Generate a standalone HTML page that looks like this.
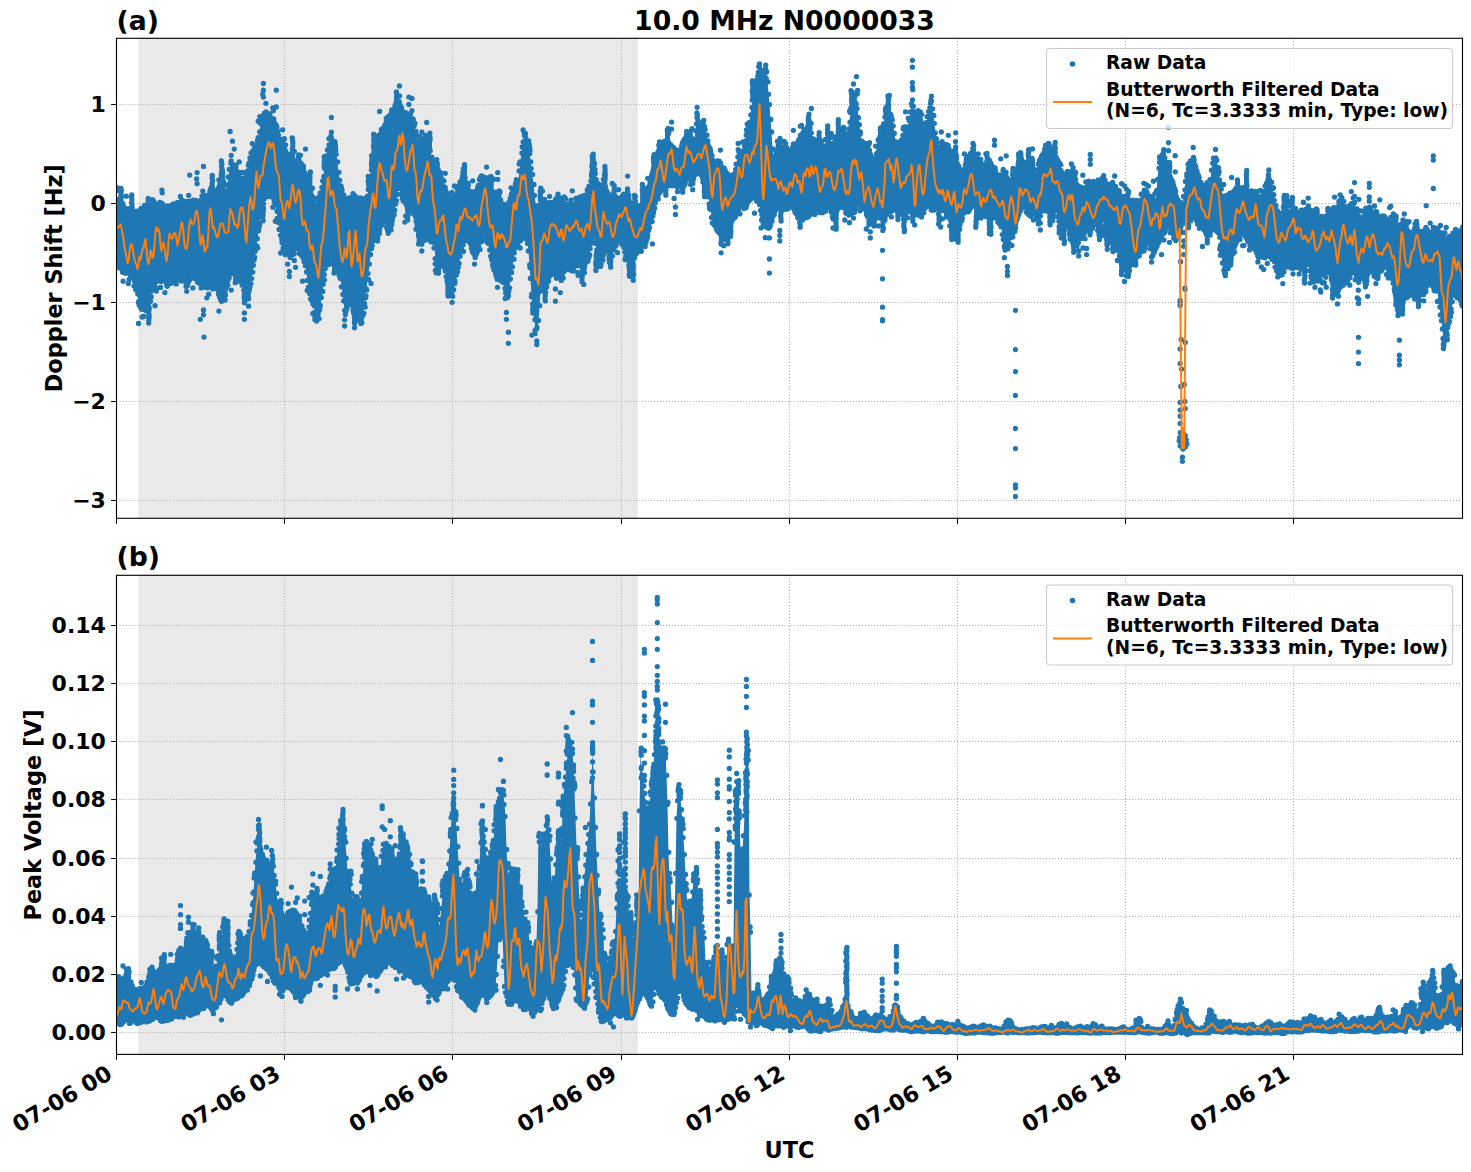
<!DOCTYPE html>
<html lang="en"><head><meta charset="utf-8"><title>10.0 MHz N0000033</title>
<style>html,body{margin:0;padding:0;background:#fff}body{width:1471px;height:1172px;overflow:hidden}</style></head>
<body>
<svg width="1471" height="1172" viewBox="0 0 1471 1172" font-family="DejaVu Sans, Liberation Sans, sans-serif" font-weight="bold" style="display:block">
<rect width="1471" height="1172" fill="#fff"/>
<defs>
<clipPath id="ca"><rect x="116.5" y="38.3" width="1346.0" height="479.99999999999994"/></clipPath>
<clipPath id="cb"><rect x="116.5" y="575.3" width="1346.0" height="479.10000000000014"/></clipPath>
</defs>
<rect x="139.2" y="38.3" width="497.8" height="479.99999999999994" fill="#d3d3d3" fill-opacity="0.5" stroke="#d3d3d3" stroke-opacity="0.5" stroke-width="1.3"/>
<path d="M284.5 38.3V518.3M452.5 38.3V518.3M621.5 38.3V518.3M789.5 38.3V518.3M957.5 38.3V518.3M1125.5 38.3V518.3M1293.5 38.3V518.3M116.5 104.5H1462.5M116.5 203.5H1462.5M116.5 302.5H1462.5M116.5 401.5H1462.5M116.5 500.5H1462.5" stroke="#b0b0b0" stroke-width="1" stroke-dasharray="1.07 1.9" fill="none"/>
<g clip-path="url(#ca)">
<path d="M116.5 200.3L117.5 199L118.5 199.6L119.5 200.8L120.5 201.8L121.5 202.6L122.5 204L123.5 206.3L124.5 209.9L125.5 212.5L126.5 212.6L127.5 210.8L128.5 208.9L129.5 207.9L130.5 208.2L131.5 209.5L132.5 211.1L133.5 212.5L134.5 213.3L135.5 214L136.5 214.8L137.5 215L138.5 213.4L139.5 211.6L140.5 210.8L141.5 210.9L142.5 210.7L143.5 210.3L144.5 209.5L145.5 208.9L146.5 208.8L147.5 209.5L148.5 210.6L149.5 211.1L150.5 210.2L151.5 208.6L152.5 206.9L153.5 205.6L154.5 204.8L155.5 204.7L156.5 205.1L157.5 205L158.5 203.7L159.5 202.5L160.5 202.5L161.5 203.4L162.5 205L163.5 206.5L164.5 207L165.5 206.9L166.5 206.7L167.5 206.7L168.5 207.1L169.5 207.3L170.5 206.6L171.5 205.5L172.5 204.6L173.5 204.5L174.5 205.3L175.5 205.6L176.5 205.3L177.5 204.7L178.5 204.1L179.5 203.3L180.5 202.6L181.5 202.9L182.5 203.8L183.5 203.6L184.5 202.4L185.5 202.1L186.5 202.9L187.5 203.5L188.5 203.3L189.5 202.4L190.5 201.6L191.5 201.5L192.5 201.4L193.5 200.4L194.5 199.3L195.5 199.4L196.5 200.9L197.5 202.4L198.5 202.6L199.5 201.4L200.5 199.2L201.5 196.9L202.5 196.3L203.5 196.9L204.5 197.6L205.5 197.7L206.5 198.1L207.5 196.7L208.5 195.2L209.5 192.5L210.5 189.3L211.5 187.6L212.5 190.1L213.5 192.8L214.5 194.1L215.5 194L216.5 193.4L217.5 190.5L218.5 187.9L219.5 185.2L220.5 182.4L221.5 180.7L222.5 183.2L223.5 186.5L224.5 190.2L225.5 193.3L226.5 192.7L227.5 184.7L228.5 176.2L229.5 169.4L230.5 164.2L231.5 161.3L232.5 164.1L233.5 167.1L234.5 169L235.5 169.7L236.5 170.3L237.5 171.7L238.5 174.5L239.5 177.4L240.5 179.1L241.5 179.2L242.5 178.5L243.5 178.5L244.5 178.6L245.5 177.6L246.5 174.3L247.5 169.2L248.5 165.3L249.5 163.1L250.5 161.3L251.5 158.6L252.5 155.1L253.5 151.6L254.5 148.5L255.5 145.9L256.5 143.4L257.5 140.8L258.5 137.1L259.5 131L260.5 123.8L261.5 118.7L262.5 116.3L263.5 115.3L264.5 113.9L265.5 111.3L266.5 111.2L267.5 112.7L268.5 113.7L269.5 115.2L270.5 117.4L271.5 119.1L272.5 120L273.5 121L274.5 122.5L275.5 124.6L276.5 127.7L277.5 130.9L278.5 134.1L279.5 137.7L280.5 140.5L281.5 141.6L282.5 142.2L283.5 143.6L284.5 146.3L285.5 149.6L286.5 152.7L287.5 155.2L288.5 156.9L289.5 158L290.5 158.7L291.5 158.3L292.5 158.2L293.5 159.3L294.5 161.3L295.5 163.6L296.5 165.4L297.5 165.5L298.5 164.4L299.5 163.7L300.5 163.9L301.5 165.8L302.5 167.8L303.5 170.3L304.5 173L305.5 175.4L306.5 179.3L307.5 182.4L308.5 185.1L309.5 188.1L310.5 192L311.5 195.1L312.5 199.1L313.5 203.2L314.5 206.5L315.5 208.8L316.5 207.2L317.5 204.5L318.5 201L319.5 197.6L320.5 193.9L321.5 186.9L322.5 180.7L323.5 175.1L324.5 169.3L325.5 163L326.5 156.7L327.5 150.3L328.5 144.3L329.5 138.7L330.5 135.8L331.5 138.9L332.5 141.6L333.5 143.8L334.5 145.7L335.5 148.8L336.5 154.9L337.5 162.4L338.5 170.9L339.5 179L340.5 184.6L341.5 187.5L342.5 190.7L343.5 194.5L344.5 198.5L345.5 200.2L346.5 199L347.5 198L348.5 198L349.5 198.3L350.5 198.6L351.5 198.9L352.5 199.1L353.5 198.6L354.5 197.6L355.5 197.2L356.5 198.4L357.5 200.1L358.5 201L359.5 200.5L360.5 199L361.5 198.6L362.5 199.6L363.5 200.4L364.5 199.3L365.5 197.6L366.5 196.4L367.5 194.9L368.5 189.2L369.5 182.8L370.5 176L371.5 169.3L372.5 163.2L373.5 158.2L374.5 153.3L375.5 148.4L376.5 143.1L377.5 138.3L378.5 135.1L379.5 134.4L380.5 133.7L381.5 132.1L382.5 130L383.5 128L384.5 126.1L385.5 124.4L386.5 122.5L387.5 120.6L388.5 118.9L389.5 116.9L390.5 115L391.5 113.4L392.5 112.4L393.5 111L394.5 108.5L395.5 106.4L396.5 104.7L397.5 103.1L398.5 101.9L399.5 101.6L400.5 105.3L401.5 108.7L402.5 111.5L403.5 113L404.5 112.8L405.5 112.6L406.5 113.7L407.5 115.1L408.5 116.2L409.5 116.9L410.5 116.7L411.5 119.7L412.5 122.1L413.5 123.7L414.5 126L415.5 130.7L416.5 136.2L417.5 141.6L418.5 144.2L419.5 143.7L420.5 142.8L421.5 142.3L422.5 140.9L423.5 139.6L424.5 138.2L425.5 136.2L426.5 139.9L427.5 141.8L428.5 143.7L429.5 147.1L430.5 151.8L431.5 156.9L432.5 160.9L433.5 164.2L434.5 167.4L435.5 170.4L436.5 173.1L437.5 173.8L438.5 174.4L439.5 175.8L440.5 177.6L441.5 178.1L442.5 179.4L443.5 181.6L444.5 185.8L445.5 190.6L446.5 193.3L447.5 195L448.5 196.6L449.5 198.5L450.5 200.2L451.5 201.2L452.5 198.7L453.5 197.3L454.5 197.9L455.5 198.3L456.5 195.8L457.5 192.2L458.5 188.7L459.5 185.2L460.5 181.9L461.5 178.8L462.5 175.4L463.5 177.4L464.5 179.5L465.5 181.9L466.5 184.4L467.5 186.7L468.5 189.8L469.5 193L470.5 194.5L471.5 194.3L472.5 194.2L473.5 195.1L474.5 194.1L475.5 192.6L476.5 191L477.5 188.3L478.5 184.5L479.5 180.3L480.5 177.4L481.5 176.9L482.5 177.7L483.5 177.2L484.5 175.9L485.5 176.7L486.5 178.7L487.5 180.6L488.5 182.4L489.5 185.9L490.5 189.5L491.5 192.7L492.5 195.6L493.5 197.1L494.5 197.7L495.5 197.8L496.5 197.3L497.5 196.9L498.5 197.2L499.5 197.7L500.5 200.3L501.5 203L502.5 204.8L503.5 205L504.5 204.1L505.5 204.3L506.5 206.3L507.5 207.4L508.5 205.2L509.5 201.8L510.5 198.1L511.5 195L512.5 192.8L513.5 190.8L514.5 187.8L515.5 184.7L516.5 182.5L517.5 181.8L518.5 179.4L519.5 170.3L520.5 161L521.5 152.2L522.5 145.7L523.5 140.5L524.5 135.1L525.5 136.8L526.5 138.2L527.5 139.7L528.5 143.8L529.5 152.3L530.5 160.4L531.5 167.5L532.5 175.2L533.5 184.5L534.5 194.2L535.5 203.9L536.5 206.6L537.5 208.6L538.5 208.7L539.5 207.3L540.5 206.9L541.5 207.3L542.5 207L543.5 205.8L544.5 204.9L545.5 205.5L546.5 205.6L547.5 205.1L548.5 204.1L549.5 203.1L550.5 202.7L551.5 202.8L552.5 203L553.5 202.9L554.5 202.3L555.5 201.4L556.5 200.3L557.5 199.3L558.5 199.2L559.5 200.1L560.5 201.5L561.5 202.5L562.5 203.2L563.5 204L564.5 204.9L565.5 205.6L566.5 205.9L567.5 205.6L568.5 204.6L569.5 204.2L570.5 205.2L571.5 206.9L572.5 207.9L573.5 206.8L574.5 204.7L575.5 202.8L576.5 201.6L577.5 200.8L578.5 201.1L579.5 201.1L580.5 201L581.5 202L582.5 204.5L583.5 205.9L584.5 205.2L585.5 201.9L586.5 197.7L587.5 195L588.5 190L589.5 185.5L590.5 180.9L591.5 176L592.5 171.1L593.5 166.6L594.5 169.3L595.5 174.2L596.5 178.9L597.5 182.4L598.5 183.7L599.5 185.7L600.5 188.7L601.5 188.7L602.5 183.6L603.5 178.9L604.5 181.9L605.5 186.1L606.5 190.6L607.5 194.7L608.5 196.5L609.5 197.5L610.5 197.7L611.5 197.6L612.5 197L613.5 196L614.5 195.5L615.5 196.4L616.5 197.7L617.5 198.4L618.5 198.4L619.5 198.4L620.5 198.1L621.5 197.2L622.5 195.5L623.5 193.8L624.5 194.3L625.5 195.4L626.5 197.1L627.5 199.4L628.5 201.8L629.5 203.4L630.5 203.9L631.5 204.1L632.5 204.6L633.5 205L634.5 205.6L635.5 206.9L636.5 209.1L637.5 211L638.5 211.1L639.5 208.1L640.5 206.2L641.5 205.1L642.5 203.7L643.5 201L644.5 197.2L645.5 193.1L646.5 189.8L647.5 187.5L648.5 185.8L649.5 184.1L650.5 181.1L651.5 178.7L652.5 177L653.5 173.7L654.5 168.1L655.5 162L656.5 156.1L657.5 152.1L658.5 149.3L659.5 147.2L660.5 145.1L661.5 144.4L662.5 143L663.5 141.6L664.5 141.1L665.5 141.9L666.5 142.3L667.5 142.6L668.5 142.6L669.5 143L670.5 144.2L671.5 144.9L672.5 146.7L673.5 148.3L674.5 150L675.5 152.4L676.5 154.8L677.5 154.7L678.5 153.4L679.5 151.2L680.5 148.2L681.5 146.4L682.5 143.6L683.5 141.1L684.5 138.9L685.5 136.9L686.5 135.3L687.5 136.5L688.5 136.9L689.5 136.7L690.5 136.6L691.5 137.7L692.5 139.8L693.5 141.6L694.5 138.3L695.5 130.8L696.5 123.8L697.5 119.6L698.5 122.4L699.5 125.3L700.5 126.4L701.5 126.3L702.5 125.6L703.5 125.9L704.5 126.4L705.5 129.2L706.5 134.6L707.5 140L708.5 145.1L709.5 149.4L710.5 152.9L711.5 156.5L712.5 160.9L713.5 162.8L714.5 164.7L715.5 165.8L716.5 165.1L717.5 163L718.5 162L719.5 162.1L720.5 163.7L721.5 165.8L722.5 167.4L723.5 168.2L724.5 168.9L725.5 170.2L726.5 172.5L727.5 174.9L728.5 176.7L729.5 179.2L730.5 181.5L731.5 181.9L732.5 180.5L733.5 178.4L734.5 174.8L735.5 168.8L736.5 162.8L737.5 157.4L738.5 152.5L739.5 152.2L740.5 153.1L741.5 154.2L742.5 153.7L743.5 149.6L744.5 145.1L745.5 140.1L746.5 135.3L747.5 131.1L748.5 126.9L749.5 121.9L750.5 114.5L751.5 106.6L752.5 98.9L753.5 92.1L754.5 88.5L755.5 84.6L756.5 80.4L757.5 75.7L758.5 71.1L759.5 67.8L760.5 70.3L761.5 72.2L762.5 73L763.5 72.7L764.5 70.6L765.5 68.5L766.5 71L767.5 82L768.5 93.3L769.5 105L770.5 118.7L771.5 133L772.5 147.6L773.5 156.7L774.5 156.6L775.5 154.7L776.5 151.5L777.5 148L778.5 145.2L779.5 143.7L780.5 143.8L781.5 146.3L782.5 149.5L783.5 151.3L784.5 150.8L785.5 149.3L786.5 148.3L787.5 148.4L788.5 149.5L789.5 151.3L790.5 153.5L791.5 154.4L792.5 153.7L793.5 151.6L794.5 148.8L795.5 146.9L796.5 145.8L797.5 144.1L798.5 141.2L799.5 138.1L800.5 136.4L801.5 136.4L802.5 136.6L803.5 135.7L804.5 134.3L805.5 133L806.5 129.8L807.5 126.5L808.5 122.2L809.5 122.3L810.5 127.5L811.5 133.2L812.5 138.3L813.5 139.9L814.5 140.4L815.5 141.4L816.5 143.9L817.5 147.6L818.5 149.9L819.5 150.6L820.5 149.7L821.5 148.4L822.5 148.4L823.5 148.1L824.5 147.1L825.5 145.8L826.5 145.5L827.5 146.3L828.5 147.1L829.5 146.8L830.5 145.4L831.5 143.5L832.5 142.3L833.5 142.5L834.5 143L835.5 142L836.5 139.8L837.5 137.8L838.5 136.5L839.5 135.3L840.5 134.2L841.5 133L842.5 132.2L843.5 134.3L844.5 136.4L845.5 139.1L846.5 138.7L847.5 133.4L848.5 127.8L849.5 121.2L850.5 113.5L851.5 105.8L852.5 99L853.5 93.1L854.5 97.2L855.5 100.9L856.5 103.9L857.5 108.1L858.5 116.5L859.5 125.1L860.5 134.1L861.5 141L862.5 145.6L863.5 149L864.5 151.8L865.5 149.4L866.5 146.9L867.5 145.3L868.5 145.3L869.5 150L870.5 155L871.5 159.2L872.5 161.5L873.5 161.7L874.5 161.3L875.5 160.7L876.5 155.9L877.5 151.1L878.5 148L879.5 144.8L880.5 140.6L881.5 135.2L882.5 129.3L883.5 123.7L884.5 117.9L885.5 113.2L886.5 112.9L887.5 114.3L888.5 114.8L889.5 113.8L890.5 115.3L891.5 117.4L892.5 120.4L893.5 125.5L894.5 133.2L895.5 140.7L896.5 146.9L897.5 147L898.5 145L899.5 144.6L900.5 145.2L901.5 140.5L902.5 134.8L903.5 129.4L904.5 126.3L905.5 127.3L906.5 127.8L907.5 128.1L908.5 125.2L909.5 119.4L910.5 112.2L911.5 104.7L912.5 104.2L913.5 107.2L914.5 111.9L915.5 116.5L916.5 117.8L917.5 117.8L918.5 117.1L919.5 118.5L920.5 122.2L921.5 125.9L922.5 129.8L923.5 129.8L924.5 127.9L925.5 125.4L926.5 122.2L927.5 117.1L928.5 111.9L929.5 107.4L930.5 103.9L931.5 101.4L932.5 108.5L933.5 115.9L934.5 124.3L935.5 132.4L936.5 138.4L937.5 143.3L938.5 147.5L939.5 148.8L940.5 147.5L941.5 145.5L942.5 143.9L943.5 144.8L944.5 145.7L945.5 146L946.5 146.6L947.5 147.5L948.5 149.7L949.5 152.6L950.5 154.7L951.5 154.7L952.5 153.3L953.5 152.4L954.5 153L955.5 154.7L956.5 157.7L957.5 162.2L958.5 166.5L959.5 171.4L960.5 174.2L961.5 174.8L962.5 173.8L963.5 171.4L964.5 168.4L965.5 165.6L966.5 163.4L967.5 161.3L968.5 158.6L969.5 156L970.5 154L971.5 153.4L972.5 153.5L973.5 153.2L974.5 153.4L975.5 155.1L976.5 156.8L977.5 158.4L978.5 160.4L979.5 164.1L980.5 167L981.5 168L982.5 166.9L983.5 164.4L984.5 164.2L985.5 164.5L986.5 164.2L987.5 162.7L988.5 160.7L989.5 159.6L990.5 161.9L991.5 164.4L992.5 165.9L993.5 167.3L994.5 169.8L995.5 172.8L996.5 175.6L997.5 176.3L998.5 175.6L999.5 175.6L1000.5 175.5L1001.5 175.2L1002.5 174.4L1003.5 174.2L1004.5 175.1L1005.5 176.1L1006.5 176.9L1007.5 178.5L1008.5 180.6L1009.5 181.5L1010.5 181.6L1011.5 181.4L1012.5 180.6L1013.5 179.6L1014.5 178.4L1015.5 177.2L1016.5 173.5L1017.5 168.9L1018.5 163.8L1019.5 159.5L1020.5 158.7L1021.5 158.9L1022.5 160.2L1023.5 161.9L1024.5 163.4L1025.5 164.9L1026.5 166.1L1027.5 167.4L1028.5 168.9L1029.5 171.2L1030.5 173.9L1031.5 176.3L1032.5 179.1L1033.5 181.4L1034.5 181.1L1035.5 177.8L1036.5 174.1L1037.5 170.2L1038.5 164.4L1039.5 159.3L1040.5 156.8L1041.5 155.8L1042.5 155.3L1043.5 152.6L1044.5 148.7L1045.5 145.7L1046.5 145.1L1047.5 144.7L1048.5 144.4L1049.5 145.6L1050.5 148L1051.5 150.6L1052.5 153.3L1053.5 155.1L1054.5 155.9L1055.5 156.5L1056.5 157.6L1057.5 160.1L1058.5 161.7L1059.5 163.2L1060.5 165.6L1061.5 169.2L1062.5 173L1063.5 176.3L1064.5 176.2L1065.5 174.8L1066.5 174.3L1067.5 174.3L1068.5 174.4L1069.5 173.7L1070.5 172.2L1071.5 170.5L1072.5 169.5L1073.5 169.7L1074.5 174.6L1075.5 180L1076.5 184.9L1077.5 190.2L1078.5 190.3L1079.5 189.6L1080.5 187.5L1081.5 186.3L1082.5 187.9L1083.5 189.8L1084.5 191.2L1085.5 189.5L1086.5 186.7L1087.5 183.9L1088.5 180.5L1089.5 181.1L1090.5 182.2L1091.5 184L1092.5 186.1L1093.5 187.3L1094.5 188.6L1095.5 189.6L1096.5 188.3L1097.5 185.4L1098.5 183.7L1099.5 182.9L1100.5 183.2L1101.5 182.4L1102.5 180.5L1103.5 178.7L1104.5 180.3L1105.5 183.1L1106.5 186.1L1107.5 188.5L1108.5 190.3L1109.5 192.1L1110.5 193.2L1111.5 193.1L1112.5 192.1L1113.5 190L1114.5 186.5L1115.5 186.8L1116.5 189.2L1117.5 192.5L1118.5 194.4L1119.5 194L1120.5 194.8L1121.5 196.7L1122.5 198.1L1123.5 198.5L1124.5 198.5L1125.5 198.6L1126.5 198.8L1127.5 199.9L1128.5 201.6L1129.5 203L1130.5 203.2L1131.5 202.2L1132.5 200.9L1133.5 200.1L1134.5 200.2L1135.5 201.1L1136.5 202.6L1137.5 203.5L1138.5 203.6L1139.5 203.4L1140.5 203.4L1141.5 200.5L1142.5 197.4L1143.5 193.4L1144.5 189.9L1145.5 189.9L1146.5 190.8L1147.5 193.5L1148.5 195.8L1149.5 196.9L1150.5 197L1151.5 196.9L1152.5 199L1153.5 201.7L1154.5 203.4L1155.5 202.3L1156.5 190.3L1157.5 178.7L1158.5 167.8L1159.5 161.3L1160.5 159.9L1161.5 157.5L1162.5 154.6L1163.5 154.6L1164.5 157.5L1165.5 162.3L1166.5 166.7L1167.5 169.5L1168.5 170.7L1169.5 172.6L1170.5 175.5L1171.5 178.2L1172.5 180.9L1173.5 184L1174.5 188.5L1175.5 193.2L1176.5 197.1L1177.5 200.1L1178.5 200.6L1179.5 201.1L1180.5 202.4L1181.5 204.3L1182.5 206.2L1183.5 197.4L1184.5 189L1185.5 182L1186.5 176.4L1187.5 174L1188.5 169.4L1189.5 163.9L1190.5 161L1191.5 161L1192.5 161.4L1193.5 162.2L1194.5 164.2L1195.5 166.7L1196.5 169.2L1197.5 172L1198.5 175.5L1199.5 178.5L1200.5 181L1201.5 183.4L1202.5 185.9L1203.5 188.4L1204.5 191.1L1205.5 192.6L1206.5 193.1L1207.5 194L1208.5 195.5L1209.5 187.4L1210.5 179L1211.5 170.4L1212.5 163.1L1213.5 161.6L1214.5 159.7L1215.5 156.8L1216.5 158.8L1217.5 166.6L1218.5 175L1219.5 182.1L1220.5 185.8L1221.5 189.9L1222.5 195.5L1223.5 201L1224.5 200.4L1225.5 199.1L1226.5 197.3L1227.5 195.8L1228.5 195L1229.5 194.1L1230.5 192.6L1231.5 192.6L1232.5 192.9L1233.5 192.1L1234.5 190.6L1235.5 188.8L1236.5 188.8L1237.5 190.4L1238.5 192L1239.5 192.3L1240.5 191L1241.5 188.5L1242.5 186.7L1243.5 187L1244.5 188.5L1245.5 189.9L1246.5 190.7L1247.5 191.2L1248.5 192.3L1249.5 193.9L1250.5 192.7L1251.5 191.7L1252.5 191L1253.5 191.4L1254.5 192.7L1255.5 192.4L1256.5 191.6L1257.5 192.4L1258.5 195.5L1259.5 198.8L1260.5 200.3L1261.5 198.7L1262.5 196.1L1263.5 193.4L1264.5 190.6L1265.5 186.7L1266.5 183.8L1267.5 180.7L1268.5 179.7L1269.5 180.3L1270.5 181.2L1271.5 182.1L1272.5 187.4L1273.5 193.5L1274.5 201.1L1275.5 209.5L1276.5 212.5L1277.5 214.2L1278.5 214.6L1279.5 214.4L1280.5 213.8L1281.5 212.9L1282.5 212.2L1283.5 212.6L1284.5 214L1285.5 215.3L1286.5 216.1L1287.5 216.3L1288.5 215.5L1289.5 214L1290.5 213.2L1291.5 213.6L1292.5 214.2L1293.5 214.1L1294.5 213.8L1295.5 213.6L1296.5 213.6L1297.5 213.2L1298.5 212.2L1299.5 211L1300.5 210.7L1301.5 211.7L1302.5 212.5L1303.5 212.9L1304.5 212.5L1305.5 209.8L1306.5 208.7L1307.5 207.2L1308.5 205.9L1309.5 209.8L1310.5 211.3L1311.5 213.3L1312.5 215.7L1313.5 218.1L1314.5 219.8L1315.5 220.7L1316.5 220.6L1317.5 220.2L1318.5 219.7L1319.5 218.7L1320.5 217.3L1321.5 216.6L1322.5 216.5L1323.5 216.3L1324.5 216.4L1325.5 216.4L1326.5 216.1L1327.5 215.7L1328.5 215.5L1329.5 214.5L1330.5 213.5L1331.5 213.2L1332.5 213.9L1333.5 214.8L1334.5 213.7L1335.5 211.4L1336.5 208.5L1337.5 205.4L1338.5 202.8L1339.5 201.4L1340.5 200.5L1341.5 202.7L1342.5 204.3L1343.5 205.3L1344.5 206.2L1345.5 207.7L1346.5 209.9L1347.5 211.4L1348.5 209.2L1349.5 206.3L1350.5 204.3L1351.5 203L1352.5 204.5L1353.5 206.4L1354.5 209.3L1355.5 212L1356.5 213.9L1357.5 215.6L1358.5 217L1359.5 217.1L1360.5 217.1L1361.5 217.8L1362.5 219.3L1363.5 220L1364.5 218.9L1365.5 216.6L1366.5 212.4L1367.5 209.1L1368.5 207L1369.5 206.5L1370.5 209.5L1371.5 211.9L1372.5 213.6L1373.5 213.5L1374.5 212.6L1375.5 212L1376.5 212.8L1377.5 214.7L1378.5 216.4L1379.5 217.3L1380.5 217.4L1381.5 216.8L1382.5 215.9L1383.5 215.7L1384.5 216.2L1385.5 217.5L1386.5 218.8L1387.5 220L1388.5 220.7L1389.5 220L1390.5 218L1391.5 216.9L1392.5 217.1L1393.5 218.3L1394.5 219.9L1395.5 221.7L1396.5 223.6L1397.5 225.6L1398.5 227.1L1399.5 227.2L1400.5 225.5L1401.5 223L1402.5 222.2L1403.5 222.3L1404.5 223.5L1405.5 225.6L1406.5 227.8L1407.5 229.8L1408.5 231.3L1409.5 232.3L1410.5 233.9L1411.5 236.3L1412.5 236.9L1413.5 232.5L1414.5 227.8L1415.5 224.8L1416.5 226.4L1417.5 229.6L1418.5 231.4L1419.5 231.9L1420.5 232.2L1421.5 232.2L1422.5 232.5L1423.5 231.8L1424.5 230.4L1425.5 229.6L1426.5 229.2L1427.5 230.5L1428.5 232.3L1429.5 233.8L1430.5 233.8L1431.5 232.7L1432.5 232.4L1433.5 232.2L1434.5 230.8L1435.5 228.9L1436.5 227.8L1437.5 227.8L1438.5 230.6L1439.5 233.3L1440.5 235.2L1441.5 235.5L1442.5 235.1L1443.5 236L1444.5 238.3L1445.5 240.7L1446.5 242L1447.5 240.4L1448.5 238.3L1449.5 237.3L1450.5 236.4L1451.5 236.8L1452.5 236.9L1453.5 237.2L1454.5 237.4L1455.5 237L1456.5 236L1457.5 234.5L1458.5 232.9L1459.5 231.4L1460.5 230.5L1461.5 230.4L1462.5 230.8L1462.5 305.7L1461.5 303.8L1460.5 301.3L1459.5 298.7L1458.5 297.4L1457.5 297.7L1456.5 296.5L1455.5 294.6L1454.5 291.7L1453.5 294.5L1452.5 302.4L1451.5 310L1450.5 317.4L1449.5 320.5L1448.5 323.8L1447.5 328.4L1446.5 332.7L1445.5 335.5L1444.5 337.3L1443.5 337.5L1442.5 329.8L1441.5 321.2L1440.5 314L1439.5 307.2L1438.5 300L1437.5 291.6L1436.5 287.8L1435.5 286.3L1434.5 286.4L1433.5 287.1L1432.5 287.3L1431.5 285.6L1430.5 283.2L1429.5 281.5L1428.5 281L1427.5 281.4L1426.5 282.1L1425.5 284.6L1424.5 287L1423.5 289.9L1422.5 290.4L1421.5 288.3L1420.5 286.5L1419.5 285.2L1418.5 288.4L1417.5 291.2L1416.5 293.6L1415.5 295.1L1414.5 294.4L1413.5 293L1412.5 291.9L1411.5 293.2L1410.5 295.1L1409.5 296.4L1408.5 297.2L1407.5 296.8L1406.5 297.2L1405.5 297.7L1404.5 299.3L1403.5 301L1402.5 301.2L1401.5 300.5L1400.5 302.4L1399.5 306L1398.5 311L1397.5 310.9L1396.5 303L1395.5 294.6L1394.5 286.5L1393.5 282.8L1392.5 279.3L1391.5 275.6L1390.5 272.6L1389.5 271.2L1388.5 269.3L1387.5 267.3L1386.5 265.7L1385.5 265.6L1384.5 266.6L1383.5 267.4L1382.5 268.2L1381.5 268.4L1380.5 268.8L1379.5 269.6L1378.5 270.8L1377.5 272.2L1376.5 273.2L1375.5 272.5L1374.5 272L1373.5 271.3L1372.5 270.5L1371.5 270.5L1370.5 271.2L1369.5 272.5L1368.5 274L1367.5 274.5L1366.5 274.1L1365.5 273.8L1364.5 275.2L1363.5 276.5L1362.5 277.5L1361.5 278.1L1360.5 278.8L1359.5 280.2L1358.5 282.3L1357.5 280L1356.5 276.9L1355.5 273.3L1354.5 270.5L1353.5 268.8L1352.5 267.9L1351.5 268.9L1350.5 273.5L1349.5 277.2L1348.5 278.4L1347.5 278.5L1346.5 279.7L1345.5 282.2L1344.5 283.9L1343.5 283L1342.5 281.4L1341.5 280.3L1340.5 280.2L1339.5 284.9L1338.5 289.7L1337.5 294.1L1336.5 293.4L1335.5 289.2L1334.5 286.2L1333.5 282.8L1332.5 280.1L1331.5 276.9L1330.5 273.9L1329.5 271L1328.5 268.3L1327.5 269.1L1326.5 271L1325.5 273L1324.5 273.8L1323.5 273.3L1322.5 273.5L1321.5 275.9L1320.5 279.4L1319.5 282L1318.5 282.6L1317.5 281.9L1316.5 280.7L1315.5 280L1314.5 281L1313.5 281.2L1312.5 280.7L1311.5 278.5L1310.5 275L1309.5 271.2L1308.5 263.9L1307.5 263.7L1306.5 264.1L1305.5 265L1304.5 265.7L1303.5 266.8L1302.5 267.9L1301.5 268.6L1300.5 269L1299.5 268L1298.5 266L1297.5 264.7L1296.5 264.1L1295.5 264.6L1294.5 265.3L1293.5 264.9L1292.5 263.2L1291.5 260.9L1290.5 259.3L1289.5 259L1288.5 259.1L1287.5 258.8L1286.5 258.5L1285.5 263.4L1284.5 267.9L1283.5 271.9L1282.5 274.2L1281.5 272.4L1280.5 271.8L1279.5 272.2L1278.5 272.4L1277.5 271.2L1276.5 269L1275.5 266.8L1274.5 262.1L1273.5 257.7L1272.5 252.8L1271.5 247.1L1270.5 246.4L1269.5 247.2L1268.5 249.8L1267.5 252.9L1266.5 255.8L1265.5 257.9L1264.5 258.9L1263.5 257.8L1262.5 256.7L1261.5 257L1260.5 257.8L1259.5 256.9L1258.5 256.4L1257.5 255.7L1256.5 254.1L1255.5 251.5L1254.5 248.4L1253.5 246.3L1252.5 246.1L1251.5 246.4L1250.5 246.2L1249.5 245.6L1248.5 243L1247.5 240L1246.5 237.2L1245.5 235.5L1244.5 234.9L1243.5 234.5L1242.5 233.7L1241.5 233.8L1240.5 235.7L1239.5 237.3L1238.5 238.5L1237.5 239.9L1236.5 242.2L1235.5 244.7L1234.5 246.6L1233.5 248.5L1232.5 249.4L1231.5 250.4L1230.5 252.5L1229.5 256L1228.5 260.1L1227.5 263.7L1226.5 265.4L1225.5 266.4L1224.5 268.5L1223.5 270.9L1222.5 263.9L1221.5 254.7L1220.5 245.1L1219.5 236.8L1218.5 233.3L1217.5 230.7L1216.5 227.9L1215.5 226.4L1214.5 226.9L1213.5 228.1L1212.5 228.9L1211.5 229.2L1210.5 229.8L1209.5 231.9L1208.5 234.7L1207.5 235L1206.5 234.3L1205.5 232.6L1204.5 230.4L1203.5 228.4L1202.5 227.1L1201.5 226.9L1200.5 228.1L1199.5 228.2L1198.5 226.2L1197.5 223.3L1196.5 220.1L1195.5 217.2L1194.5 215.4L1193.5 215.2L1192.5 216.2L1191.5 217.1L1190.5 217.8L1189.5 218.9L1188.5 220L1187.5 220.2L1186.5 219.8L1185.5 220.3L1184.5 221L1183.5 221.7L1182.5 223.1L1181.5 226.8L1180.5 230.5L1179.5 233.4L1178.5 235.7L1177.5 237.9L1176.5 236.4L1175.5 235.4L1174.5 234.8L1173.5 234.8L1172.5 233.9L1171.5 231.1L1170.5 228L1169.5 226.5L1168.5 226.3L1167.5 226.7L1166.5 227.9L1165.5 230.5L1164.5 232.4L1163.5 233.5L1162.5 234.6L1161.5 236.4L1160.5 238.8L1159.5 241.1L1158.5 243.4L1157.5 245.1L1156.5 246.2L1155.5 248.1L1154.5 250.9L1153.5 254.2L1152.5 256.4L1151.5 256L1150.5 249.9L1149.5 244.4L1148.5 240.5L1147.5 239.8L1146.5 242.4L1145.5 245.3L1144.5 248L1143.5 250.2L1142.5 250.8L1141.5 251L1140.5 252.2L1139.5 252.5L1138.5 253.5L1137.5 255.5L1136.5 258.3L1135.5 260.2L1134.5 260L1133.5 258.1L1132.5 257L1131.5 258.5L1130.5 262.3L1129.5 266.8L1128.5 269.4L1127.5 270.6L1126.5 270.9L1125.5 270.5L1124.5 267.8L1123.5 265.5L1122.5 263.4L1121.5 261.2L1120.5 258.3L1119.5 255.2L1118.5 252.4L1117.5 248.7L1116.5 243.8L1115.5 238.3L1114.5 233.4L1113.5 233L1112.5 232.3L1111.5 231.9L1110.5 232.8L1109.5 235.5L1108.5 238.6L1107.5 241.8L1106.5 239.8L1105.5 233.5L1104.5 226.4L1103.5 220.1L1102.5 219.7L1101.5 220.3L1100.5 220.6L1099.5 220.1L1098.5 219.8L1097.5 219.7L1096.5 220.1L1095.5 220.4L1094.5 221.3L1093.5 223.1L1092.5 225.5L1091.5 227.3L1090.5 228.3L1089.5 228.4L1088.5 227.8L1087.5 228.3L1086.5 229.3L1085.5 231.2L1084.5 233.5L1083.5 234.4L1082.5 234.4L1081.5 234.2L1080.5 236.1L1079.5 239L1078.5 242.3L1077.5 246L1076.5 244L1075.5 240.4L1074.5 236.1L1073.5 232.5L1072.5 231.4L1071.5 231.7L1070.5 231.4L1069.5 229L1068.5 225L1067.5 221L1066.5 221.5L1065.5 223.2L1064.5 225.6L1063.5 227.1L1062.5 227.6L1061.5 228.1L1060.5 228.7L1059.5 225.9L1058.5 221.1L1057.5 216L1056.5 210.2L1055.5 208.1L1054.5 207.1L1053.5 207.3L1052.5 208.8L1051.5 210.8L1050.5 211.6L1049.5 210.6L1048.5 208.9L1047.5 207.4L1046.5 206.5L1045.5 206.3L1044.5 207.2L1043.5 208.9L1042.5 210L1041.5 210.5L1040.5 211.4L1039.5 213.2L1038.5 214.8L1037.5 215.4L1036.5 215.1L1035.5 214.4L1034.5 213.5L1033.5 212.8L1032.5 212.5L1031.5 212.2L1030.5 211L1029.5 209.9L1028.5 209.7L1027.5 210.1L1026.5 209.8L1025.5 208.6L1024.5 207L1023.5 205.4L1022.5 205L1021.5 206.4L1020.5 209.5L1019.5 212.6L1018.5 215.9L1017.5 218.5L1016.5 221L1015.5 223.7L1014.5 227L1013.5 230.3L1012.5 233.1L1011.5 235.5L1010.5 238.7L1009.5 242.9L1008.5 247.4L1007.5 248.1L1006.5 246.5L1005.5 245.3L1004.5 244.8L1003.5 239.9L1002.5 234.1L1001.5 228.3L1000.5 223.9L999.5 223.1L998.5 221.2L997.5 217.8L996.5 214.6L995.5 212.7L994.5 212.2L993.5 213L992.5 214.5L991.5 216L990.5 215.9L989.5 214.2L988.5 213.2L987.5 213.5L986.5 214.7L985.5 215.5L984.5 215.5L983.5 215.2L982.5 215.2L981.5 215.8L980.5 216.2L979.5 215.8L978.5 214.1L977.5 211.2L976.5 209L975.5 207.6L974.5 205.8L973.5 203.9L972.5 203.2L971.5 205L970.5 208.1L969.5 210.5L968.5 211L967.5 209.8L966.5 209.8L965.5 210.7L964.5 211.9L963.5 213.5L962.5 217.5L961.5 221.7L960.5 225.8L959.5 228.8L958.5 229.8L957.5 230L956.5 230.3L955.5 229.3L954.5 228L953.5 226.3L952.5 223.8L951.5 221.3L950.5 219.7L949.5 217.9L948.5 215.6L947.5 213.5L946.5 212L945.5 211.2L944.5 210.6L943.5 209.6L942.5 208.2L941.5 206.8L940.5 205.7L939.5 205.6L938.5 206.7L937.5 208L936.5 208.4L935.5 208.3L934.5 209.3L933.5 210.8L932.5 211.2L931.5 210.3L930.5 208.4L929.5 206.5L928.5 205.2L927.5 204.9L926.5 205.4L925.5 207.3L924.5 209.7L923.5 211.8L922.5 212.7L921.5 212.3L920.5 212L919.5 212.2L918.5 212.4L917.5 212.6L916.5 213.5L915.5 214.9L914.5 215.1L913.5 213L912.5 209.2L911.5 206L910.5 205L909.5 206.6L908.5 209.3L907.5 211.1L906.5 211.4L905.5 211.3L904.5 211.9L903.5 213.1L902.5 213.7L901.5 212.8L900.5 211.2L899.5 210.8L898.5 211.5L897.5 211.6L896.5 210.4L895.5 208.7L894.5 207.7L893.5 207.9L892.5 208.8L891.5 209.6L890.5 209.6L889.5 209.5L888.5 210.5L887.5 212.5L886.5 215.1L885.5 217L884.5 217.8L883.5 217.7L882.5 218.1L881.5 217.4L880.5 217.4L879.5 217.5L878.5 217.4L877.5 216.3L876.5 215L875.5 214.8L874.5 215.4L873.5 215.6L872.5 215.6L871.5 216.2L870.5 217.1L869.5 217.5L868.5 217.6L867.5 215.4L866.5 212.7L865.5 210L864.5 208.5L863.5 209.2L862.5 209.7L861.5 209.2L860.5 207.8L859.5 206.3L858.5 205.2L857.5 204.9L856.5 204.9L855.5 205.7L854.5 207.6L853.5 210.2L852.5 212.4L851.5 213.8L850.5 214.5L849.5 214.8L848.5 214.8L847.5 214L846.5 212.7L845.5 210.3L844.5 207.5L843.5 204.9L842.5 202.8L841.5 202.3L840.5 203.7L839.5 206.1L838.5 207.9L837.5 208.3L836.5 210.4L835.5 213.1L834.5 216.4L833.5 218.8L832.5 216.3L831.5 212.9L830.5 209.5L829.5 207.5L828.5 206.9L827.5 206.3L826.5 206.7L825.5 206.7L824.5 207.1L823.5 208.3L822.5 209.4L821.5 209.6L820.5 209.5L819.5 209.4L818.5 209.1L817.5 209.1L816.5 209.2L815.5 209.4L814.5 210.2L813.5 211.7L812.5 212.9L811.5 214L810.5 214.4L809.5 214.3L808.5 213.6L807.5 213.1L806.5 213.6L805.5 214.4L804.5 215.2L803.5 215.7L802.5 215.9L801.5 216L800.5 216.4L799.5 217L798.5 217.6L797.5 216.8L796.5 214.7L795.5 212.1L794.5 210.1L793.5 208.2L792.5 206.6L791.5 205.9L790.5 206.2L789.5 207.4L788.5 208.5L787.5 208.9L786.5 208.8L785.5 208.8L784.5 209.2L783.5 209.5L782.5 209.3L781.5 208.6L780.5 207.5L779.5 206.3L778.5 206L777.5 207.3L776.5 209.7L775.5 211.9L774.5 213.4L773.5 214.7L772.5 217.3L771.5 221L770.5 224.9L769.5 228.7L768.5 228.7L767.5 227.4L766.5 226.4L765.5 225.6L764.5 224.7L763.5 223.5L762.5 219.8L761.5 215L760.5 209.8L759.5 204.7L758.5 201.5L757.5 198.8L756.5 197.7L755.5 198L754.5 197.8L753.5 196.9L752.5 197.1L751.5 198.2L750.5 199.5L749.5 200.1L748.5 200.7L747.5 201.5L746.5 203.3L745.5 205.7L744.5 207.5L743.5 208.2L742.5 207L741.5 205.1L740.5 204.5L739.5 205.8L738.5 207.7L737.5 210.5L736.5 212.4L735.5 213.9L734.5 215.8L733.5 218L732.5 220.3L731.5 222.4L730.5 224L729.5 225.7L728.5 228.8L727.5 233.5L726.5 237.7L725.5 239.5L724.5 239.2L723.5 238.6L722.5 237.6L721.5 236.4L720.5 234.3L719.5 232L718.5 230.5L717.5 229.9L716.5 229.1L715.5 227L714.5 224.7L713.5 223.2L712.5 222.5L711.5 216.4L710.5 210L709.5 203.3L708.5 196.6L707.5 190.9L706.5 185.3L705.5 180.5L704.5 178.7L703.5 178.3L702.5 177.1L701.5 175.6L700.5 174.4L699.5 173.6L698.5 173.2L697.5 173.2L696.5 173.9L695.5 174.8L694.5 176.2L693.5 177.9L692.5 178.6L691.5 177.9L690.5 176.8L689.5 175.9L688.5 176.1L687.5 178L686.5 180.5L685.5 183.7L684.5 185.5L683.5 186.5L682.5 187.1L681.5 186.7L680.5 185.9L679.5 184.7L678.5 183.6L677.5 182.8L676.5 182.8L675.5 183.8L674.5 183.7L673.5 183.5L672.5 184.1L671.5 185.4L670.5 186.3L669.5 185.5L668.5 183.8L667.5 183.3L666.5 184.3L665.5 185.8L664.5 187.5L663.5 188.9L662.5 189.9L661.5 191.1L660.5 192.5L659.5 193.6L658.5 194.3L657.5 195.4L656.5 197.9L655.5 203.1L654.5 208.5L653.5 213.4L652.5 216.7L651.5 219.4L650.5 223.2L649.5 227.7L648.5 231.3L647.5 234.7L646.5 239.2L645.5 243.7L644.5 244.9L643.5 244L642.5 242.6L641.5 242.4L640.5 244.2L639.5 246.8L638.5 249.7L637.5 251.7L636.5 253L635.5 254.4L634.5 256.8L633.5 261L632.5 263.9L631.5 265.3L630.5 264.2L629.5 260L628.5 257.5L627.5 256.5L626.5 256.6L625.5 255.7L624.5 252.3L623.5 247.6L622.5 244.6L621.5 242.8L620.5 241.3L619.5 240.2L618.5 240.8L617.5 241.2L616.5 241.7L615.5 243.7L614.5 246.6L613.5 248.6L612.5 249.1L611.5 248.4L610.5 248.5L609.5 249.2L608.5 249.5L607.5 249.2L606.5 249L605.5 249.9L604.5 252.3L603.5 255.9L602.5 261L601.5 264.3L600.5 263.6L599.5 261.9L598.5 261L597.5 259.4L596.5 251.6L595.5 242.7L594.5 234.7L593.5 230.8L592.5 236.9L591.5 243.4L590.5 249.6L589.5 254.3L588.5 258L587.5 261.5L586.5 261L585.5 259.8L584.5 259.4L583.5 260.4L582.5 262.1L581.5 263.7L580.5 264.7L579.5 265.2L578.5 265.8L577.5 266.2L576.5 265.7L575.5 264.4L574.5 263.5L573.5 263.2L572.5 262.8L571.5 261.9L570.5 260.7L569.5 259.7L568.5 259.9L567.5 261.6L566.5 263.9L565.5 265.6L564.5 266.7L563.5 267.4L562.5 267.5L561.5 267L560.5 266.8L559.5 268.3L558.5 270.6L557.5 271.4L556.5 270L555.5 268.3L554.5 268.3L553.5 269.8L552.5 272.3L551.5 274.6L550.5 276.1L549.5 278L548.5 280.8L547.5 282.7L546.5 282.3L545.5 280.7L544.5 280.1L543.5 281.8L542.5 284.4L541.5 287.4L540.5 291.7L539.5 306.6L538.5 321L537.5 328.4L536.5 329.7L535.5 329.6L534.5 320.8L533.5 312.6L532.5 304.8L531.5 294.5L530.5 279.6L529.5 265.4L528.5 251L527.5 243.4L526.5 239.4L525.5 235.5L524.5 231.7L523.5 231.5L522.5 230.8L521.5 231.1L520.5 233.8L519.5 237.1L518.5 240.5L517.5 242.9L516.5 245.5L515.5 248.9L514.5 252.6L513.5 259.8L512.5 266.5L511.5 273.4L510.5 280.6L509.5 287L508.5 292.7L507.5 299L506.5 298.7L505.5 293.4L504.5 287.5L503.5 282.5L502.5 281.5L501.5 281L500.5 279.8L499.5 278.8L498.5 279.2L497.5 278.9L496.5 277.3L495.5 274.1L494.5 270.1L493.5 266.5L492.5 263.8L491.5 259.9L490.5 255.6L489.5 250.5L488.5 244.9L487.5 240.2L486.5 235.6L485.5 230.9L484.5 228L483.5 228.7L482.5 229.8L481.5 231.1L480.5 234.9L479.5 240.5L478.5 246.4L477.5 251.6L476.5 252.4L475.5 253.2L474.5 254.5L473.5 254.5L472.5 251L471.5 247.6L470.5 244.7L469.5 242.5L468.5 240.9L467.5 239.8L466.5 238.6L465.5 240L464.5 242.1L463.5 243.9L462.5 245.4L461.5 250.5L460.5 256.4L459.5 263L458.5 268.7L457.5 272.5L456.5 275.9L455.5 279.8L454.5 284.7L453.5 289.2L452.5 291.8L451.5 292.9L450.5 288.2L449.5 284.4L448.5 281.9L447.5 279.8L446.5 276.7L445.5 271.9L444.5 266.9L443.5 264.7L442.5 265.6L441.5 266.7L440.5 266.8L439.5 266.4L438.5 266.1L437.5 266.2L436.5 265.2L435.5 257.9L434.5 249.3L433.5 242.3L432.5 238.6L431.5 237.2L430.5 235.9L429.5 233.9L428.5 233.7L427.5 233.7L426.5 233.5L425.5 233.5L424.5 235.8L423.5 237.7L422.5 238.4L421.5 237.2L420.5 233.3L419.5 230.7L418.5 228.6L417.5 225.7L416.5 221.6L415.5 217.8L414.5 215.4L413.5 214.2L412.5 212.6L411.5 209.4L410.5 205.2L409.5 203.4L408.5 202.3L407.5 202.9L406.5 203.7L405.5 202.6L404.5 200L403.5 195.8L402.5 191.2L401.5 187.5L400.5 185.4L399.5 184.1L398.5 189.5L397.5 194.9L396.5 200L395.5 205L394.5 210.1L393.5 214.5L392.5 218.2L391.5 220.7L390.5 222.8L389.5 224.5L388.5 222.3L387.5 220.2L386.5 218.9L385.5 219.4L384.5 221.2L383.5 222.1L382.5 221.4L381.5 221.5L380.5 222.8L379.5 225.1L378.5 227.6L377.5 228.9L376.5 229.6L375.5 230.6L374.5 232.5L373.5 235.6L372.5 238.7L371.5 245.8L370.5 254.8L369.5 264L368.5 272.6L367.5 280.3L366.5 287.9L365.5 295.6L364.5 304.1L363.5 313.5L362.5 316.6L361.5 318.2L360.5 317.4L359.5 315.7L358.5 315.1L357.5 316.3L356.5 317.5L355.5 317.3L354.5 314.8L353.5 310.8L352.5 307.3L351.5 304.6L350.5 302.2L349.5 302.3L348.5 305.1L347.5 308.3L346.5 311.8L345.5 314.9L344.5 311L343.5 301.9L342.5 293.5L341.5 286.1L340.5 279.6L339.5 276.1L338.5 274.3L337.5 271.6L336.5 267.3L335.5 261.7L334.5 257.7L333.5 255.8L332.5 255.6L331.5 256.7L330.5 258.2L329.5 261.6L328.5 264.1L327.5 265.2L326.5 266.2L325.5 268L324.5 275L323.5 283.5L322.5 291.4L321.5 298.6L320.5 306L319.5 308.2L318.5 309.7L317.5 311.1L316.5 311.9L315.5 311.6L314.5 307.6L313.5 304.2L312.5 302.2L311.5 300.9L310.5 299.1L309.5 294.1L308.5 287.3L307.5 280L306.5 273.3L305.5 267L304.5 262.5L303.5 258.7L302.5 256.2L301.5 254.6L300.5 253.3L299.5 252.7L298.5 250.2L297.5 246.8L296.5 244.8L295.5 244.8L294.5 247.8L293.5 250.2L292.5 251.8L291.5 252.6L290.5 252.7L289.5 251.7L288.5 251.2L287.5 251L286.5 251.2L285.5 251.5L284.5 249.3L283.5 246.7L282.5 243.1L281.5 238.9L280.5 234.5L279.5 229L278.5 223.7L277.5 217.9L276.5 211.4L275.5 205.2L274.5 201.3L273.5 198.1L272.5 195.8L271.5 193.9L270.5 192.9L269.5 193.4L268.5 192.8L267.5 191.7L266.5 191.8L265.5 194.9L264.5 200.2L263.5 204.4L262.5 208.2L261.5 212L260.5 217L259.5 224.2L258.5 231.9L257.5 239.1L256.5 245.7L255.5 251.8L254.5 257.9L253.5 264.8L252.5 272.2L251.5 279.2L250.5 284.2L249.5 287.6L248.5 290.8L247.5 294.3L246.5 298.6L245.5 298.8L244.5 295.5L243.5 291.3L242.5 286.3L241.5 281.5L240.5 277.7L239.5 274.3L238.5 271.5L237.5 269.5L236.5 267.1L235.5 265.8L234.5 264.9L233.5 264.7L232.5 266.3L231.5 269.3L230.5 273.5L229.5 277.6L228.5 281.8L227.5 286L226.5 289.1L225.5 290.3L224.5 291L223.5 292.9L222.5 296.4L221.5 300.9L220.5 300.6L219.5 298.2L218.5 294.5L217.5 290.8L216.5 287.7L215.5 286.2L214.5 284.8L213.5 283.8L212.5 283.8L211.5 284.6L210.5 286.6L209.5 287.4L208.5 287.5L207.5 287.6L206.5 287.7L205.5 287.9L204.5 286.9L203.5 285.9L202.5 286.1L201.5 287.4L200.5 284.8L199.5 282.7L198.5 280.7L197.5 278.7L196.5 277.7L195.5 278.7L194.5 278.4L193.5 276.6L192.5 274.6L191.5 274L190.5 276.6L189.5 279.3L188.5 282.5L187.5 285.9L186.5 287.2L185.5 283.4L184.5 279.2L183.5 276L182.5 274.1L181.5 273.4L180.5 274.7L179.5 275.6L178.5 276.2L177.5 277.2L176.5 278.2L175.5 278.6L174.5 278.1L173.5 277.9L172.5 278.7L171.5 280.5L170.5 282.7L169.5 283.8L168.5 284.2L167.5 284.2L166.5 283.3L165.5 281.5L164.5 280.7L163.5 280L162.5 279.3L161.5 279.4L160.5 280L159.5 280.1L158.5 280.4L157.5 280.8L156.5 281.4L155.5 282.5L154.5 284.2L153.5 285.9L152.5 287.5L151.5 291.4L150.5 296.8L149.5 301.5L148.5 305.2L147.5 308.7L146.5 310L145.5 309.7L144.5 309.2L143.5 309.1L142.5 310L141.5 309.1L140.5 307.1L139.5 304.3L138.5 300.4L137.5 295.4L136.5 290.1L135.5 285.6L134.5 282.2L133.5 279.2L132.5 275.8L131.5 274.3L130.5 273.7L129.5 273.5L128.5 273.2L127.5 272.8L126.5 272.6L125.5 272.4L124.5 272.2L123.5 272.2L122.5 271.5L121.5 270L120.5 268.4L119.5 267.5L118.5 266.7L117.5 265.4L116.5 264.9Z" fill="#1f77b4"/>
<path d="M116.1 200.7h0M116.7 264.3h0M117.6 199.4h0M118 265.7h0M117 187.6h0M119 201h0M118.8 266.7h0M118.4 190.6h0M119.4 200.4h0M119.4 267.9h0M120.6 202.9h0M120.4 268.1h0M121.3 203.8h0M121.6 268.8h0M121.1 200.5h0M121.1 197.7h0M120.9 195.5h0M121.1 192.7h0M121.3 190.4h0M121 188.4h0M122.6 203.5h0M122.5 272.2h0M123.5 205.8h0M123.3 271.5h0M123.1 281.2h0M124.9 209.2h0M124.6 273.1h0M125.5 212.7h0M125.9 273.3h0M126.8 212.6h0M126.3 271.5h0M126.2 196.2h0M127.5 209.9h0M128 271.7h0M127.9 208.6h0M128.1 208.8h0M128.9 271.9h0M128.4 283.5h0M129.2 209.2h0M129.4 272.8h0M129.1 279.4h0M130.4 209.6h0M130.5 274.7h0M130.7 277.8h0M131.2 210.3h0M131.8 274.4h0M132.1 207.4h0M132 204.8h0M131.6 202.4h0M131.9 199.4h0M131.4 196.8h0M131.8 194.8h0M133 210.3h0M132.3 276.3h0M132 207.7h0M133.6 213.6h0M133.8 278.1h0M134 286.1h0M134.8 214.4h0M134.6 281.3h0M135.8 214.8h0M135.2 285.9h0M135.7 289.5h0M136.6 215h0M136.8 290.4h0M136.9 211.1h0M137.1 215h0M137.8 294.1h0M138.7 214.6h0M139 301.2h0M138.5 302.5h0M139 212.6h0M139.2 305h0M140.5 209.9h0M140.4 306.4h0M141 208.5h0M141.1 212.2h0M141.2 308.7h0M142.6 211.4h0M142.3 309.4h0M142.2 317h0M143.4 211.6h0M143.5 309.2h0M143.9 316.4h0M144 210.3h0M144.8 309.5h0M144.6 205.4h0M145.9 209.7h0M145.4 308.2h0M146.3 209h0M146.2 310.7h0M147.6 210.3h0M147.7 308.7h0M148.1 210.6h0M148.3 303.8h0M148 208.5h0M147.8 206.1h0M148.3 203h0M148.1 200.6h0M148.2 198.4h0M148.5 308.6h0M149.2 307.3h0M149.1 309.8h0M148.6 312.2h0M149.1 315h0M149.1 318h0M148.8 320.2h0M148.7 323.1h0M149.2 211.4h0M149.7 300.4h0M149.3 208.9h0M150.4 209.6h0M150.6 297.6h0M150.6 208.1h0M151.3 205.2h0M150.5 301.2h0M151.5 209h0M151.4 290.9h0M151.2 296.7h0M152.2 207.8h0M152.3 287.9h0M152.5 199.7h0M153.3 205.9h0M153.6 285.7h0M153.6 203.5h0M153.7 201.2h0M154.5 205.6h0M154.6 284.7h0M155.9 204.2h0M155.7 281h0M155.6 288.3h0M155 305.7h0M156.4 205.7h0M156.5 281.6h0M156.3 291h0M156.2 288.5h0M158 205.2h0M157.5 279.7h0M158.1 203.8h0M158.7 279.6h0M159.8 202.3h0M159.5 279.1h0M160.2 203.5h0M160.4 280.4h0M160.5 287.4h0M161.7 203.2h0M161.4 279.5h0M161.9 190.1h0M161.2 281.5h0M162.7 204.1h0M163 279.2h0M162.2 192.8h0M163.1 207.9h0M163.3 278.8h0M164.3 206.6h0M164.6 280h0M165.2 206.1h0M165.3 280.4h0M166.9 206.8h0M166.5 284.2h0M167.9 205.9h0M167.9 283.4h0M167.2 286.3h0M168.2 208.3h0M168 283.1h0M169.2 206.6h0M169.6 283.5h0M170.2 207h0M170.4 283.4h0M171.9 205h0M171.1 279.4h0M172.9 204.5h0M172.1 278.1h0M173.4 203.8h0M173.2 277.7h0M174.2 206.3h0M174.6 278.1h0M174.3 280.2h0M173.6 282.5h0M175.8 205.9h0M175.7 277.7h0M176.4 206.7h0M176.1 278.2h0M176.5 280.3h0M177.4 204.1h0M177.1 277h0M177 202.6h0M178.3 204.2h0M178.4 276.4h0M178.6 278.7h0M179.7 202.5h0M179.7 275.7h0M180.6 201.6h0M180.7 273.3h0M180.4 196.4h0M181.3 203.4h0M181.5 273.7h0M180.9 275.6h0M180.8 278.6h0M181.3 281h0M182.4 205.2h0M183 272.7h0M182.3 200.4h0M183 203.3h0M183.7 276.3h0M184.3 203.2h0M184.3 278.1h0M185.4 201.5h0M185.9 282.7h0M186.5 203.9h0M186.1 286.5h0M188 203.4h0M187.5 285.6h0M188.4 203.3h0M188.5 282h0M188.3 201.1h0M189.2 203.8h0M189.9 279.7h0M190.6 201.5h0M190.4 277.1h0M192 202.9h0M191.4 273h0M192.4 201.4h0M192.1 273.9h0M192.9 287.9h0M193.1 200.1h0M193.1 275.2h0M194.4 200.6h0M194.9 278.5h0M195.8 200.5h0M195 278.1h0M196.6 201.1h0M196.5 278.1h0M197.3 201.6h0M197.1 278.7h0M197.4 282h0M198 202.4h0M198.4 280.9h0M198.3 282.8h0M199.1 202.3h0M199.2 282.6h0M200.5 200.5h0M201 284.6h0M202 196.1h0M201.2 287.9h0M202.8 196.3h0M202.8 285.9h0M203.7 196.1h0M203.3 284.8h0M204.3 197.4h0M204.3 285.7h0M205.4 197.5h0M205.4 287.3h0M206.1 197.9h0M206.9 287.4h0M206.9 297.8h0M207.7 196h0M207.3 287.8h0M208.3 195.1h0M208.1 286.3h0M208.7 294.2h0M209.8 191.9h0M209.8 287.2h0M210.4 189.3h0M210.3 286.2h0M211.1 188.2h0M211.5 284.2h0M212.3 190.9h0M212 284.6h0M212.6 188h0M212.2 185.9h0M212.2 182.9h0M212.7 180.6h0M212.1 178h0M212.3 175.5h0M213 285.9h0M212.7 288.9h0M213.7 193.3h0M213.4 283.4h0M214.4 193.5h0M214.5 284.2h0M214.3 190.4h0M216 194.7h0M215.6 287h0M215.8 288.4h0M216.7 194.7h0M216.8 288.5h0M217.9 191.2h0M218 289.7h0M218.7 187.3h0M218.5 294h0M219.7 184.7h0M219.5 296.8h0M220.4 183.8h0M220.5 299.3h0M222 181.3h0M221.6 301.3h0M221.8 178.6h0M221.3 175.5h0M221.7 172.9h0M221.8 170.7h0M221.9 168.5h0M221.5 166.1h0M221.9 164h0M221.3 160.9h0M222.4 183.6h0M222.7 297.1h0M222.3 179.4h0M222.5 181.1h0M222.5 178.5h0M222.6 176.1h0M222.8 173.1h0M222.4 170.3h0M223.1 186.7h0M224 293.6h0M223.6 182h0M224.8 191.5h0M224.7 291h0M225.2 193.9h0M225 291.3h0M225.5 294.9h0M226.2 194h0M226.1 288.1h0M227.2 190.6h0M227.6 185h0M227.8 285.2h0M228.2 177h0M228.1 280.3h0M229.3 169.5h0M229.3 277.6h0M230.8 163.3h0M230.4 273.5h0M230.1 131.5h0M231.1 161h0M231.2 270.1h0M232.4 164.1h0M232.8 266.1h0M233.4 167h0M233.4 263.6h0M235 168.3h0M234 265.8h0M234.6 267h0M235.2 270.1h0M234.5 272.6h0M235.5 170.5h0M235.1 264.3h0M235.9 167.5h0M235.9 165.2h0M235.5 267.9h0M235.7 270.5h0M235.2 272.6h0M234.9 275h0M235.7 278.1h0M235.6 280.2h0M235.2 282.7h0M236 170.2h0M236.5 267.9h0M236.4 272h0M237.7 172.3h0M237.4 269h0M238.3 174.9h0M238.1 271.4h0M239 172.4h0M238.4 276.1h0M238.6 280h0M239.7 177.7h0M239.4 274.4h0M240.2 276.4h0M239.8 278.8h0M239.5 281.4h0M240 179.9h0M240.1 277.9h0M241.5 178.8h0M241.4 280.8h0M242.3 178.5h0M242.2 285.2h0M242.2 172.5h0M243.7 179.1h0M243.8 290.2h0M243.7 172.8h0M244.6 178.4h0M244.3 294.4h0M244.1 297.6h0M244.6 299.9h0M244.5 302.8h0M245.4 178.3h0M245.8 298.6h0M246.6 174.8h0M246.5 299.3h0M245.9 172.2h0M247.9 170.6h0M247.5 294.5h0M248.3 165.2h0M248.8 291.6h0M248.1 292.9h0M248.3 296h0M249.1 162.9h0M249.9 287.1h0M249.3 290.1h0M250.8 161.9h0M250.9 283.8h0M250 157.9h0M251 159.4h0M251.7 278.6h0M252.6 154.3h0M252.8 272.1h0M253.1 150.6h0M253.5 265.3h0M254.6 147.7h0M254.7 257.2h0M254.1 260h0M255.7 146.2h0M255.2 251.2h0M256.1 144.6h0M256.8 245.8h0M257.5 140.2h0M257.3 238.7h0M257.7 248.1h0M258.2 137.6h0M258.7 230.7h0M258.2 121.2h0M259.7 131.9h0M260 223.6h0M259.3 226.6h0M260.2 123.3h0M260.6 215.9h0M260.1 121.7h0M260 119.6h0M259.9 116.6h0M261.4 120h0M262 211.5h0M262.9 116.5h0M262.6 208.8h0M262.7 94.3h0M263 210.4h0M263 212.9h0M263 215.2h0M262.7 218.1h0M263.1 220.7h0M263.2 115.3h0M263.5 203.8h0M262.8 206.5h0M263.5 208.6h0M263.2 211.7h0M264.7 112.9h0M264.4 198.8h0M265.5 112.3h0M265.5 195.6h0M266.1 112h0M266.8 191h0M267.3 113.1h0M267.4 190.6h0M268.2 114.9h0M268.7 192.7h0M268.5 196.5h0M269.9 114.2h0M269.6 192.1h0M270.6 117.6h0M270.4 192.6h0M271.6 118.6h0M271.3 194.9h0M271.5 196.8h0M272.7 119.6h0M272.8 195.6h0M272.8 107.8h0M272.9 207.2h0M273.3 120.8h0M273.6 197.9h0M273.7 118.8h0M274.8 123.1h0M274.2 200.9h0M275.8 125h0M275 204h0M276.8 127h0M277 211.2h0M276.4 125.6h0M277.8 131.1h0M277.1 218.5h0M278.4 134.8h0M278.8 222.7h0M279.6 138.8h0M279.1 229.5h0M280.9 140.6h0M280.5 235.3h0M281.1 142.2h0M281.8 239.1h0M282.9 142.7h0M282 242.7h0M282.7 129.8h0M283.4 144.6h0M283.8 247h0M283 250.5h0M284.5 145.9h0M284.4 249.6h0M285.2 150.3h0M285.1 251.3h0M285.6 145h0M285.3 254.7h0M286.1 152.4h0M286.6 250.4h0M287.4 155h0M287.6 250.5h0M288.7 156.1h0M288.9 250.1h0M290 158.2h0M289.5 251.2h0M290.8 159.8h0M290.4 253.7h0M290.1 156.5h0M290.2 154.1h0M290.2 257.6h0M290.2 256.8h0M291.7 158.4h0M291 252.5h0M292.8 159.2h0M292.2 252.4h0M292.3 156.1h0M292.7 153.8h0M292.8 151.5h0M292.4 149.1h0M292.8 145.9h0M292.8 142.8h0M292.6 140.2h0M292.2 137.8h0M293.2 160.2h0M293.7 248.9h0M293.8 253.8h0M293.4 252.3h0M293.7 254.3h0M294.4 161.5h0M294.3 246.6h0M295.3 163.1h0M295.3 245.5h0M296.7 165.9h0M296.7 245.4h0M296.2 161h0M297.7 166.4h0M297.6 247.3h0M298.8 164.9h0M298.2 249h0M298.7 162.3h0M298.9 159.9h0M298.4 156.9h0M298.7 154.9h0M299.1 164.5h0M299 253.5h0M300.6 163.8h0M300.9 254.2h0M301.5 166.7h0M301.7 255.6h0M301.2 163.3h0M302.3 168.3h0M302.7 256.9h0M302.5 281.2h0M303.5 171.7h0M303.5 258.2h0M303.5 168.2h0M303.4 165.9h0M304.9 173h0M304.1 261.8h0M305.7 176.5h0M305.4 265.7h0M306.8 180.3h0M306.6 271.9h0M307.2 181.9h0M307.3 280.4h0M307.2 290.4h0M308.1 186.6h0M308.4 287.2h0M309.4 188.4h0M309.6 293.6h0M310.5 191.4h0M310.6 298.8h0M309.7 189.9h0M310.1 187.6h0M309.8 185.5h0M309.8 183.2h0M309.7 180.5h0M310 177.6h0M309.9 174.9h0M310.4 171.9h0M311.6 195.5h0M311.8 300.5h0M312.5 198.3h0M312.7 301.9h0M312.5 197h0M312.9 313.5h0M313.7 204.4h0M313 303.9h0M313.2 200.1h0M314.5 205.6h0M314.5 306.1h0M314.3 204.1h0M315.1 208.5h0M315 311.9h0M315.2 319.4h0M315.7 315.5h0M314.9 313.7h0M314.9 316.4h0M314.8 319.6h0M316.1 208h0M316.2 312.6h0M317.1 205.7h0M317.5 311h0M317 198.1h0M318.3 200.3h0M318.5 308.4h0M318.1 314h0M319.3 196.9h0M319.8 309.1h0M319.2 310.4h0M320.3 193h0M320.3 305.4h0M321.9 187.5h0M321.3 297.4h0M322.7 181h0M322.8 291.4h0M323.9 176.3h0M323.2 284.3h0M325 169.1h0M324.2 274.5h0M324.2 167.2h0M324.2 164.2h0M324.4 161.5h0M324.4 159.1h0M324.2 156.7h0M324.5 279.8h0M325.8 162.2h0M325.2 268.8h0M326.3 155.9h0M326.3 265.1h0M327.4 149.9h0M327 265.1h0M329 144.8h0M328.6 264.5h0M329.7 138.7h0M329.1 260.6h0M330.9 136.3h0M330.5 256.8h0M331.6 138.5h0M331.1 256.5h0M331.2 263.6h0M333 142.2h0M332.8 254.2h0M333.6 143.9h0M333.7 256.3h0M334.4 147h0M334.8 257.3h0M334.3 259.8h0M334.4 262.4h0M334.6 265.3h0M334.5 267.5h0M334.6 270.6h0M334 273h0M335.8 150.3h0M335.4 261.8h0M335.5 146.7h0M335.3 144.6h0M335 141.6h0M336.2 154.3h0M336.1 267.3h0M337.7 161.9h0M337.1 271.5h0M339 172.3h0M338.9 274.4h0M339.7 180.3h0M339.9 276.9h0M340.9 185.9h0M340.4 278.6h0M341.4 187.3h0M341.3 286.8h0M342 189.9h0M342.9 294.4h0M343.7 194.8h0M343.7 300.9h0M344 198.7h0M344.7 310.3h0M344 196.4h0M345.7 199.7h0M345.4 314.4h0M346.6 199.6h0M346.1 311.1h0M347.2 198.8h0M347.1 307.7h0M348.3 198.6h0M348.6 304h0M349.4 197.6h0M349.4 302.4h0M350.1 199h0M350.2 302.5h0M351.7 198h0M351.8 303.6h0M352.4 199.9h0M352.6 306h0M353.7 199.4h0M353.1 310.5h0M353.6 313h0M354.2 197.3h0M354.9 315.7h0M354.5 195.4h0M354.5 327.8h0M354.4 316.9h0M354.7 319.4h0M354.5 321.5h0M354.6 323.5h0M355.4 197h0M355 316.1h0M355.6 319.4h0M356.9 198.7h0M356.2 316.7h0M357.9 201.3h0M357.9 317.2h0M358.2 197.9h0M358.3 201.1h0M358.7 315.6h0M358.3 317.2h0M358.7 320.3h0M359.1 200.6h0M359.9 315.7h0M361 198.1h0M360.5 316.5h0M361.1 198.1h0M361.6 317.8h0M361.2 320.3h0M361 323.4h0M362.9 199.9h0M363 315.3h0M363.1 199.8h0M363.9 313.3h0M364.2 199.9h0M364.5 303.5h0M365.8 198h0M366 295.9h0M365.2 307.1h0M365.5 297.7h0M366.7 197.6h0M366.4 288.9h0M366.7 290.1h0M367.5 196.1h0M367.3 279.3h0M368.3 189.6h0M368 273.5h0M368.8 187.1h0M368.7 184.6h0M368.2 181.6h0M368.6 179.1h0M368.2 176.5h0M368.5 279.4h0M369.1 181.9h0M369.3 264h0M369.5 178.7h0M370.9 176.2h0M370.5 254.5h0M371.4 170.1h0M371.7 245.1h0M371.9 167.2h0M371.5 164.7h0M371.6 162.3h0M371.9 160.1h0M371.9 157.7h0M371.6 155.6h0M371.6 248.6h0M372.2 163.3h0M373 237.4h0M372.2 245.3h0M373.1 158.9h0M373.3 235.8h0M373.5 147h0M373.1 237.7h0M373 240.8h0M374.1 152.4h0M374.6 233h0M374 151.2h0M373.9 148.1h0M373.8 145.2h0M374.1 143h0M373.7 140.2h0M373.9 137.3h0M373.7 134.2h0M374.1 234.6h0M374.3 237.5h0M375.9 148.4h0M375 230h0M377 142.5h0M376.2 229.6h0M376.4 138.2h0M377.1 138h0M377.9 227.6h0M377.6 234.7h0M377.2 231h0M377.7 233.9h0M377.4 236h0M377.7 238.5h0M377.5 241h0M378.4 135.6h0M378.9 227.3h0M379.2 134.9h0M380 225.2h0M379.6 111.4h0M380 227.2h0M379.5 230.3h0M379.4 233.4h0M380.5 134.2h0M380.4 222.9h0M381.6 131.7h0M381.4 221.9h0M381.4 129.5h0M382.6 129.9h0M382.9 220.7h0M382.2 224.8h0M383.8 127.5h0M383.1 220.9h0M384.3 126.1h0M384.3 221.1h0M385.3 124.4h0M385.9 218.4h0M386.6 123.4h0M386.2 219.7h0M386.4 120.3h0M386.3 118.1h0M386.7 227.8h0M388 120.2h0M387.5 220.9h0M387.8 222.3h0M387.6 225.3h0M387.9 228.2h0M387.6 230.2h0M388.2 233.3h0M388.5 118.2h0M388.4 221.5h0M388.9 116.2h0M389.6 117.7h0M389.1 225.2h0M390.7 114.6h0M390.2 221.3h0M390.5 224.9h0M390.6 227.3h0M391.1 230h0M391.4 112.6h0M391 220.6h0M391.7 110h0M391.8 224.4h0M392.3 112.4h0M392.5 217.7h0M392.3 220.3h0M391.6 222.8h0M393.8 110.5h0M393.9 214.9h0M394.2 109h0M394.7 210.2h0M394.2 214.6h0M395 105.6h0M395.6 204h0M396.6 104.4h0M396.4 200.6h0M396 102.6h0M396.6 99.5h0M396.6 97.1h0M396.6 94.1h0M396.4 92h0M397.3 103.5h0M397.8 194.3h0M399 101.3h0M398.6 188.3h0M399.2 101.6h0M399.1 183.6h0M400.3 105.5h0M400.7 184.8h0M401.6 107.9h0M401.3 187.4h0M402 111.7h0M402.1 189.8h0M402.5 193.3h0M402.3 195.4h0M402.3 198.4h0M403.3 112.9h0M403.8 196h0M403.9 199.7h0M403.6 197.9h0M403.2 201h0M404.3 112.3h0M404.9 200.1h0M405.8 113.2h0M406 203.5h0M406.2 112.9h0M406.1 204.4h0M407.2 115h0M407.7 201.4h0M407.3 207h0M407.4 205h0M407.6 207.8h0M407.6 210.1h0M408 212.8h0M408 214.8h0M407.6 217.8h0M407.7 219.9h0M408.6 115.3h0M409 202.2h0M408.7 212.1h0M409.6 116.6h0M409.5 203.1h0M410.3 115.9h0M410.9 204.1h0M410.3 113.9h0M410.8 207.3h0M412 120.6h0M411.3 209.6h0M412.9 121.3h0M412.3 213h0M413.4 123.8h0M413.8 212.8h0M413.2 119.1h0M414.2 125.7h0M415 215.4h0M414.9 123.2h0M416 131.5h0M416 217.8h0M415.9 229.2h0M417 135.7h0M416.2 221.5h0M417.5 142.7h0M417.1 224.7h0M418.2 145.3h0M418.7 229h0M418.5 234.1h0M418.8 230.8h0M418.6 233.7h0M418.6 236.3h0M419.7 145h0M419.3 230.8h0M419.7 141.6h0M419.9 139h0M419.9 136.9h0M418.8 232.8h0M419 235.2h0M419.2 238.1h0M419.2 241h0M418.6 243.9h0M420.9 142.8h0M420 234.3h0M421.8 142.3h0M421.7 237.9h0M421.9 132.2h0M421.3 241.8h0M421.1 239.3h0M423 142.4h0M422.6 239.4h0M422.6 240.9h0M423.8 139.9h0M423.3 236.7h0M424.4 138.3h0M424.9 236.4h0M424.1 237.9h0M424.6 240.4h0M425.3 135.4h0M425.6 234.1h0M426.1 140.3h0M426.8 232.3h0M426.7 137.3h0M426.8 235.6h0M426.3 238.7h0M427.2 141.5h0M427.4 233h0M428.3 145h0M428.4 232.9h0M429.5 147.9h0M429.5 232.7h0M429.4 144.9h0M429.5 142.8h0M430.1 139.7h0M430 137.6h0M429.5 135.3h0M429.9 133.2h0M429.1 240h0M430.2 150.8h0M430.4 235.4h0M431.9 157.1h0M431.6 236.3h0M431 241.8h0M431.2 241.5h0M432.8 161.3h0M432.2 237.4h0M433.7 164.6h0M433.4 242.3h0M434 166.8h0M434 247.9h0M435 170.6h0M435.2 258.6h0M435.2 263.8h0M436.8 173.1h0M436.7 263.9h0M436.8 159.6h0M437.5 173.6h0M437.3 266.3h0M437.9 171.6h0M438.1 169.6h0M437.3 166.5h0M437.4 163.6h0M437.9 268.3h0M437.8 270.5h0M438.3 173.9h0M438.1 265.7h0M438.3 171.2h0M438.1 268.2h0M438.5 270.7h0M438.4 273.2h0M439.4 175.2h0M439.7 265.3h0M440.5 178.9h0M440.1 266.6h0M440.4 175.5h0M440.9 172.8h0M441.8 178.6h0M441.7 265.5h0M442.1 179.9h0M442.3 264.8h0M444 180.9h0M443.7 264.8h0M444.7 187h0M444.1 266.9h0M445.3 189.6h0M445.3 271h0M445.2 187.3h0M446.8 192.6h0M446.2 276.7h0M447.6 195.6h0M447 280.7h0M447.4 282h0M447.8 285.1h0M448 288.1h0M447.9 291.2h0M447.9 294h0M448.1 296.1h0M448.8 196.8h0M448.7 281.4h0M449.9 198h0M449.9 284.8h0M449.9 290.3h0M450.3 200.7h0M450.3 287.5h0M449.9 290.3h0M450.5 292.8h0M450.4 295.6h0M451.8 201.5h0M451.6 293.5h0M452 192.4h0M452.1 199.6h0M452.5 290.5h0M452.1 302.3h0M453.8 196.6h0M453.7 289.7h0M454.5 197.1h0M454.8 283.6h0M454.4 185.9h0M456 198.7h0M455 280.7h0M456.2 195.1h0M456.3 275h0M456.6 187.8h0M457.7 191.8h0M457.5 271.8h0M458.8 189.5h0M458.2 267.4h0M459.2 185.1h0M459.2 263.6h0M460.1 181.8h0M460.2 256.2h0M462 179.4h0M461.5 249.5h0M462.5 176.4h0M462.7 244.7h0M462.8 173h0M463 178.8h0M463.1 244.8h0M463.4 251.5h0M464.7 178.7h0M464.8 240.8h0M465 177.4h0M464.4 174.6h0M464.5 171.7h0M464.6 168.8h0M464.6 166.7h0M464.5 164.7h0M465.1 182.2h0M465.3 238.7h0M466.2 185.2h0M466.7 237.6h0M467.5 186.2h0M467.2 238.6h0M468.2 190.8h0M469 241h0M467.9 187.7h0M468.3 185.1h0M468 183.1h0M469.6 194.2h0M469 241.8h0M470.5 194.4h0M470.5 243.8h0M470.2 191.4h0M471.4 195.1h0M471.4 247.9h0M472.7 195.4h0M472.3 251.5h0M472.7 180.8h0M473.6 194.6h0M473.4 253.3h0M474.8 193.9h0M474.8 255.1h0M474.2 191.7h0M474.4 191.9h0M475.6 193.3h0M475.2 252.2h0M475.2 257.4h0M476.5 191h0M477 252.8h0M476.1 254.5h0M477.6 187.7h0M477.5 250.6h0M478.5 185.1h0M478.6 245.2h0M478.4 248.5h0M479.5 179.4h0M479.6 240h0M480 249.5h0M480.6 177.1h0M480.6 233.4h0M481.4 176h0M481.8 230.9h0M481.3 239.3h0M481.7 233.2h0M481.1 235.6h0M481.7 238.2h0M481.6 241.4h0M482.6 176.7h0M482.3 228.3h0M483 178.6h0M483.1 229.4h0M484.4 177.2h0M484.7 227.4h0M485.5 178.1h0M485.1 230.9h0M486.8 179.3h0M486.5 234.9h0M486.2 238.3h0M486.4 237.7h0M486.4 240.3h0M487.1 180.3h0M487.7 239.1h0M487.2 242.5h0M488.3 183.6h0M488.8 243.5h0M488.2 177.8h0M489.1 185.3h0M489.7 250h0M490.7 189.3h0M490.7 256.1h0M490.3 187.4h0M490.6 185.1h0M491.5 192.5h0M491.6 259.5h0M491.5 190.6h0M491.2 187.6h0M491.2 184.6h0M491.5 181.8h0M490.9 179.4h0M490.9 176.3h0M492.4 195.5h0M492.6 264.4h0M493.4 198.5h0M493.1 267.3h0M493.8 179.2h0M493.9 269.3h0M494.3 198.1h0M494 270.1h0M495.2 197h0M495.5 273.3h0M495.4 192.1h0M496.3 196.8h0M496.1 275.9h0M498 197.9h0M497.2 279.3h0M497.5 287.3h0M498.5 198.1h0M498.9 278.4h0M499.2 197.8h0M499.7 278.6h0M500 191.7h0M499.2 190.8h0M499.4 193.8h0M500.6 199.9h0M500.1 280.2h0M501.3 203h0M501.1 280.8h0M502.1 205.4h0M502.8 282.3h0M503 205h0M503.8 282.7h0M504.2 204.4h0M505 288.4h0M505.2 204.6h0M505.7 292.9h0M505.2 298.5h0M506.2 205.8h0M506.6 297.2h0M507.8 208.8h0M507.6 297.6h0M508.4 205.6h0M508.7 291.2h0M508.4 295.7h0M509.1 201.9h0M509.6 287.8h0M510.2 198.2h0M510.4 279.1h0M511.3 194.4h0M511.6 272.5h0M511 187.8h0M512.4 192.7h0M512.5 266.8h0M513.3 190.7h0M514 259.2h0M514 188.6h0M514.2 252.9h0M515.4 184.2h0M515.5 248h0M516.1 182.1h0M516.1 245.6h0M516.3 179.7h0M517.6 181.6h0M517.8 243.6h0M519 180.6h0M518.1 239.1h0M519.1 171h0M519.7 236.7h0M519.2 163.9h0M519.7 240h0M520 161.9h0M520.9 233.3h0M521.9 153.1h0M521.6 231.1h0M522.2 147h0M522.9 231h0M523.2 141.9h0M523.1 232.1h0M523.1 129.9h0M523.1 238.2h0M524.4 135.8h0M524.4 230.4h0M524.2 132.6h0M525.3 136.3h0M525.6 235.8h0M525.4 133.5h0M526.3 139.4h0M526.1 239.1h0M527.4 140.4h0M527.6 243.4h0M528.4 143h0M528.3 251h0M528.7 140.8h0M529.8 153.6h0M529.7 264.7h0M529.6 148.4h0M530.1 150.1h0M529.7 147.6h0M529.3 144.5h0M529.9 267.5h0M530.8 161.8h0M530.4 278.4h0M531.2 168.6h0M531.8 294.2h0M531.4 296.8h0M532.6 174.4h0M532.6 303.9h0M533.1 307h0M532.6 310h0M532.8 313.1h0M534 184.5h0M533.5 312.4h0M534.4 195.4h0M534.9 319.7h0M535.7 205.3h0M535.1 330.3h0M535 333.7h0M536.6 205.9h0M536.5 329h0M537.4 207.7h0M537 327.3h0M538.8 208.5h0M538.5 320.5h0M539.8 208.5h0M539.7 305.7h0M540.1 207.6h0M541 291.2h0M540.5 204.7h0M540.9 201.9h0M540.4 199.4h0M540.2 196.5h0M540.4 193.6h0M540.3 191.1h0M540.8 188.2h0M541 207.2h0M541.9 288.3h0M542.7 206.2h0M542.8 283h0M542.4 204.9h0M542.5 202h0M542.9 199.5h0M543.2 206.3h0M543.4 282.7h0M543.5 285.4h0M544.4 204.2h0M544.2 280.8h0M544.5 199.4h0M545.2 205.6h0M545.6 281h0M545 282.8h0M545.4 285.3h0M545.1 287.8h0M545 289.8h0M545.6 292.4h0M545.3 295.3h0M545 298.5h0M545.3 300.9h0M546.1 205.7h0M546.6 282h0M546.7 287h0M547.6 206.3h0M547 282.7h0M548.2 203h0M548.9 204.3h0M548.5 281.1h0M549.9 202.6h0M549.1 277.1h0M549.6 196.3h0M550.3 202.7h0M550.4 275h0M551.7 204h0M551.5 274.8h0M552.5 202.8h0M552 271h0M553.2 202.1h0M553.2 270.8h0M554 202.9h0M554.8 267.3h0M555.3 201.8h0M555.4 268.1h0M555.7 199.2h0M556.1 200.7h0M556.7 271h0M555.8 272.1h0M556.2 275.3h0M556.5 278.3h0M557.2 199.5h0M557.7 272h0M557.6 197.2h0M558 194.2h0M558.4 198.9h0M558.2 270.7h0M558.6 274.4h0M559.8 200.2h0M559.9 268h0M559.8 198h0M560.1 201.6h0M560.8 267.6h0M560.9 277.5h0M560.6 269h0M560.6 271.2h0M561 273.2h0M560.9 275.6h0M561.3 278.1h0M561.2 280.4h0M562 201.5h0M561.1 267.8h0M562.5 202.8h0M562.8 266.8h0M562.3 273.8h0M563 204.1h0M563.5 268.4h0M563.2 278.1h0M564.1 204h0M564.6 267.2h0M564.2 196.9h0M564.3 271.2h0M565.2 204.7h0M565.5 266.6h0M565.6 198.9h0M565.4 269.8h0M566.5 207.4h0M567 264.2h0M567.2 206.5h0M567.7 261.2h0M567 263.7h0M567.4 266.8h0M568.2 204h0M568.8 259.8h0M569.7 203.9h0M569.6 259h0M570.2 206h0M570.5 259.6h0M571 200.2h0M570.1 203.1h0M571 206.2h0M571.1 261.4h0M572.3 207.8h0M572.6 261.8h0M572.3 190.8h0M571.9 264.9h0M572.1 267.8h0M572 270.8h0M573.4 207.9h0M573.9 263.2h0M573.1 266.6h0M572.8 265.3h0M573.4 268.3h0M572.9 271h0M574.1 204.7h0M574.3 262.6h0M574.5 266.5h0M575.9 203.5h0M575.3 265.1h0M575.9 198.5h0M576.8 202.5h0M576.7 264.3h0M577.2 201.6h0M577.9 265.7h0M577.6 272.3h0M579 202.1h0M578.1 265h0M578.2 198.3h0M579.8 200.5h0M579.1 264.3h0M579.1 197.5h0M580.2 201.5h0M580.2 264.3h0M581.1 202.5h0M581.7 262.7h0M581.6 196.4h0M582.1 199.9h0M581.8 197.2h0M582.9 204.2h0M582.8 262.6h0M582 264.2h0M582.1 266.7h0M582.5 269.1h0M582.6 271.3h0M582.1 274.3h0M582.2 276.6h0M582 279.4h0M582.2 282.1h0M583.6 205h0M583.2 261.3h0M584.2 206.2h0M584.3 259.6h0M584.5 196.6h0M585.1 203.1h0M584.9 200.3h0M585.1 197.8h0M584.8 195.1h0M584.2 261.5h0M584.1 264.7h0M584.4 266.9h0M584 269.7h0M584.4 272.7h0M585.4 201.3h0M585.2 258.8h0M585.5 261.9h0M584.8 264.1h0M586.3 199h0M586.7 261.9h0M587.3 195h0M588 261.1h0M587.3 190h0M588.4 190.6h0M588.5 258.1h0M589.1 186.2h0M589.6 254.6h0M589.1 256.8h0M590.9 180.8h0M590.1 248.4h0M591.5 176h0M591.2 243.2h0M591.5 173.9h0M592.1 171h0M592.1 171.1h0M592.9 236.3h0M592.6 169h0M591.9 166h0M592.3 163.8h0M592.5 160.8h0M592.4 157.9h0M592.3 155.8h0M592.8 241h0M593.8 166h0M593.2 230.2h0M593.1 164.5h0M593.6 161.9h0M593.3 159.7h0M593.1 157h0M593.2 154.1h0M594.9 169.5h0M594.1 234.6h0M595.3 173.4h0M595.8 243.5h0M596.1 179.4h0M596.8 250.2h0M596.4 253.7h0M596.1 256.2h0M596.4 259.2h0M595.8 262.4h0M596 264.5h0M596.2 267.5h0M595.9 270.5h0M597.4 182.9h0M597.5 258.1h0M598.4 183.8h0M598.5 260.6h0M599.1 186.4h0M599.3 262.8h0M600.3 189.2h0M601 263.4h0M601.2 188.5h0M601 265h0M602.5 184.9h0M602.9 260h0M603.4 179.3h0M603.4 255.1h0M604.7 182.1h0M604.7 251.5h0M605 179.8h0M605.2 177.3h0M605.3 174.6h0M605 171.4h0M605.1 169.3h0M604.9 166.5h0M605.5 186.4h0M605.6 249.6h0M606.2 190.1h0M606.1 248.2h0M607 194.9h0M607.8 249.4h0M607.4 192.4h0M607.1 192.6h0M608.7 196.1h0M608.1 248.3h0M609.4 198.9h0M609.8 248.4h0M609.4 251.3h0M609.1 254.1h0M609.1 257.3h0M609.2 259.5h0M609.4 262.2h0M610.9 199h0M610.4 248h0M611 195.1h0M610.5 250.6h0M610.8 253.6h0M610.6 256.1h0M610.7 258.7h0M610.7 261.7h0M610.5 264.7h0M610.7 267.2h0M611.1 197.5h0M611.7 247.8h0M612.5 196.1h0M612.4 249.1h0M612.3 255.9h0M613.6 197.1h0M613.7 248.4h0M614 193.9h0M614.1 191.2h0M614.3 188.7h0M614.2 185.6h0M614.9 196.8h0M614.3 247h0M614.1 249.5h0M615.4 196.4h0M615.4 243.5h0M615.9 245.8h0M616.3 197.7h0M616.9 242.6h0M617.2 199.1h0M617.1 240.8h0M617.5 252.7h0M618.9 198.9h0M618.7 239.7h0M619.2 198.9h0M619.4 240.3h0M620.4 197.9h0M620.9 241.4h0M621.7 197.9h0M621.5 242.6h0M622.1 196.3h0M622 244.4h0M623.5 194.4h0M623.8 247.1h0M624.1 194.4h0M624.8 251.8h0M625.5 196.7h0M625.9 254.6h0M625.4 257.8h0M625.1 259.8h0M626.9 196.8h0M627 257.5h0M627.1 198.5h0M627.3 255.7h0M627.7 197.3h0M627 194.2h0M627.6 192h0M627.5 189h0M628 202.1h0M628.4 257.6h0M628.9 199.7h0M628.6 197.6h0M628.8 195.1h0M629.7 203.8h0M630 258.7h0M629.6 262.1h0M629 265h0M629.2 267.3h0M629.4 269.4h0M629.6 272.3h0M629.3 274.7h0M630.5 203.9h0M630.5 262.8h0M631.8 203.2h0M631.9 265.9h0M632 204.5h0M632.9 264.1h0M632 266.1h0M632.6 268.1h0M632.3 270.6h0M632.3 273.7h0M632.3 276.8h0M633.8 205.8h0M633.1 259.6h0M633 263.1h0M633.3 265.2h0M633.3 267.4h0M633.1 269.8h0M632.9 272h0M633.6 274.3h0M633 277.3h0M633.2 280.3h0M634.2 206.1h0M634.5 257.8h0M635.6 206.8h0M635.6 253.9h0M635.2 204.8h0M635.5 201.7h0M634.8 198.8h0M635.3 196.4h0M636.1 208.2h0M636.2 253.9h0M637.8 212.3h0M637.1 252.1h0M638.5 211.6h0M638.4 249.1h0M638.1 251.8h0M639.5 209.1h0M639.5 246.7h0M639.1 206h0M640.2 205.4h0M640.4 245.1h0M640.7 250h0M641.9 205h0M641.1 242.2h0M641.3 251.3h0M642.7 204.3h0M642.4 243.5h0M642.5 201.6h0M642.6 198.5h0M642.6 195.5h0M642.7 192.4h0M642.2 190.1h0M642.8 187h0M642.3 184.4h0M642 246.2h0M643.1 201h0M643 242.7h0M643.5 198h0M643.4 198.9h0M643.4 196.7h0M642.9 194.2h0M643.6 191.7h0M643.6 188.6h0M644.4 196.8h0M644.5 245.7h0M645.3 194.3h0M646 242.4h0M645.2 246.6h0M646.1 190.8h0M646.7 239.4h0M647.7 188.1h0M647.7 235h0M647.7 178.3h0M647.6 237.3h0M648.5 187.1h0M648.6 230.5h0M649.8 184.9h0M649.5 227.5h0M650.1 182.4h0M650.5 222.2h0M651.4 177.8h0M651.2 219.6h0M651.6 175.5h0M652.1 221.5h0M652.1 178.4h0M652.8 215.9h0M652.5 174.8h0M652.4 172.6h0M652.4 243.9h0M654 174.9h0M653.6 212.5h0M653.3 170.1h0M653.5 171.6h0M653.4 169.5h0M653.7 166.7h0M654 164.6h0M653.6 162.2h0M653.4 159.6h0M653.6 157.1h0M654.1 154.7h0M654.7 167.5h0M654.7 208.2h0M655.3 162.3h0M655.2 203h0M656.7 155.7h0M656.4 196.6h0M657.8 152.5h0M657.6 196.2h0M658.8 150.2h0M658.7 193.8h0M658.2 198.9h0M659.6 147.3h0M659.1 193.7h0M658.8 145.1h0M659.5 142h0M660.1 145.6h0M660.3 191.7h0M661.4 145.6h0M661.2 189.9h0M662 142.4h0M662.6 188.5h0M663.4 141.9h0M663.9 188.8h0M664.2 141.3h0M664 187.4h0M665.2 142.4h0M665.5 185.6h0M666.1 187.9h0M665.8 190.2h0M665.7 193.1h0M665.9 195.2h0M666.6 143.3h0M666.8 185h0M667.3 143.9h0M667.3 184.2h0M667.1 139.8h0M667.7 140.5h0M667.5 138.1h0M667.5 135.1h0M667.6 132.5h0M667.3 129.9h0M668.5 142.4h0M668.7 182.5h0M668.7 133.2h0M668.1 128.4h0M669.3 144.5h0M669.7 185.3h0M670.6 144.7h0M670.9 185.7h0M671.2 146h0M671.9 184.2h0M673 147h0M672.8 184.2h0M673.7 148.1h0M673.1 184.1h0M673.6 185.7h0M675 149.2h0M674 183.1h0M675.8 153.9h0M675.8 184.3h0M677 155.5h0M676.4 181.6h0M677.9 154.5h0M677.6 183.8h0M676.9 152.6h0M677.1 150.5h0M677.5 191.7h0M677.6 184.9h0M677.6 187.3h0M678.3 154.1h0M678.9 183.7h0M678.1 185.7h0M679.5 150.5h0M679.5 185.2h0M680.9 148.8h0M680.9 186.5h0M681.7 145.9h0M681.3 185.6h0M682.4 143h0M682.8 187.9h0M682.6 189.2h0M682.7 192.2h0M683.1 141.9h0M683.8 185.9h0M684 139.7h0M684.9 184.6h0M685.8 137.4h0M685.2 183.7h0M686.5 134.9h0M686.7 179.5h0M686.6 131.3h0M687.2 135.5h0M687.8 179h0M688.3 138.1h0M688 175.5h0M689.9 136.3h0M689.5 174.9h0M690.3 135.9h0M690.5 177.5h0M690.3 134.5h0M690.3 131.4h0M690.6 178.9h0M691.2 181.8h0M690.6 184.6h0M692 138.4h0M691.6 177.6h0M692 128.7h0M692.8 139.3h0M692.6 179.2h0M692.6 182h0M692.9 180.7h0M692.9 183.6h0M693.5 141h0M693.7 178.3h0M694 139.5h0M694 174.9h0M695.7 130.8h0M695.7 174.3h0M696.5 123.9h0M696.4 173.9h0M697.9 119.8h0M697.5 173.3h0M697 117.5h0M697.5 115.2h0M697 112.9h0M698.5 122.6h0M698.6 173.3h0M699.9 124.9h0M699.7 173.7h0M700.9 127.1h0M700.7 174.6h0M700.2 122.8h0M701.9 126.1h0M701.7 175.2h0M702.1 126.9h0M702.4 177.7h0M703.2 123.5h0M702.9 181.9h0M703.6 126.7h0M704 177.3h0M704.6 126.6h0M704.2 178.1h0M704.9 180.8h0M704.5 183.1h0M704.4 185.6h0M704.4 188.8h0M704.3 191.6h0M704.6 194.1h0M704.6 196.7h0M705.1 129.2h0M705.1 180.9h0M707 135.1h0M706.4 184.7h0M707.9 140.8h0M708 191.4h0M708.3 145.2h0M708.1 196.8h0M710 149.8h0M709.1 203.9h0M709.6 205.4h0M709.5 208.4h0M710.7 153h0M710.8 209.4h0M710.3 150.1h0M710.6 150.8h0M710 148.1h0M712 155.7h0M711.5 217.4h0M712.9 160.4h0M712.3 223h0M713.3 162.6h0M713.5 222.8h0M714.7 165.5h0M714.2 224.7h0M715.6 166.3h0M715.2 225.9h0M716.7 164.5h0M716.6 228.9h0M717.8 162.7h0M717 230.6h0M717.6 160.9h0M718.9 161.9h0M718.3 231.5h0M719.1 232.7h0M719.2 161.1h0M719.5 231.8h0M720.7 163.1h0M721 235.3h0M721.7 166.8h0M721.5 236.8h0M721.4 238.5h0M721.3 241.2h0M721 243.6h0M722.7 168.7h0M722.7 236.9h0M723.6 169.4h0M723.4 237.4h0M723.7 245.7h0M724.2 168.2h0M724.7 239h0M725 169.9h0M725.7 239.7h0M726.2 172.3h0M726.6 237.1h0M727.9 174.4h0M727.2 232.2h0M727.9 235.6h0M727.7 238.7h0M728 241.6h0M727.8 243.7h0M728.4 176.6h0M728.6 229.6h0M728 236.2h0M729.5 179.5h0M729.5 225.9h0M730.7 181h0M730.8 224.5h0M730.9 226.1h0M730.6 228.9h0M730.9 231.5h0M730.8 233.6h0M730.4 236.6h0M731.3 181h0M731.2 222h0M732.2 180.8h0M732.2 220.6h0M732.5 174.9h0M733.3 179.6h0M733.3 218.6h0M734.4 173.9h0M734.6 214.7h0M734.4 217.9h0M735.6 169.5h0M736 212.4h0M735.3 217h0M735.5 216h0M736.1 164.1h0M736.5 211.5h0M737.9 157h0M737.5 209.9h0M738.8 151.5h0M738.3 208.1h0M738.2 149.7h0M738.2 143.4h0M738.6 211.4h0M739.5 152.6h0M739.4 206.2h0M739.9 213.9h0M740.8 154.1h0M740.8 203.8h0M741.5 155.7h0M741.2 205.4h0M742.9 154.4h0M742.6 207h0M742.7 141.9h0M743.2 150.7h0M743.8 208.5h0M744.4 145.4h0M744.9 206.4h0M745.9 140.6h0M745.5 204.4h0M745.9 207.8h0M746.2 135.1h0M746.1 203.4h0M746.5 129.9h0M746.7 205.6h0M747.2 131.6h0M747.8 202.3h0M747.2 124.1h0M748.3 127.9h0M748.8 201h0M749.2 122.5h0M749.6 200.1h0M750.8 114.8h0M750.5 199.5h0M752 107.4h0M751.1 196.8h0M752.2 100.1h0M752.5 196.3h0M752.8 96.7h0M752.7 94.1h0M752.2 91h0M752.9 88.5h0M752.8 86h0M752.4 83.5h0M752.3 81h0M753.9 91.3h0M753.6 197.4h0M753.8 90h0M754.2 87.2h0M754.9 89.9h0M754.9 198h0M754.4 85.5h0M755.4 86h0M755.8 198.1h0M756.4 80.5h0M756.3 198.3h0M756.6 201.1h0M757.8 76.3h0M757.3 199.3h0M758.3 72.5h0M758.6 200.3h0M758.7 66.6h0M759.6 67.1h0M759.6 204.7h0M760.2 69.7h0M760.6 210.5h0M761.6 73.5h0M761.8 214.6h0M761.1 227.9h0M761.6 220.2h0M762.2 74.4h0M762.4 218.5h0M763.3 72.6h0M763.3 223.7h0M764.3 69.9h0M765 225.5h0M765.7 69.1h0M765.3 225.1h0M765.3 237.7h0M766.7 71.8h0M766.1 226.9h0M768 81.8h0M768 228.1h0M768.6 94.3h0M768.9 228.1h0M769.5 104.6h0M769.4 227.4h0M770.9 119.4h0M770.4 225.5h0M771.7 132h0M772 221.3h0M772.8 149h0M772.6 217.1h0M773.3 157.5h0M773.3 214.5h0M774.8 157.8h0M774.3 214.4h0M775.1 155.9h0M775.4 210.4h0M776.3 152.4h0M776.2 209.3h0M777.5 149.2h0M777.7 207.6h0M777.4 141.3h0M778.2 145.6h0M778.8 206.8h0M779.1 144.2h0M779.9 206.8h0M780 143.1h0M780.8 206.9h0M781.1 147.7h0M781.4 207.2h0M781.3 210.7h0M780.9 213.2h0M780.7 216h0M780.9 218.4h0M781.1 221h0M782.3 150h0M782.4 208.1h0M783 147.3h0M783.7 151.5h0M783.3 208.7h0M784.8 151h0M784.4 209.3h0M785.1 149.3h0M785.9 209.2h0M785.7 143.6h0M786.9 148h0M786.4 207.6h0M787.2 149.2h0M787.3 209.1h0M788.9 150.7h0M788.3 207.6h0M789.3 151.9h0M789 207.4h0M790.3 154.2h0M790.2 206.7h0M791.4 153.9h0M791.4 205.6h0M792.6 152.9h0M792.9 205.5h0M792.6 151.6h0M793.2 149.4h0M792.7 147.1h0M793 151h0M793.8 208.9h0M794.9 149.2h0M794.4 209.9h0M795.1 148h0M795.1 212.6h0M796.8 145.9h0M796.1 213.6h0M797.4 143.2h0M797.7 217.4h0M798.4 140.3h0M798.4 217h0M799.3 139.3h0M799.6 216.6h0M799.7 219.2h0M799.7 221.9h0M800.2 224.8h0M800.1 227.2h0M800.4 135.4h0M800.1 217.1h0M800.3 126.2h0M801.6 135.7h0M801.2 216.9h0M802.5 136.6h0M802.8 214.7h0M801.9 218h0M802.6 220.1h0M803.2 136.9h0M803 216h0M803.1 132.5h0M804.8 134h0M804.1 215.8h0M804.2 129.7h0M805.5 132.9h0M806 213.9h0M806.8 130h0M806.4 213.7h0M806.7 217.7h0M807.7 126.4h0M807.9 212.4h0M808.4 122.6h0M808.2 212.9h0M808.3 120.1h0M808.4 117.5h0M808.9 216.3h0M809.3 122.3h0M809 214.8h0M810 128h0M810.5 213.4h0M811 123.5h0M811.3 133h0M811.1 213.2h0M812.7 138.7h0M812.6 213.9h0M814 139.3h0M813.4 211.1h0M814.2 139.6h0M814.6 208.7h0M814.4 212.3h0M814.8 214.5h0M815.3 142.1h0M815.5 210.2h0M816.7 144.9h0M816.2 209.7h0M817.2 147.3h0M817.1 209.2h0M818.4 150.4h0M818.5 209.7h0M818.4 147.8h0M818.2 145.3h0M818.9 142.8h0M818.8 140.4h0M819.7 151.9h0M819.3 209.2h0M819 148.5h0M819 146.2h0M819.5 143.1h0M819 140.7h0M819.2 137.8h0M819 135.3h0M819.2 132.6h0M819.9 212.7h0M820.4 151h0M820.3 210.4h0M820.2 147.5h0M820.7 145.1h0M821.5 149.3h0M821.4 208.5h0M821.7 141.2h0M821.6 145.2h0M822.1 148.6h0M822 209h0M822.5 212.7h0M823 147.7h0M823.3 207.2h0M823.5 146h0M824.5 147.7h0M824.5 205.8h0M825.3 145.9h0M825 207h0M825.3 208.8h0M825.8 211h0M826.7 146.6h0M826.6 207.3h0M827.2 147.2h0M827.2 207.1h0M828.1 144.2h0M827.8 141.6h0M828.2 139.3h0M828.2 136.9h0M827.7 134.3h0M827.6 131.9h0M827.6 128.8h0M827.7 125.8h0M828.2 146.6h0M828.4 206.3h0M828.2 141.2h0M829.6 147.8h0M829.1 207h0M831 145.5h0M830.9 208.7h0M831.9 143.6h0M831.3 212.2h0M831.4 137.4h0M833 143.5h0M832.4 217.1h0M833.6 143.9h0M833.2 219.1h0M834.1 143.3h0M834 215.8h0M835.9 142h0M835.1 211.9h0M835.3 139.9h0M835.3 136.8h0M836.6 140.8h0M836.4 210.9h0M836.9 136.8h0M836.4 212.5h0M836.1 215.6h0M836.3 218.4h0M835.8 221.2h0M836 223.6h0M836.2 226.6h0M836.1 229.2h0M837.4 138.5h0M837.8 209h0M838 137.6h0M838.1 207.9h0M838.2 134.4h0M838.2 131.3h0M838.6 128.2h0M838.3 125.1h0M838.3 122.5h0M838.3 119.7h0M839.9 136.4h0M839 204.7h0M840.7 135.6h0M840.4 204.3h0M841.7 132.5h0M841.6 202.2h0M841.8 207.3h0M842.4 132.4h0M842.5 202.4h0M842.1 130h0M843.5 134h0M843.4 204.5h0M843.5 132.2h0M843.5 129.8h0M843.6 127.8h0M844.7 137.6h0M844.4 208.1h0M844.8 220h0M845.7 139.9h0M845.7 209.8h0M845.8 213.1h0M846.5 137.9h0M846.1 213.1h0M846.8 136.6h0M846.8 133.9h0M847.4 133.6h0M847.5 213.7h0M848.8 128.8h0M848.9 215h0M850 122.2h0M849.2 214.4h0M849.6 111.2h0M849.5 222.7h0M850.4 112.6h0M850.3 213.5h0M850.8 108.5h0M851.9 104.9h0M851.1 214h0M851.9 103.7h0M851.5 101h0M851.7 98h0M852 95.8h0M851.5 93.7h0M852.2 99.6h0M852.4 212.5h0M852.3 92.1h0M853.9 94h0M853.2 208.9h0M853.5 218.1h0M854.7 97.2h0M855 207.2h0M854.6 212.3h0M855.1 101.8h0M855.7 204.9h0M855.5 208.4h0M856.2 104h0M856.4 204.5h0M857.1 108.6h0M857.7 203.7h0M857.6 90.5h0M858.5 117.7h0M858.7 204.4h0M859.4 124.7h0M859.8 205h0M860 210.8h0M860.2 134.1h0M860.9 207.2h0M860.4 132h0M861.9 141.1h0M861.7 208.7h0M862.7 145.8h0M862.6 208.8h0M863.9 149.9h0M864 208h0M864.9 151.9h0M864.2 207.2h0M864.9 143.2h0M865.7 150h0M865.7 209.5h0M866.2 147.6h0M866.5 212.5h0M866.3 229h0M866.6 214.8h0M867.3 146h0M867.5 216.2h0M868.3 145.8h0M868.8 217.9h0M869.5 150.3h0M869.8 216h0M869 219.6h0M869 221.9h0M869 224.5h0M870.8 154.6h0M870.6 215.7h0M870.9 219.2h0M870.9 222.2h0M871.1 159h0M871.5 216.8h0M871.6 157.1h0M872.2 161.7h0M872.5 214.9h0M872.8 220h0M873.2 163h0M873.5 214.6h0M874.9 160.5h0M874 216.2h0M873.9 217.6h0M874.4 220.7h0M874.1 223.2h0M874 226h0M875.1 159.7h0M875.6 215h0M875.7 146.1h0M876.8 155.5h0M876.4 215.8h0M876.6 153.8h0M878 151.8h0M877.8 215.2h0M878.9 147.2h0M878.7 217.7h0M878.2 139.9h0M878.6 225.9h0M879.8 145.6h0M879.9 218.1h0M879.5 142.7h0M879.7 139.7h0M879.8 137h0M880.1 139.8h0M880.1 217.5h0M881 135.3h0M881 138.4h0M880.3 136.1h0M880.5 133.2h0M880.3 130.1h0M880.6 127.8h0M881.3 135.5h0M881.3 216h0M882 129.6h0M882.4 217.6h0M883.6 123.8h0M883 216.3h0M882.9 219.8h0M883 222.4h0M882.7 225.3h0M883.4 228.3h0M882.8 230.6h0M885 117.1h0M885 218.7h0M884.9 220.2h0M886 113.9h0M885 215.9h0M885.5 111.1h0M885.5 108.6h0M886.9 112.3h0M886.7 214.5h0M887.2 114.6h0M887.6 211.7h0M887.4 112.2h0M887.2 109.6h0M886.9 106.5h0M888.3 114h0M888.9 210.3h0M888.5 112.7h0M888.5 109.8h0M888.4 107.5h0M888.5 104.8h0M888.2 102.7h0M888.6 100.1h0M888.2 98.1h0M887.9 95.8h0M889.5 114.1h0M889.2 210h0M890.8 114.5h0M890.2 209.7h0M890.6 211.8h0M891.4 116.6h0M891.4 209h0M892.2 120h0M892.4 208.9h0M893.2 125.8h0M893.1 207.5h0M893.1 210.3h0M894.3 133.5h0M894.4 206.9h0M895.4 141.7h0M895.2 207.2h0M896.8 146.5h0M896.8 209.9h0M897.7 147h0M897.7 211.8h0M897.8 213.7h0M897.9 216.7h0M898 219.5h0M898.2 146.5h0M898.3 211.6h0M898.1 142.6h0M899.7 144.8h0M899 210.2h0M900.3 144.9h0M900.3 212.2h0M901.2 140.2h0M901.5 211.6h0M902.9 135.4h0M902.1 214.2h0M903.2 128.9h0M903.2 212.3h0M903.5 127.3h0M903.9 215.2h0M904.1 218.2h0M904 127.2h0M904.1 211h0M904.4 214h0M903.9 216.3h0M903.7 219.2h0M904.3 221.3h0M903.8 224.2h0M903.9 226.9h0M904.5 229.4h0M904.3 231.4h0M905.3 126.8h0M905.4 210.2h0M905.6 213.4h0M905.7 215.6h0M906.3 128.8h0M906.4 210.6h0M907.1 127.6h0M907.6 211.7h0M907.5 217.8h0M908.9 126.6h0M908.7 209.1h0M908.3 118.2h0M909.3 120.7h0M909.4 205.9h0M910.4 111.9h0M910.7 204.1h0M911.5 103.7h0M911.4 205h0M912 105.7h0M913 207.9h0M912.5 99.8h0M912.7 89.7h0M912.5 211.4h0M912.4 213.5h0M912.8 216.3h0M912.8 219h0M912.8 221.3h0M913.4 106.3h0M913.6 211.6h0M914.8 111.9h0M914.7 213.9h0M914.7 224.9h0M915 117h0M915.7 214.9h0M916.2 118.4h0M916.9 214.4h0M917.8 118.3h0M917.1 213h0M917.4 115.7h0M917.6 113.1h0M918.1 110.6h0M918.2 116.3h0M918.4 211.1h0M919.6 118.4h0M919.5 210.7h0M919.4 112.5h0M919 215.2h0M920.9 121.4h0M920.4 210.7h0M921.6 125.6h0M921.2 212.6h0M921.7 114.6h0M921.9 123.8h0M921.5 217.1h0M922.2 130.5h0M922.7 211.9h0M923.2 130.4h0M923.8 212.8h0M924.5 129.4h0M924.8 208.4h0M925.2 125.5h0M925.9 207.3h0M926.1 122.6h0M926.4 205.1h0M927.1 116.7h0M928 205.3h0M928.6 111.6h0M928.7 204.9h0M929.9 107.7h0M929.1 206.1h0M930.6 103.2h0M930.7 207h0M930.9 100.2h0M931.5 101h0M931.2 210.1h0M931.5 96.1h0M932.6 108.8h0M932.3 210.1h0M933.8 115.5h0M933.8 210.2h0M934.3 123.3h0M934 209.6h0M935.2 132.9h0M935.1 207.9h0M936.4 138.7h0M936.5 207.2h0M937.1 142.3h0M937.5 208.2h0M938.4 147.6h0M938.7 206.8h0M939.1 208.8h0M939.2 211.2h0M938.6 213.9h0M939.2 216.6h0M939.1 218.7h0M939.1 221.3h0M938.6 224.1h0M939.8 149.5h0M939.9 204.6h0M940.8 148.7h0M941 204.3h0M940.7 227h0M941.1 146.4h0M941.5 206h0M942.1 142.9h0M942.5 208.4h0M942.1 141.7h0M942.7 210.6h0M942.5 218.8h0M943.3 146.1h0M943.5 208.5h0M944.6 146h0M944.6 209.9h0M945.3 145.9h0M946 211h0M946.6 145.8h0M946.5 211.6h0M946.4 144.4h0M946.5 214.1h0M946.7 216.9h0M947.9 148.6h0M947.8 212.5h0M947.2 216.1h0M948.8 148.8h0M948.8 216.5h0M948.2 145.4h0M949.4 152.6h0M949.5 217.7h0M949.1 149.9h0M949.8 225.8h0M950.9 153.9h0M950.3 220h0M950.6 151.4h0M951.1 154.4h0M951.2 221.7h0M951.4 223.4h0M951.3 225.5h0M951.7 227.7h0M951.6 229.7h0M951.7 232.4h0M951.8 234.8h0M951.5 236.8h0M951.8 239.6h0M952.4 152.8h0M952.4 224.7h0M953.8 152.1h0M953.2 225h0M954.6 152.5h0M954.7 226.6h0M953.8 150.8h0M955.8 153.9h0M955.2 229.9h0M955.5 141.6h0M955.5 149.9h0M956.5 158.5h0M956.9 230h0M956.4 155.6h0M956.2 234.6h0M957.1 163.1h0M958 229.7h0M957.2 232.4h0M958.9 166.4h0M958.2 230h0M957.9 232h0M958.1 234.5h0M958 237.2h0M958.2 239.7h0M958.1 242.2h0M959.3 171.4h0M959.6 229.4h0M960.6 174.3h0M960 225.1h0M960.1 171.3h0M961.4 175.9h0M961.8 220.8h0M962.3 173.1h0M962.3 218.2h0M963.8 170.9h0M963 213.5h0M964 169.2h0M964.8 212.5h0M964.4 153.9h0M965.4 164.6h0M965.1 210.6h0M966.8 164.3h0M966.6 209.7h0M966.2 161.2h0M966.3 158.9h0M967.8 161.6h0M967.5 210.6h0M968.9 159.7h0M968.4 211.8h0M969 156h0M969.5 210.1h0M970.6 153.3h0M971 207.5h0M971.7 152.8h0M971.6 205.9h0M972.2 153.4h0M972.6 202.9h0M973.5 154.6h0M973.1 203.4h0M973.6 149.8h0M973.2 151.1h0M973.2 148h0M973.7 145.6h0M973 143.5h0M974.3 154.6h0M974.3 204.8h0M975.7 154.4h0M975.2 206.2h0M976.2 156.7h0M976.7 208.1h0M976.6 211.1h0M976.5 214h0M976.3 216.7h0M976.6 218.7h0M976 220.8h0M976.1 223h0M975.9 225.1h0M975.8 227.3h0M977.4 158.8h0M977.4 211.5h0M976.9 156.3h0M978.3 161.9h0M978 214.7h0M978.2 154h0M978.4 216.2h0M979 163.7h0M979 216.8h0M979.9 162h0M980.6 167.5h0M980.7 216h0M980.7 159.3h0M980.7 160.8h0M981.8 168.3h0M981.5 215.5h0M981 217.9h0M982.6 168.2h0M982.8 214.1h0M983.1 164.5h0M983.3 214.5h0M984.5 164.3h0M984.6 215.1h0M985.3 164.6h0M985.8 216.4h0M986.1 163.4h0M986.2 213.5h0M987.8 163.3h0M987.2 212.7h0M987 160.6h0M987.3 157.8h0M986.8 155.4h0M987 153.4h0M988.6 161.3h0M988.5 214.1h0M989.3 160.1h0M989.3 212.7h0M989.7 220h0M989.6 216.3h0M989.1 218.5h0M989.3 221h0M989.2 223.8h0M989.6 226h0M989.4 228.7h0M989.8 230.8h0M989.3 233.5h0M990.6 163h0M990.5 216h0M990.7 218h0M990.6 220.9h0M990.5 224h0M991.1 226.7h0M990.7 228.9h0M990.7 231.7h0M990.9 234.3h0M991.2 164.4h0M991.8 216.8h0M992.1 166.2h0M992.7 213.7h0M993.5 168.8h0M993.4 212.5h0M994.7 170.3h0M994.1 211.3h0M994.3 217.8h0M995.3 172.1h0M995.4 213.3h0M995.5 170.7h0M995.1 167.8h0M996.7 175.2h0M996.6 215.4h0M997.8 176.8h0M997.8 218h0M997.8 222.1h0M998.7 174.8h0M998.5 220.5h0M999.2 175.8h0M999.3 223.7h0M1000.1 175.5h0M1000.2 224.2h0M1001.5 176.3h0M1001 226.8h0M1002.9 175.8h0M1002.3 234.6h0M1003.8 175.3h0M1003.3 239.4h0M1003.1 171.2h0M1003.2 169.5h0M1004.7 174.2h0M1004.6 245.8h0M1004.4 247h0M1005.1 250h0M1005.6 175.4h0M1005.3 244.1h0M1005.7 248h0M1006.4 176.9h0M1006.2 245h0M1006.1 172.3h0M1007.8 178.7h0M1007.8 248.9h0M1008.2 181h0M1008.7 246.5h0M1009 180.6h0M1009.4 243.6h0M1010.5 180.6h0M1010.4 237.9h0M1011.5 182.5h0M1011.5 235.7h0M1012.6 181.3h0M1012.5 233.7h0M1012.8 237h0M1013.5 179.5h0M1013.3 229.9h0M1013.2 177.5h0M1012.6 174.4h0M1012.9 171.5h0M1013 168.5h0M1014.6 178.1h0M1014.5 227.5h0M1014.6 229.1h0M1014.9 231.5h0M1015 176.3h0M1015.8 223.8h0M1016.3 174.3h0M1016.5 220.6h0M1016.9 171.1h0M1017.5 168.5h0M1017.5 218.3h0M1018.1 164.5h0M1018.8 214.7h0M1018.5 161.7h0M1018.8 159h0M1018.6 156.3h0M1018.5 154h0M1019.4 160.8h0M1020 211.4h0M1021 158.1h0M1020.9 210.3h0M1020.1 156.2h0M1021.5 159.1h0M1021.1 207.1h0M1021 156.8h0M1020.9 154h0M1022.2 161h0M1022.2 205.1h0M1023.7 162.2h0M1023.8 205.3h0M1024.2 164h0M1024 206.2h0M1025.4 165.8h0M1025.4 207.6h0M1026.5 166h0M1026.9 208.9h0M1026.5 212.2h0M1027.7 168.7h0M1027.8 210.8h0M1028.5 168.1h0M1028.1 208.6h0M1028.1 166.8h0M1028.4 164.6h0M1028.1 162.1h0M1028.7 159.9h0M1028.7 157.3h0M1028.3 155h0M1028.6 152.5h0M1028.7 149.7h0M1028.3 211.8h0M1028.6 214.6h0M1029.1 171.1h0M1029.5 209.5h0M1030.8 174.8h0M1030.7 209.7h0M1030.7 216.3h0M1031.7 175.7h0M1031.8 212.7h0M1032.2 179h0M1033 211.6h0M1032.7 177h0M1032.7 174.2h0M1032.8 171.2h0M1032.2 168.7h0M1032.8 166.1h0M1032.3 163.1h0M1032.6 161h0M1032.2 158.5h0M1033.3 180.7h0M1033.2 213.6h0M1033.1 169.2h0M1034.2 182h0M1034.5 212.9h0M1034.4 179h0M1034.3 176.8h0M1035.8 179h0M1035 212.9h0M1035.4 174.8h0M1036.3 216.5h0M1036.3 218.7h0M1036.3 174.7h0M1036.5 213.8h0M1037.3 169.6h0M1037.3 214.2h0M1038.3 164.1h0M1038.8 213.7h0M1038.9 221h0M1038.3 223.9h0M1039.4 160.5h0M1039.1 212.2h0M1040.8 158.1h0M1040.1 212.3h0M1040.4 215.9h0M1041.6 156.1h0M1041.6 211.1h0M1042.4 154.9h0M1042.1 210h0M1043.7 153.1h0M1043.6 207.7h0M1044.7 149.2h0M1044.7 207.3h0M1044.2 210.7h0M1045.6 145.1h0M1045.5 206.1h0M1046.7 145h0M1046.7 205.2h0M1047.3 145.3h0M1047 207.1h0M1047.9 211.4h0M1048.5 143.5h0M1048 208.5h0M1049.3 144.9h0M1049.2 209.2h0M1050.1 212.7h0M1050 214.9h0M1049.8 217.2h0M1050.1 219.2h0M1049.9 221.8h0M1050.1 224.8h0M1050.1 149.3h0M1050.8 211.6h0M1051.5 150.4h0M1051.4 210.9h0M1051.5 148.2h0M1051.6 213h0M1051.3 215.2h0M1052.5 153.9h0M1052.4 208.9h0M1052.6 210.9h0M1053 213.4h0M1052.5 215.6h0M1052.8 218.4h0M1052.7 220.8h0M1053.6 156.3h0M1053.7 208h0M1054.4 155.7h0M1054.5 206.8h0M1055.8 156.8h0M1055.9 206.7h0M1055 154.4h0M1055.3 152.3h0M1055 150.1h0M1055.3 148.1h0M1054.9 145.3h0M1055.2 142.5h0M1056.8 158.5h0M1056.2 210.4h0M1057.7 160.1h0M1057.6 216.5h0M1058.9 163.1h0M1058.9 221.2h0M1059 162.4h0M1059.2 226.5h0M1059.3 228h0M1059.3 230.3h0M1059.2 233h0M1060.8 164.8h0M1060.9 228.8h0M1059.7 163.5h0M1061.1 170.6h0M1061.6 227.6h0M1063 173.6h0M1062.9 228.4h0M1062.7 229.9h0M1063.2 175.8h0M1063.8 225.7h0M1064.1 177.3h0M1064.6 225.4h0M1064.1 229.3h0M1064.3 227.7h0M1064.2 230.6h0M1063.8 233.7h0M1064 236.1h0M1063.7 238.5h0M1064.4 240.9h0M1064.3 243.6h0M1065.6 175.7h0M1065.2 222h0M1066.9 174.2h0M1066.4 220.6h0M1067.9 174.5h0M1068 221.7h0M1067.5 171.5h0M1067.1 225.7h0M1068.6 175.2h0M1068.9 225.6h0M1069.9 174h0M1069.4 228.2h0M1069.8 231.1h0M1069.5 233.7h0M1070.2 236.5h0M1070 238.9h0M1070.6 171.9h0M1070.5 230.1h0M1071.8 171.7h0M1071.4 230.9h0M1071.4 163.9h0M1072.1 233.8h0M1072.2 235.8h0M1072 238.5h0M1072.1 241.4h0M1072.8 170.7h0M1072.2 230.9h0M1073 169.3h0M1073.6 232.6h0M1073.6 234.6h0M1073.8 237.5h0M1073.2 239.8h0M1073.4 242h0M1073.3 244.9h0M1073.7 247.7h0M1073.9 250.1h0M1073.7 252.3h0M1074.9 175.4h0M1074.7 235.6h0M1074.5 238.7h0M1075.6 179.5h0M1075.3 239.3h0M1075.6 172.5h0M1075.7 245.2h0M1076.4 184.2h0M1076.9 244h0M1077.5 190.7h0M1077 245.9h0M1077.3 185.2h0M1078.7 189.4h0M1078.4 242.8h0M1080 190.7h0M1079.5 238.4h0M1080.5 187h0M1080.3 235.8h0M1081.7 187.5h0M1081.7 234.8h0M1081.1 238.4h0M1082.4 188.8h0M1082 233.9h0M1082.8 175.2h0M1083.6 191.1h0M1083.8 233.2h0M1083 248h0M1084 190.8h0M1084.1 233.7h0M1085.8 190.1h0M1086 231h0M1085.8 181.8h0M1085 238.7h0M1086.9 186.5h0M1086.6 228.6h0M1087.5 185.3h0M1087.1 228.9h0M1088.9 181.1h0M1088.5 227.1h0M1089.1 181.8h0M1089.9 227.5h0M1090.3 182.8h0M1090.7 227.2h0M1090.3 230.4h0M1090.3 232.6h0M1090 234.8h0M1091.4 185.2h0M1091.9 227.3h0M1092.9 186.5h0M1092.7 226.4h0M1092.3 228.5h0M1093.9 187.3h0M1093 223.1h0M1093.5 181.4h0M1093.6 185.2h0M1094.4 188.9h0M1094.1 220.7h0M1095.9 189.9h0M1095.5 219.8h0M1096.9 188.7h0M1096.4 219.2h0M1097.9 186.8h0M1097.6 219.7h0M1097.8 225.5h0M1098.2 182.7h0M1098.3 219.6h0M1098.3 179.9h0M1098.8 223.2h0M1098 221.9h0M1098.3 224.7h0M1098.3 227.5h0M1097.7 230.4h0M1099.7 183.3h0M1099.6 219.1h0M1099.1 235.4h0M1099.3 222.2h0M1099.5 224.3h0M1099.1 227.2h0M1099.6 229.4h0M1099.2 231.7h0M1099 234.3h0M1099.5 236.6h0M1099.5 239.6h0M1100.1 184.4h0M1100.8 221.5h0M1101.4 181.7h0M1101.9 219.8h0M1102.2 180.4h0M1102.5 219.1h0M1102.6 177.6h0M1103.7 179.4h0M1103.2 219.9h0M1103.7 175.7h0M1104.9 180.1h0M1104.7 225.7h0M1103.7 228.5h0M1104 231.1h0M1103.6 233.2h0M1103.8 235.7h0M1105.9 182.9h0M1105 232.6h0M1106.1 186.2h0M1106.7 239.8h0M1106.9 243.4h0M1107.4 189.1h0M1107.7 242h0M1107.6 184.5h0M1107.3 249.3h0M1108.8 190.3h0M1108.9 238.1h0M1109.2 192.4h0M1109.2 235.1h0M1110.3 193.5h0M1110.5 233.3h0M1110.1 191.1h0M1110.3 242.6h0M1111.3 192.6h0M1111.4 232.7h0M1111 186.5h0M1111.8 190.9h0M1111.8 188.1h0M1111.5 185.5h0M1111.9 182.8h0M1112.7 193.2h0M1112.7 230.9h0M1112.6 234.4h0M1113.3 237.6h0M1113.3 240.4h0M1113.1 243.5h0M1113.2 246.3h0M1112.7 248.6h0M1113 251.6h0M1113.9 190.8h0M1113.2 232.5h0M1113.4 187.9h0M1112.7 184.9h0M1112.7 182.3h0M1114.9 187.5h0M1114.8 233.7h0M1114.7 176h0M1115.5 186.5h0M1115.2 237.7h0M1116.7 190h0M1116.4 243.9h0M1116.3 245.9h0M1116.5 248.2h0M1116.4 250.2h0M1117.5 193.9h0M1117.8 247.4h0M1117.4 260.4h0M1118.3 194.7h0M1118.8 251h0M1118.2 190.4h0M1119.3 193.2h0M1119.5 255.7h0M1119.3 191h0M1120.4 196h0M1120.5 258h0M1121.2 196.1h0M1121.8 260.7h0M1121.6 183.7h0M1121.2 263.3h0M1121.6 266.4h0M1121.9 269.1h0M1121.5 271.2h0M1121.5 274.4h0M1122.7 197.4h0M1122.3 262.2h0M1123.3 198.2h0M1123.9 265.6h0M1124.1 199.2h0M1125 268.4h0M1124.8 196.3h0M1124.6 186h0M1124.5 281.5h0M1126 199.6h0M1125.7 270.1h0M1126.2 198.1h0M1126.3 270.5h0M1127.7 199.8h0M1127.8 269.8h0M1128.6 201.8h0M1128.2 269.5h0M1128.1 199.5h0M1127.8 196.6h0M1128.2 193.4h0M1128.5 191.3h0M1128.1 271.5h0M1128.4 274.1h0M1128.3 276.4h0M1129.3 203.9h0M1129.6 266.2h0M1130.5 202.9h0M1130.8 262.9h0M1131.3 202.8h0M1131.5 258.9h0M1132.7 200.1h0M1132.2 256.7h0M1131.9 259.1h0M1132.3 261.7h0M1132.3 264.6h0M1133.3 201.4h0M1133.9 257.7h0M1134.6 201.2h0M1134.1 259.8h0M1135.1 202.1h0M1135.3 260.5h0M1135.7 262.3h0M1135.4 262.3h0M1135.8 265h0M1137 202.2h0M1137 256.9h0M1136.5 200.4h0M1137.8 202.9h0M1137.7 254.9h0M1138.9 204.8h0M1138.2 253.2h0M1139.7 203.8h0M1139.3 252.7h0M1139.2 255.8h0M1140.1 203.6h0M1140.4 252h0M1140.6 200.1h0M1141.6 200.2h0M1141.8 250.8h0M1141.2 194.2h0M1143 198.4h0M1142.2 250.4h0M1143.6 193.1h0M1143.8 251.1h0M1143.8 183.3h0M1144.3 190.2h0M1145 248.3h0M1144.2 250.1h0M1145.9 190.4h0M1145.8 243.9h0M1146.4 191.7h0M1147 242.6h0M1147.2 192.7h0M1147.4 239.9h0M1148.9 197.2h0M1148.2 240.2h0M1148.4 186h0M1149.1 197.7h0M1149.4 244h0M1150.8 196.4h0M1150.2 248.7h0M1151.2 198.2h0M1151.6 257h0M1152.9 198.2h0M1152.7 255.5h0M1153.9 201.2h0M1153 255h0M1153.5 199.6h0M1154.1 204.4h0M1154.6 251.8h0M1154.9 193.6h0M1155 202.2h0M1155.9 248.4h0M1156.7 190.3h0M1157 246.3h0M1157.6 179.3h0M1157.3 244.4h0M1159 168.3h0M1158.3 243.1h0M1159.6 162.5h0M1159.1 241.3h0M1159.6 157h0M1160 159.7h0M1160.7 238.5h0M1161.7 158.2h0M1161.5 236.5h0M1162.6 154.4h0M1162.7 233.2h0M1163.5 154.7h0M1164 233.3h0M1163.6 150.3h0M1163.8 149.6h0M1163.7 150.7h0M1163.9 240h0M1164.8 158h0M1164.7 232.3h0M1165.9 162.5h0M1165.6 229.4h0M1166.1 165.7h0M1166.6 226.6h0M1166 164.5h0M1166.3 162.5h0M1167.5 170.5h0M1167.7 225.8h0M1168.3 170.3h0M1168.7 225.9h0M1169.2 172.7h0M1169.5 227.1h0M1169.2 168.3h0M1169.4 170.5h0M1169.7 167.4h0M1169.7 164.8h0M1169.4 162.5h0M1169.5 242.3h0M1170.1 176.5h0M1170.5 228h0M1170.3 232.7h0M1171.6 179.6h0M1171.3 230.3h0M1172.9 181.8h0M1173 233.1h0M1173.5 185.1h0M1173.3 234h0M1173.7 238.3h0M1174.8 188.6h0M1174.6 234.3h0M1174.5 237.9h0M1175.3 193.3h0M1175.1 235.4h0M1175.6 191.1h0M1175.8 237.5h0M1175.8 240.6h0M1176.6 197.2h0M1176.9 236.9h0M1177.9 199.8h0M1177.2 238.2h0M1178.1 201.4h0M1178.9 235.5h0M1178.3 237.8h0M1180 202.1h0M1179.3 232.8h0M1180.5 202.5h0M1180.3 229.8h0M1180.6 261.7h0M1181.2 204.3h0M1181.1 226.5h0M1182.9 206.6h0M1182.8 222h0M1183.6 196.5h0M1183.8 221.2h0M1183.7 246.3h0M1185 189.9h0M1184.1 221.3h0M1184.5 223.1h0M1185.4 181.4h0M1185.9 220.5h0M1186.8 176.2h0M1186.6 220.7h0M1186.8 173.8h0M1187.6 175.3h0M1187.2 219.4h0M1188.3 169h0M1188.2 220.5h0M1188 164.3h0M1188.5 227.8h0M1188.7 225.2h0M1189 163.5h0M1189.4 217.9h0M1190.5 161h0M1190.5 218.7h0M1190.6 220.8h0M1191.9 160.6h0M1191.6 218.1h0M1192.7 160.6h0M1193 216.9h0M1193.8 162.7h0M1193.8 215.5h0M1194.2 160.1h0M1193.5 157.3h0M1193 217.4h0M1194.9 164.7h0M1194.7 216.2h0M1195.8 166.8h0M1195.8 215.9h0M1196.8 170.6h0M1196.2 219.9h0M1197.1 172h0M1197.4 223.9h0M1198.5 175.6h0M1198.9 225h0M1199.3 177.8h0M1199.4 228.3h0M1200.8 182.3h0M1200.4 227.2h0M1201.8 184.3h0M1201.1 227.8h0M1202.9 185.3h0M1202.1 225.6h0M1202.4 246.4h0M1203 188.7h0M1203.4 227.7h0M1204.4 192h0M1204 230.1h0M1205.4 192h0M1205.6 232.5h0M1206 192.5h0M1206.6 234.8h0M1207.2 193.3h0M1207.1 235.5h0M1207.1 191.9h0M1207.5 189.3h0M1207.2 187.2h0M1207.2 185.2h0M1207.1 182.7h0M1207.3 242.8h0M1208.1 196.1h0M1208.2 234.8h0M1208.5 193.3h0M1210 186.5h0M1209.8 230.4h0M1210 179.6h0M1210.4 228.7h0M1210.3 232h0M1210.1 235.2h0M1211.5 170.2h0M1211.6 229h0M1212.7 163.2h0M1212.7 229.6h0M1213.6 162.3h0M1213.5 228.4h0M1213.5 158.2h0M1214.4 158.8h0M1214.3 227.3h0M1214.4 229.8h0M1215.8 158h0M1215.4 226.6h0M1216.8 160.2h0M1216.1 226.8h0M1217.4 167.2h0M1217 231.4h0M1218.3 174.3h0M1218.2 232.7h0M1218.5 168h0M1219.3 182.5h0M1219.8 237.2h0M1219.1 171.7h0M1219.5 180h0M1219.8 249.2h0M1220.9 186.4h0M1220.7 245h0M1220.4 255.2h0M1220.1 247.2h0M1221.3 189h0M1221.4 253.5h0M1222.1 196.1h0M1222.4 263h0M1223.2 200.3h0M1223.9 270.3h0M1223.7 184.4h0M1224.5 200h0M1224.9 267.9h0M1224.5 272.9h0M1225.4 199.1h0M1225.2 265h0M1225.3 195.9h0M1226.6 198.8h0M1226.6 264.9h0M1227.8 194.9h0M1227.3 263.2h0M1227.9 265.8h0M1228 268.7h0M1228.4 196.3h0M1228.8 258.6h0M1229.7 193.9h0M1229.8 255.8h0M1230 193.1h0M1230.9 252h0M1230.6 261.5h0M1231.6 193.6h0M1231.2 249.9h0M1230.8 252.5h0M1231 254.7h0M1231.2 257.4h0M1231 259.6h0M1230.9 262.7h0M1230.7 265h0M1232.8 192.5h0M1232.8 250h0M1233.3 251.6h0M1232.7 254h0M1233.9 191.2h0M1233.1 248.7h0M1234.6 191h0M1234.3 247.3h0M1234.6 252.1h0M1235.9 188.5h0M1235.2 244.9h0M1236.2 188.9h0M1236.3 242.4h0M1237 191.2h0M1237.2 238.6h0M1237.4 188.3h0M1237.8 185.7h0M1237.6 183h0M1237.5 179.9h0M1238.1 191.1h0M1238.5 238.9h0M1239.3 191.4h0M1239.5 236.1h0M1240 239.5h0M1240.6 190.6h0M1240.4 234.8h0M1241.3 189.9h0M1241.3 234h0M1242.1 187.9h0M1242.5 233.3h0M1242.7 245.7h0M1243.7 187.5h0M1243.7 233.1h0M1243.9 245.4h0M1244.6 189.6h0M1244.8 234.1h0M1245.1 190.9h0M1245.3 236.4h0M1246.3 191.5h0M1246.7 238.2h0M1246.9 185.6h0M1246.1 188.6h0M1246.7 186.4h0M1246.6 184.4h0M1246.6 181.7h0M1246.5 178.5h0M1246.4 175.3h0M1246.5 172.8h0M1246.7 170.5h0M1247.3 192.4h0M1247.4 240.1h0M1248.9 191.5h0M1248 241.6h0M1249.3 194.5h0M1250 245.6h0M1249.5 249.9h0M1250.9 193.5h0M1250.8 245.9h0M1251.3 191h0M1251.4 245.8h0M1252.3 192h0M1252.4 245.4h0M1253.6 191.4h0M1253.9 245.7h0M1255 193h0M1254.6 249.1h0M1255.5 191.7h0M1255.7 250.3h0M1256.2 192.8h0M1256.6 252.8h0M1257.2 191.6h0M1257.8 256h0M1257.9 261.9h0M1258.8 196.7h0M1258.5 257.4h0M1259.5 200.2h0M1260 256.6h0M1260.9 201.6h0M1260.6 256.8h0M1261.5 198.6h0M1261 255.9h0M1261.4 267h0M1262.5 196.6h0M1263 255.6h0M1263 193.8h0M1263.2 257.3h0M1264.4 191.5h0M1264.1 257.6h0M1265.1 185.9h0M1265 257.8h0M1266.4 183.4h0M1266.2 255h0M1267.5 182h0M1267.3 252.1h0M1267.3 263.4h0M1268 255.6h0M1268 179.5h0M1268.8 249.8h0M1268.8 170h0M1268.5 176.7h0M1269.6 180h0M1269.6 246.3h0M1270.1 181.8h0M1270.5 246.2h0M1269.7 248.5h0M1269.7 251.2h0M1270.3 254.2h0M1270.4 256.9h0M1271.7 182.3h0M1271.3 246.3h0M1271.8 249.2h0M1271.9 251.9h0M1271.6 254.5h0M1272 256.7h0M1272.1 259.4h0M1272.9 188.5h0M1272.1 252.4h0M1273.8 194.7h0M1273.4 257.3h0M1273.5 187.6h0M1274.3 200.4h0M1274.5 261.4h0M1275.5 209.3h0M1275 267.1h0M1276 205.7h0M1276.6 211.9h0M1276.7 268.3h0M1277.6 214.5h0M1277.1 270h0M1277.5 210.9h0M1278.9 215.2h0M1278.2 272.9h0M1279 214.6h0M1279.6 272.4h0M1280.5 215h0M1280.3 270.7h0M1281.6 213.6h0M1281.3 273.3h0M1281.2 275h0M1282.2 213h0M1282.1 274.7h0M1283.6 214h0M1284 271.8h0M1283.4 207.5h0M1284.4 214h0M1284 267.2h0M1284.4 211.9h0M1284.2 209.7h0M1284.2 207.4h0M1284 205.4h0M1284.5 202.8h0M1284.1 200.2h0M1284 197.7h0M1284.3 195.5h0M1285.3 214.5h0M1285.9 263.6h0M1286.9 215.2h0M1286.7 257h0M1287.4 216.8h0M1287.7 258.4h0M1286.9 214.2h0M1287.1 211h0M1286.7 208.5h0M1287.3 206h0M1287.2 203.2h0M1287.1 200.4h0M1286.6 198.3h0M1286.8 195.7h0M1287.3 264.2h0M1287 267.1h0M1286.7 260.9h0M1287.3 264.1h0M1288.4 214.9h0M1288.3 260h0M1288.9 212.2h0M1289.4 213.1h0M1289.7 258.2h0M1290.9 213.4h0M1290.2 260h0M1291.1 213.9h0M1291.2 261h0M1291.9 264.6h0M1292.4 214.7h0M1292.5 262.8h0M1292.5 211.3h0M1292.4 212.1h0M1292.6 209.2h0M1292.1 206.6h0M1292.2 204.5h0M1292.2 202.3h0M1292.2 200.2h0M1292.4 197.5h0M1293.3 213.7h0M1293.5 264.6h0M1293 273.8h0M1293.4 268.1h0M1294.9 213.2h0M1294.2 266.1h0M1295.6 213.1h0M1295.5 264h0M1295.2 211.5h0M1295.6 211.5h0M1295.4 208.4h0M1296.9 213.8h0M1296.9 264h0M1296.7 267.3h0M1297.8 214h0M1297.5 264.1h0M1298.5 213.5h0M1298.6 266.7h0M1299.7 212.1h0M1299.9 267.5h0M1299.1 273.9h0M1300.9 210.5h0M1300.9 269.2h0M1301.1 213.1h0M1301.1 268h0M1302.4 212.6h0M1302.8 268.7h0M1302.4 210.2h0M1303.8 211.9h0M1303.2 267.4h0M1304.2 268.9h0M1304.9 212.9h0M1304.1 264.9h0M1304.4 267.8h0M1304.8 270.1h0M1304.7 272.5h0M1304.8 275.3h0M1304.8 277.6h0M1304.3 280.1h0M1304.6 283h0M1305.5 209.4h0M1305.9 264.3h0M1306.9 209.5h0M1306.9 264.7h0M1307.6 208.4h0M1307.2 262.7h0M1308.3 205.9h0M1308.3 262.4h0M1308.2 198.1h0M1309.3 210h0M1309 270.6h0M1310.9 210.5h0M1310.9 275.8h0M1311.9 213.9h0M1311.5 277.7h0M1312.7 217.1h0M1312.9 279.9h0M1313.9 218.4h0M1313.8 282.1h0M1314.4 220.1h0M1314.3 280.3h0M1314.6 216.2h0M1314.7 210.5h0M1314.9 287.3h0M1315 221.2h0M1315.7 280.6h0M1316.8 221.7h0M1316.7 280.2h0M1316.1 217.5h0M1316.3 218.5h0M1316.6 216.5h0M1316 214h0M1316 211.9h0M1316.4 208.8h0M1317.9 220.2h0M1317.9 281.1h0M1316.9 218h0M1316.8 215.1h0M1317.2 212.5h0M1317.1 209.9h0M1318.6 220.6h0M1318.2 281.1h0M1319.6 219.6h0M1319.1 280.6h0M1320.9 218h0M1320.4 280.2h0M1320.8 292h0M1321.5 216.5h0M1321.2 275.1h0M1322.9 217.4h0M1322.5 274h0M1322.6 283h0M1323.5 217.7h0M1323.5 272.5h0M1324.8 217.2h0M1324.2 273.6h0M1324.3 282.7h0M1325.2 216.3h0M1325.9 272.9h0M1325.7 277.3h0M1326.1 217.4h0M1326.4 270.2h0M1327.5 216h0M1327.9 268.6h0M1328.3 213.6h0M1327.9 210.7h0M1327.8 208.7h0M1328.3 214.7h0M1328.7 268.7h0M1328.5 208.6h0M1329.1 215.3h0M1329.1 270h0M1330.7 212.9h0M1330.2 273.2h0M1331.4 213.1h0M1331.4 276h0M1331.3 279.4h0M1332.7 213.7h0M1332.6 279.6h0M1332.4 282.2h0M1333 284.9h0M1332.8 287.9h0M1332.5 290h0M1333 292.7h0M1332.5 295.3h0M1332.6 298h0M1333.6 215.8h0M1333.4 282.7h0M1333.8 212.6h0M1333.5 209.7h0M1333.7 207.6h0M1334.7 213.9h0M1334.4 286.6h0M1335.1 211.3h0M1335.2 289.2h0M1336.6 209.2h0M1336.2 294.3h0M1337.7 206.9h0M1337.5 293.3h0M1338.4 296.2h0M1338.8 202h0M1338.4 290.4h0M1339.2 201.2h0M1339.1 285.3h0M1339.3 287h0M1340.9 199.7h0M1340.7 279.1h0M1340.1 194.8h0M1340.5 282.3h0M1340.5 284.9h0M1340.5 287.1h0M1341.1 203.8h0M1341.4 280.2h0M1342.3 203.4h0M1342.3 280h0M1343.2 205.8h0M1343.5 282.4h0M1343.8 201.3h0M1343.2 285.2h0M1344.7 206.8h0M1344.4 283.7h0M1346 206.8h0M1345.1 282.8h0M1346.1 209.9h0M1346.8 278.3h0M1347.5 212.5h0M1347.4 278.8h0M1348.5 209.3h0M1348.1 277.4h0M1347.9 280.5h0M1349.1 205.8h0M1350 277.4h0M1349.8 285.2h0M1350.7 204.8h0M1350.8 273.4h0M1351.3 203.6h0M1351.8 268.4h0M1352.6 204.7h0M1353 266.6h0M1353.2 206.9h0M1353.3 267.7h0M1353.1 198h0M1354.1 210h0M1354.2 270.5h0M1355.9 212.1h0M1355.7 273.5h0M1355.2 279.8h0M1357 214h0M1356.5 276.8h0M1357.7 216.2h0M1357.9 279.7h0M1357.1 208.9h0M1358.9 216.5h0M1358.7 282.3h0M1358.9 199.3h0M1358.3 290.2h0M1358.7 299.5h0M1359.8 217.2h0M1359.2 279h0M1360.1 217.6h0M1360.8 278.7h0M1360.9 210.8h0M1361.6 217.9h0M1361.8 276.8h0M1362.9 219.2h0M1362.5 278.2h0M1363.6 220.4h0M1363.9 275.2h0M1364.4 220.2h0M1364.3 274.8h0M1364.8 216.8h0M1364.8 214.6h0M1365 282.5h0M1365.9 216.4h0M1365.2 274.7h0M1365.7 212.4h0M1365.8 208.1h0M1365.1 211h0M1365.1 275.9h0M1365.3 278.6h0M1365.2 281.4h0M1365.4 284.1h0M1365.4 286.8h0M1366.1 213.7h0M1366.7 273.3h0M1367 276.2h0M1366.5 278.7h0M1366.9 280.8h0M1366.3 283.9h0M1367.7 209.6h0M1367.3 275h0M1368.3 208.1h0M1368.3 273h0M1369.7 207.1h0M1369.5 271.2h0M1370.6 209.9h0M1370.5 270.2h0M1371.1 211.5h0M1371.5 269.6h0M1372.3 213.5h0M1372.4 270.4h0M1373.7 214.6h0M1373.6 271.7h0M1373.8 273.4h0M1374.1 276.2h0M1374 213.5h0M1374.1 270.8h0M1375.8 211.5h0M1375.6 271.6h0M1376.6 211.9h0M1376.5 273.7h0M1376.6 277.9h0M1377.1 214.5h0M1377.1 272.8h0M1378.1 274.3h0M1378 276.3h0M1377.9 278.5h0M1378.4 217.5h0M1378.3 269.7h0M1379.2 217.3h0M1379.4 268.6h0M1379.8 199.8h0M1380.4 218.1h0M1380.4 269.7h0M1381.2 216.5h0M1381.5 268.8h0M1381.3 271.1h0M1382.2 216.2h0M1382.3 268.5h0M1383.9 216h0M1383.2 268.2h0M1384.7 217h0M1384.8 266.8h0M1385.1 218.5h0M1385.8 266h0M1386.2 219.3h0M1386.7 265.3h0M1386.5 274.4h0M1387.5 219.7h0M1387.3 265.8h0M1388.9 219.7h0M1388.6 269.8h0M1388.3 277.9h0M1389.5 219.5h0M1389.4 270h0M1390.6 217.4h0M1390.6 272.7h0M1390.8 206.2h0M1391.5 217.8h0M1391.7 275.7h0M1392.9 217.4h0M1392 278.6h0M1393.9 219.2h0M1393.1 283.3h0M1393.9 216.1h0M1393.3 213.9h0M1394.1 219.2h0M1395 285.5h0M1394.3 288.6h0M1394.5 291.2h0M1395.5 223.2h0M1395.4 294.9h0M1396 296.7h0M1396 299.6h0M1396 302.7h0M1395.9 305h0M1396.4 224.6h0M1396.5 302.6h0M1395.8 221.5h0M1396 218.4h0M1396.1 216.2h0M1397.5 225.4h0M1397.4 309.5h0M1398.4 227h0M1398.4 309.5h0M1398.4 313.1h0M1398 315.5h0M1399.8 228.4h0M1399.4 305.9h0M1400.8 225h0M1400.9 302.2h0M1401.1 304.5h0M1401.2 307.3h0M1401.2 310.4h0M1401.4 313.1h0M1401.6 224h0M1401.5 301.1h0M1402.7 223h0M1402.2 302.1h0M1403 219.8h0M1402.8 303.3h0M1402.4 306h0M1402.6 308.5h0M1402.4 310.8h0M1402.4 313.9h0M1403.2 223.4h0M1403.1 301.7h0M1404.6 223.4h0M1404.3 298.1h0M1404.3 214h0M1405.3 225.3h0M1405.8 297.9h0M1406.5 227.8h0M1406.7 297.7h0M1406.9 221.7h0M1407.1 231.2h0M1407 296.5h0M1407.2 223.2h0M1408.6 231.2h0M1408.8 296.1h0M1409 221.7h0M1409.8 232.4h0M1409.3 295.4h0M1410.7 232.9h0M1411 295h0M1411.9 237.7h0M1411.3 291.8h0M1412.7 238.3h0M1412.2 292.4h0M1413.9 231.9h0M1414 291.9h0M1414.4 228.5h0M1414.3 293.2h0M1415.1 224h0M1415.2 295.7h0M1416.7 226.8h0M1416.2 292.5h0M1416.9 224.3h0M1416.5 221.5h0M1417.3 228.7h0M1417.7 290.7h0M1418.3 232.5h0M1418.2 286.9h0M1418.8 290.5h0M1418.5 293.6h0M1419.1 296.3h0M1418.9 298.9h0M1418.5 301.5h0M1418.5 304.5h0M1418.4 306.6h0M1419.6 232.6h0M1419.4 285.3h0M1420.5 232h0M1421 286.6h0M1421.4 231.6h0M1421.7 286.9h0M1422 231.8h0M1422.1 289.1h0M1422.6 292.5h0M1423.9 231.4h0M1423.1 290h0M1423.7 300.8h0M1423.6 294.4h0M1423.3 292.6h0M1424.5 230.3h0M1424.6 287.3h0M1425.5 230.9h0M1425.7 285.4h0M1425.9 227.4h0M1425.6 286.7h0M1425.7 289.7h0M1425.8 291.8h0M1426.5 229.8h0M1426.8 281.2h0M1426.2 205.7h0M1427.3 229.6h0M1427.7 282.1h0M1427.8 285.3h0M1429 233.5h0M1428.5 281.8h0M1429.5 234.2h0M1429.3 281.4h0M1430.6 233.8h0M1430 282.3h0M1430.2 223.1h0M1431.3 232.5h0M1431.7 284.7h0M1432 232.7h0M1432.5 286.1h0M1433.6 231.9h0M1433.5 287.2h0M1433.5 230.1h0M1433.2 227.3h0M1434.8 230.3h0M1434.7 287.4h0M1434.2 290.4h0M1435.4 228.2h0M1435.8 286.9h0M1436 291.1h0M1436.1 228.9h0M1436.4 286.8h0M1437.8 228.1h0M1437.3 290.6h0M1438.3 231.2h0M1438.8 300.6h0M1439.8 234.1h0M1439.9 307h0M1441 235.9h0M1440.3 315h0M1440.4 225.5h0M1441.5 235.6h0M1441.5 320.7h0M1443 236.2h0M1442.4 328.9h0M1442.3 233h0M1443.3 237.4h0M1443 338.5h0M1443.6 339.7h0M1444.1 342.4h0M1443.8 345.5h0M1443.4 348.6h0M1445 238.7h0M1444.5 337.4h0M1444.9 233h0M1445.2 241.7h0M1445.8 335.8h0M1447 241.4h0M1446.7 332.4h0M1446.5 239.9h0M1447.2 334.9h0M1447 337.5h0M1447.3 339.7h0M1447.1 241.3h0M1447.8 327.6h0M1448.5 237.3h0M1448.6 323.5h0M1449.4 236.4h0M1449.5 321.4h0M1450.4 236.7h0M1450.6 316.4h0M1452 236.6h0M1451.1 308.8h0M1451.4 312.2h0M1452.5 237.9h0M1452.3 301.8h0M1452.9 233.1h0M1453.3 237.5h0M1453.4 293.6h0M1454.4 238.6h0M1454.3 292.4h0M1455.1 237.2h0M1455 295.5h0M1455.6 229.4h0M1456.6 236.2h0M1456.3 295.5h0M1457.3 233.7h0M1457 297.4h0M1458.5 231.9h0M1458.9 296.9h0M1459.8 231h0M1459.1 298.6h0M1460.8 231.6h0M1460.3 300.1h0M1461.9 229.9h0M1461.4 303.4h0M1462.4 231.2h0M1462.4 306.1h0M1462.7 227h0M263.4 83.5h0M263.4 90.2h0M263.4 97.1h0M276.3 90.2h0M276.3 107h0M273.3 110.7h0M265.9 103.3h0M232.5 141.2h0M234.2 149.1h0M231.2 155.3h0M252.3 143.6h0M251 152.8h0M203.5 166.4h0M197.1 172.6h0M189.7 175.1h0M196.6 178.8h0M197.1 183.7h0M202.8 191.1h0M203.5 194.8h0M188.7 195.3h0M211.9 186.2h0M221.3 173.8h0M218.9 180h0M239.2 161.9h0M284.4 138.7h0M305.5 149.1h0M294.3 151.5h0M300.5 155.3h0M331.4 117.4h0M331.4 132.2h0M329 138.7h0M335.2 146.6h0M312.4 188.2h0M138.5 323.5h0M204 337.1h0M200.3 319.3h0M203.5 309.9h0M203.5 314.8h0M218.9 311.1h0M244.4 319.3h0M244.4 312.9h0M248.6 306.2h0M248.6 298.8h0M287.6 264.1h0M294.3 260.4h0M295.6 267.3h0M289.4 271.5h0M289.4 276.5h0M275.3 221.3h0M280.7 253h0M283.2 248h0M316.6 321h0M319.1 318.6h0M344.6 326h0M344.6 319.8h0M186.7 291.3h0M164.9 292.6h0M176.3 283.9h0M231.2 290.1h0M225.1 300h0M399.5 86h0M399.5 95.9h0M408.9 97.1h0M411.9 98.4h0M408.9 104.5h0M411.9 110.7h0M389.6 126.8h0M426.7 122.4h0M373.5 156h0M445.3 173.3h0M463.3 168.9h0M486.6 167.1h0M497.7 172.6h0M497.7 179.3h0M542.5 191.1h0M588.8 186.7h0M353 193.6h0M390.8 229.5h0M404.9 222.1h0M405.7 215.9h0M421.8 244.3h0M421.8 251h0M435.4 270.3h0M436.1 272.8h0M452.7 296.3h0M450.2 291.3h0M474.5 264.1h0M508.4 332.2h0M508.4 343.3h0M506.4 319.3h0M506.4 312.4h0M520.2 248h0M520.7 240.6h0M555.4 301.2h0M555.4 288.9h0M560.3 292.6h0M583.8 284.4h0M578.1 275.3h0M569.7 269.8h0M536.8 340.8h0M536.8 344.5h0M531.9 335.1h0M371 283.4h0M361.9 322.8h0M594.5 163.7h0M604.4 174.8h0M627.6 176.1h0M612.3 183.5h0M618.5 189.7h0M634.5 195.4h0M671.6 122.1h0M671.6 129.1h0M697.1 107.3h0M697.1 114.2h0M703.8 120.4h0M720.4 150.1h0M759.5 64h0M765.7 65.2h0M766.2 72.2h0M766.2 78.4h0M811.4 108.5h0M809 114.2h0M809 120.4h0M801.5 125.4h0M793.4 130.3h0M780 138.5h0M784.2 141.4h0M793.4 143.9h0M828.8 133.5h0M825.5 139.5h0M675.4 207h0M675.4 214.4h0M674.1 198.4h0M692.7 189.7h0M721.1 244.1h0M721.1 252.8h0M727.3 237.9h0M769.4 237.9h0M769.4 259h0M769.4 273.1h0M779.8 230.5h0M779.8 235.5h0M779.8 240.9h0M600.4 266.4h0M629.6 276.3h0M632.6 266.4h0M632.6 273.8h0M754.5 213.2h0M856.5 76.6h0M853.5 84h0M851 90.7h0M857.2 93.9h0M889.4 95.4h0M912.4 60.3h0M912.4 67.2h0M912.4 82.6h0M912.4 87h0M905.5 111.8h0M920.3 111.8h0M920.3 119.2h0M843.6 127.3h0M831.2 133.5h0M941.3 132h0M948.3 135.3h0M955.7 132.8h0M955.7 146.9h0M994.5 140.2h0M994.5 145.2h0M972.8 148.9h0M1032.4 148.9h0M1020.5 152.6h0M1006.2 155.8h0M1000.7 158.8h0M985.9 153.8h0M988.4 161.2h0M990.8 168.7h0M958.7 168.7h0M953.7 156.3h0M869.6 142.7h0M880.7 127.8h0M870.3 231.8h0M870.3 237.9h0M882.5 250.3h0M882.5 278.8h0M882.5 307.2h0M882.5 319.6h0M882.5 320.8h0M833 228h0M891.4 216.9h0M956.2 239.2h0M1004.4 257.7h0M1007.4 266.4h0M1007.4 271.3h0M1007.4 275.5h0M1040.3 223.1h0M1040.3 230h0M1033.4 220.1h0M1061.3 237.9h0M1011.9 245.4h0M1015.6 228h0M1168.5 127.2h0M1168.5 142.6h0M1168.5 150.7h0M1175.2 155.7h0M1193.2 147.5h0M1215.5 149.5h0M1090.3 154.4h0M1090.3 159.4h0M1090.3 164.3h0M1073 167.3h0M1126.4 189.1h0M1153.4 181.2h0M1145.5 184.1h0M1231.6 177.4h0M1268.4 174.7h0M1260.5 190.3h0M1303.3 202.2h0M1175.2 171.8h0M1126.4 275.7h0M1126.4 270.7h0M1129.4 270.7h0M1078.7 250.9h0M1078.7 255.9h0M1086.6 248.5h0M1086.6 254.6h0M1107.1 245.2h0M1161.5 254.6h0M1151.6 262.1h0M1207.3 239.8h0M1183.8 232.4h0M1183.8 241h0M1183.8 254.6h0M1185.1 289.3h0M1180.1 301.6h0M1180.1 305.4h0M1225.4 273.2h0M1225.4 275.7h0M1263.7 269.5h0M1282.8 283.6h0M1277.8 276.9h0M1276.6 270.7h0M1291.4 268.2h0M1310 283.1h0M1225.9 268.2h0M1433.3 155.8h0M1433.3 160.1h0M1433.3 188.5h0M1354.5 182.6h0M1369.3 183.3h0M1369.3 187.3h0M1351.3 191.6h0M1354.5 196.4h0M1369.3 196.9h0M1369.3 201.2h0M1334.6 197.1h0M1341.8 197.6h0M1303.6 202.4h0M1374.5 206h0M1389.6 207.6h0M1354.5 202.4h0M1446.2 227.5h0M1320.3 290h0M1326.3 287.2h0M1367.6 296.3h0M1357.3 297.9h0M1358.5 303.4h0M1337.5 303.9h0M1358.5 337.3h0M1358.5 352.1h0M1358.5 363.6h0M1399.4 340.2h0M1399.4 355.2h0M1399.4 360h0M1399.4 364.8h0M1375.9 283.6h0M1414.6 299.1h0M1437.3 301.5h0M1443.3 344.5h0M1443.3 338.5h0M1015.5 310.3h0M1015.5 349.6h0M1015.5 371.6h0M1015.5 395.5h0M1015.5 428.5h0M1015.5 448.6h0M1015.5 484.8h0M1015.5 487.9h0M1015.5 496.5h0M1184.9 288.2h0M1180.2 300.5h0M1180.2 304.6h0M1181.2 339.4h0M1185.3 342.5h0M1180.2 349h0M1180.2 363.6h0M1181.6 369.1h0M1184.3 384.5h0M1180.8 386.5h0M1180.2 402.5h0M1184.9 401.3h0M1185.3 408.6h0M1180.2 410.1h0M1180.2 416.2h0M1180.2 423.4h0M1182.4 457.2h0M1182.4 461.3h0M1180.2 432.6h0M1183.3 433.6h0M1185.3 435.7h0M1179.6 437.7h0M1186.3 439.8h0M1181.2 441.8h0M1184.3 443.9h0M1180.2 445.9h0M1185.3 446.9h0M1182.9 449h0M1179.2 440.8h0M1186.9 443.9h0" stroke="#1f77b4" stroke-width="5.3" stroke-linecap="round" fill="none"/>
<path d="M116.5 227L117.5 227.8L118.5 227.2L119.5 225.7L120.5 224.2L121.5 228.5L122.5 232.8L123.5 239.2L124.5 247.1L125.5 251.9L126.5 257.3L127.5 263.3L128.5 261L129.5 251.3L130.5 245L131.5 244.2L132.5 246.5L133.5 253.6L134.5 259.8L135.5 262.8L136.5 265.2L137.5 269L138.5 263.8L139.5 256.6L140.5 259.5L141.5 254.3L142.5 248.7L143.5 248.2L144.5 243.1L145.5 239L146.5 248.1L147.5 261L148.5 264.1L149.5 258.9L150.5 250.6L151.5 251.5L152.5 257.8L153.5 256.4L154.5 244.3L155.5 230.9L156.5 227L157.5 231L158.5 229L159.5 233.6L160.5 245.1L161.5 250.9L162.5 244.5L163.5 242.4L164.5 247.9L165.5 255.3L166.5 261.2L167.5 255.6L168.5 241.4L169.5 233.6L170.5 236.3L171.5 238L172.5 238.6L173.5 234L174.5 233.1L175.5 233.6L176.5 239.4L177.5 245.6L178.5 241.1L179.5 234.8L180.5 230.1L181.5 222.6L182.5 223.5L183.5 232.8L184.5 245.1L185.5 248.2L186.5 249L187.5 244.4L188.5 233.9L189.5 223.9L190.5 219.2L191.5 223.2L192.5 224.4L193.5 223L194.5 220.6L195.5 213.1L196.5 210.6L197.5 213.3L198.5 220.2L199.5 234.6L200.5 244.9L201.5 242.3L202.5 235L203.5 240.2L204.5 251.3L205.5 250.6L206.5 248.1L207.5 246L208.5 229.8L209.5 211.4L210.5 208.3L211.5 214.7L212.5 227.6L213.5 226.7L214.5 229.3L215.5 232.8L216.5 236.7L217.5 237.2L218.5 234.9L219.5 228.6L220.5 223.7L221.5 223.3L222.5 223.6L223.5 226.4L224.5 231.2L225.5 232.8L226.5 232.7L227.5 232.3L228.5 231.5L229.5 217.2L230.5 209L231.5 212L232.5 213.7L233.5 219L234.5 225L235.5 223.9L236.5 224.8L237.5 228L238.5 224.2L239.5 214.7L240.5 208.5L241.5 207.6L242.5 207.6L243.5 212.6L244.5 223.4L245.5 238.9L246.5 242.4L247.5 228.1L248.5 214.2L249.5 202.3L250.5 197.1L251.5 202.8L252.5 209.4L253.5 208.3L254.5 199.7L255.5 182.6L256.5 171.8L257.5 182.3L258.5 188.3L259.5 182.4L260.5 175.7L261.5 176L262.5 175.6L263.5 166.3L264.5 160.6L265.5 154.8L266.5 149.7L267.5 145.4L268.5 142.2L269.5 143.1L270.5 148.4L271.5 147.2L272.5 143.3L273.5 144.6L274.5 152.7L275.5 164.1L276.5 170.1L277.5 172.6L278.5 174.3L279.5 184.2L280.5 199.8L281.5 201.6L282.5 206L283.5 217.3L284.5 219L285.5 209.4L286.5 202.7L287.5 200.7L288.5 204.4L289.5 208.4L290.5 200.1L291.5 191.7L292.5 184.7L293.5 187.9L294.5 198.2L295.5 202.9L296.5 199.8L297.5 194.2L298.5 190L299.5 190.8L300.5 197.7L301.5 214.9L302.5 225.1L303.5 224.4L304.5 220.9L305.5 223.8L306.5 230.3L307.5 230.2L308.5 232L309.5 245.8L310.5 249.7L311.5 246L312.5 245.5L313.5 253.1L314.5 262.5L315.5 263.5L316.5 265.7L317.5 274L318.5 277.9L319.5 268.9L320.5 255.3L321.5 244.2L322.5 242.2L323.5 234.3L324.5 219.9L325.5 209.4L326.5 195.3L327.5 178.5L328.5 177.4L329.5 189L330.5 195.5L331.5 195.4L332.5 190.7L333.5 193.7L334.5 204.3L335.5 207.6L336.5 208.6L337.5 220.7L338.5 231.6L339.5 244.1L340.5 253.2L341.5 258.6L342.5 262.3L343.5 257.8L344.5 248.1L345.5 249.4L346.5 258.1L347.5 251.1L348.5 232.9L349.5 231L350.5 251.1L351.5 266.5L352.5 262.2L353.5 252.6L354.5 242.1L355.5 230.5L356.5 241.7L357.5 261.3L358.5 260.7L359.5 253.6L360.5 266.1L361.5 276.2L362.5 275.9L363.5 270.5L364.5 257.3L365.5 247.9L366.5 246.8L367.5 240.9L368.5 227L369.5 217.1L370.5 209.7L371.5 204.5L372.5 194.7L373.5 193.5L374.5 207L375.5 208.1L376.5 194.6L377.5 181.9L378.5 169.9L379.5 163L380.5 166L381.5 171.4L382.5 172.5L383.5 178.2L384.5 181L385.5 180.6L386.5 179.8L387.5 187.4L388.5 198.2L389.5 198L390.5 182.9L391.5 168.9L392.5 165.7L393.5 169.8L394.5 165.7L395.5 152.7L396.5 151.2L397.5 149L398.5 140.4L399.5 135.4L400.5 144.9L401.5 141.6L402.5 133.1L403.5 138.7L404.5 154.8L405.5 165.4L406.5 170.7L407.5 169.5L408.5 163.5L409.5 156.4L410.5 150.4L411.5 150L412.5 144.9L413.5 155.6L414.5 169.9L415.5 172L416.5 180.4L417.5 198.9L418.5 203.4L419.5 195.7L420.5 190.7L421.5 191.4L422.5 187.2L423.5 180.6L424.5 175.4L425.5 171.6L426.5 167L427.5 161.5L428.5 166.8L429.5 174.9L430.5 174.3L431.5 178.6L432.5 194.2L433.5 204.1L434.5 208.1L435.5 216.9L436.5 233L437.5 233.3L438.5 225.1L439.5 221.5L440.5 220.3L441.5 220.7L442.5 215.8L443.5 215.3L444.5 225.8L445.5 236.3L446.5 242.1L447.5 246L448.5 251.5L449.5 253.6L450.5 254.7L451.5 253.1L452.5 250.6L453.5 244.1L454.5 240L455.5 235L456.5 224.8L457.5 226L458.5 231L459.5 221.2L460.5 216.7L461.5 219.6L462.5 217.3L463.5 212.6L464.5 209.6L465.5 208.4L466.5 212.3L467.5 217.4L468.5 217.6L469.5 216.8L470.5 218.4L471.5 220.1L472.5 220.4L473.5 219.1L474.5 216.8L475.5 216.3L476.5 215.1L477.5 221L478.5 225.9L479.5 224.6L480.5 217.5L481.5 206.1L482.5 200.5L483.5 195.6L484.5 189.8L485.5 188.6L486.5 195.9L487.5 208.3L488.5 217.5L489.5 224.1L490.5 227.7L491.5 226.8L492.5 225.1L493.5 231.3L494.5 241.9L495.5 247.3L496.5 240.7L497.5 233.1L498.5 234.4L499.5 238.8L500.5 238.2L501.5 234.1L502.5 235.1L503.5 238.6L504.5 238.3L505.5 242.9L506.5 247.5L507.5 246.8L508.5 242.3L509.5 241.9L510.5 238.6L511.5 226L512.5 214.8L513.5 204.7L514.5 202.8L515.5 209.5L516.5 209.1L517.5 198.3L518.5 194.6L519.5 195.1L520.5 185.7L521.5 175.5L522.5 178.9L523.5 179.4L524.5 174.6L525.5 178.5L526.5 190.5L527.5 197.6L528.5 198.5L529.5 206.5L530.5 213.1L531.5 220L532.5 230L533.5 243.8L534.5 261.3L535.5 279.1L536.5 278L537.5 280.8L538.5 285L539.5 267.2L540.5 243.1L541.5 241L542.5 240.4L543.5 236.4L544.5 233.4L545.5 237L546.5 240.8L547.5 243L548.5 238.7L549.5 229.2L550.5 226.5L551.5 224L552.5 223.6L553.5 225.8L554.5 225.3L555.5 225.5L556.5 229.2L557.5 231.5L558.5 236.1L559.5 236.7L560.5 231L561.5 229.4L562.5 236.3L563.5 240.8L564.5 237.1L565.5 229.1L566.5 225.2L567.5 226.7L568.5 228.7L569.5 230.9L570.5 230.2L571.5 228.2L572.5 226.2L573.5 227.2L574.5 224.7L575.5 221.9L576.5 220.5L577.5 223.4L578.5 228.4L579.5 230.8L580.5 230.4L581.5 228.5L582.5 233.3L583.5 236.7L584.5 233.2L585.5 228.4L586.5 225L587.5 223.8L588.5 226.7L589.5 230.2L590.5 223.2L591.5 208.9L592.5 196.3L593.5 191.3L594.5 205.7L595.5 213.2L596.5 219.2L597.5 227.5L598.5 229.3L599.5 231.2L600.5 236.7L601.5 236.4L602.5 222.1L603.5 211.8L604.5 216.2L605.5 220.2L606.5 221.9L607.5 224.2L608.5 222.7L609.5 222.3L610.5 226.9L611.5 232.8L612.5 236.9L613.5 236.5L614.5 233.7L615.5 225.7L616.5 222.3L617.5 219.7L618.5 215.2L619.5 214.1L620.5 216.5L621.5 216.9L622.5 214.3L623.5 212.2L624.5 209.8L625.5 207L626.5 209.8L627.5 216.3L628.5 221L629.5 218.6L630.5 220.8L631.5 226.6L632.5 229.5L633.5 232.5L634.5 236L635.5 236.6L636.5 237.3L637.5 236.6L638.5 233.7L639.5 230.1L640.5 227.8L641.5 230.4L642.5 228L643.5 221.5L644.5 217.7L645.5 213L646.5 211.2L647.5 209.7L648.5 206.4L649.5 203.7L650.5 202L651.5 198.5L652.5 194.1L653.5 187.7L654.5 182.4L655.5 182.1L656.5 175.5L657.5 169.1L658.5 169L659.5 166.3L660.5 160.2L661.5 164L662.5 172.6L663.5 180.7L664.5 181.7L665.5 174.4L666.5 166.8L667.5 159L668.5 153.6L669.5 154.1L670.5 152.7L671.5 149.3L672.5 155.6L673.5 164.8L674.5 170.5L675.5 171.1L676.5 168.7L677.5 169.5L678.5 172.7L679.5 174.8L680.5 171.2L681.5 167.4L682.5 167.2L683.5 167.3L684.5 162.8L685.5 153.8L686.5 146.6L687.5 150.7L688.5 153.1L689.5 151.3L690.5 152.8L691.5 156.3L692.5 159.7L693.5 162.5L694.5 161.2L695.5 158.6L696.5 158.1L697.5 154.8L698.5 153.9L699.5 153.9L700.5 155.3L701.5 158.5L702.5 154.1L703.5 149.9L704.5 146.6L705.5 144.9L706.5 149.7L707.5 156.6L708.5 162.4L709.5 170L710.5 181.7L711.5 193.9L712.5 197.5L713.5 183.9L714.5 175.2L715.5 172.6L716.5 170L717.5 168L718.5 169L719.5 174.7L720.5 188.9L721.5 205.4L722.5 209.9L723.5 204.2L724.5 199.4L725.5 197.2L726.5 199.9L727.5 206.3L728.5 204.8L729.5 200.9L730.5 198.4L731.5 196.7L732.5 196.5L733.5 194.8L734.5 194L735.5 188.9L736.5 183.3L737.5 176.3L738.5 166.9L739.5 169L740.5 174.1L741.5 177.5L742.5 175.9L743.5 165.3L744.5 157.1L745.5 154.7L746.5 154.5L747.5 155.1L748.5 160.2L749.5 162.9L750.5 160.2L751.5 154.6L752.5 151.3L753.5 154.3L754.5 147.5L755.5 144.5L756.5 144.4L757.5 135.9L758.5 120.1L759.5 103.9L760.5 128.3L761.5 161.5L762.5 192.1L763.5 199.5L764.5 182.8L765.5 162.8L766.5 145.9L767.5 152.8L768.5 161.8L769.5 172.6L770.5 178.2L771.5 180.8L772.5 178.8L773.5 179.5L774.5 179.7L775.5 178.7L776.5 180.5L777.5 184.5L778.5 188.8L779.5 183.9L780.5 181.2L781.5 183.2L782.5 188.2L783.5 190.6L784.5 187.8L785.5 188L786.5 194L787.5 193.2L788.5 187.6L789.5 183.5L790.5 182.2L791.5 185.5L792.5 186.9L793.5 179.2L794.5 174.2L795.5 174.2L796.5 176.7L797.5 182.9L798.5 180.8L799.5 181.1L800.5 188.5L801.5 192.8L802.5 185.8L803.5 173.9L804.5 173L805.5 176.3L806.5 169.7L807.5 168.1L808.5 169.8L809.5 176.8L810.5 174.8L811.5 165.7L812.5 170.7L813.5 174L814.5 169.7L815.5 166.9L816.5 168.2L817.5 174.8L818.5 183.7L819.5 190.9L820.5 192L821.5 187.2L822.5 186.3L823.5 180.9L824.5 169.7L825.5 168.6L826.5 176.6L827.5 176.6L828.5 173.3L829.5 171.8L830.5 173.4L831.5 179L832.5 184.3L833.5 188.9L834.5 190L835.5 187.8L836.5 184L837.5 176.2L838.5 170.5L839.5 171.7L840.5 171.5L841.5 168.5L842.5 171.3L843.5 179.9L844.5 185.4L845.5 192.9L846.5 194.2L847.5 190.8L848.5 193.9L849.5 191.6L850.5 177.8L851.5 166.3L852.5 161.2L853.5 160.4L854.5 164.4L855.5 159.7L856.5 161.4L857.5 167.6L858.5 176.5L859.5 179.7L860.5 173.2L861.5 172.5L862.5 181.1L863.5 191.2L864.5 201.8L865.5 197.1L866.5 191.4L867.5 189.4L868.5 186.8L869.5 189.5L870.5 195.3L871.5 201.2L872.5 204.4L873.5 206.8L874.5 201.5L875.5 195.5L876.5 193.1L877.5 188.3L878.5 191.8L879.5 197.5L880.5 202.9L881.5 201.1L882.5 207.5L883.5 197.2L884.5 184.1L885.5 162.3L886.5 161.8L887.5 161.2L888.5 158.9L889.5 163.3L890.5 170.2L891.5 165.3L892.5 170.7L893.5 182.2L894.5 177.4L895.5 165L896.5 158.3L897.5 162.7L898.5 171.7L899.5 178.9L900.5 187.7L901.5 187.5L902.5 183.6L903.5 182.1L904.5 183.2L905.5 181.2L906.5 176.8L907.5 175.4L908.5 175.2L909.5 173.5L910.5 172L911.5 164.9L912.5 169L913.5 186.5L914.5 205.3L915.5 205.5L916.5 183.8L917.5 174.1L918.5 166.2L919.5 164.9L920.5 175L921.5 184.5L922.5 194L923.5 194.4L924.5 188.3L925.5 176.8L926.5 167L927.5 159.1L928.5 155.1L929.5 152.5L930.5 143.8L931.5 140.3L932.5 155.6L933.5 168L934.5 177.4L935.5 185.1L936.5 187.2L937.5 190.7L938.5 193.1L939.5 189.9L940.5 191.8L941.5 194.2L942.5 189.7L943.5 192.6L944.5 199.7L945.5 201.2L946.5 197.8L947.5 190.6L948.5 192.9L949.5 197.6L950.5 202.3L951.5 204.9L952.5 201.4L953.5 194L954.5 191.7L955.5 204.6L956.5 212.6L957.5 207.7L958.5 204L959.5 206.4L960.5 207.6L961.5 206.1L962.5 202.1L963.5 192.7L964.5 188.9L965.5 192.4L966.5 193.9L967.5 189.5L968.5 184.5L969.5 179.3L970.5 174.9L971.5 174L972.5 176.9L973.5 185.2L974.5 192.6L975.5 195.4L976.5 193.7L977.5 192.3L978.5 192L979.5 195L980.5 204.2L981.5 206.5L982.5 198.9L983.5 197.7L984.5 200.9L985.5 202L986.5 200.8L987.5 196.6L988.5 193.5L989.5 190.8L990.5 189.6L991.5 190.5L992.5 196.2L993.5 198.1L994.5 196.4L995.5 197.9L996.5 201.2L997.5 202.2L998.5 204.4L999.5 206.4L1000.5 205.3L1001.5 203.7L1002.5 200.5L1003.5 203.9L1004.5 210.5L1005.5 216.9L1006.5 217.8L1007.5 219.4L1008.5 215.2L1009.5 205L1010.5 199.1L1011.5 196.6L1012.5 201.2L1013.5 206.4L1014.5 214.5L1015.5 223.9L1016.5 220L1017.5 212.1L1018.5 201.2L1019.5 188.5L1020.5 188.5L1021.5 193.2L1022.5 195.8L1023.5 193.9L1024.5 190.8L1025.5 189.3L1026.5 189.6L1027.5 191.9L1028.5 192.4L1029.5 197.2L1030.5 202.2L1031.5 200.8L1032.5 197.8L1033.5 199L1034.5 200.9L1035.5 204.3L1036.5 208.5L1037.5 206.1L1038.5 197.6L1039.5 194.4L1040.5 195.7L1041.5 190.8L1042.5 180.9L1043.5 174.4L1044.5 174.1L1045.5 176L1046.5 176.8L1047.5 174.5L1048.5 174.6L1049.5 173.1L1050.5 168.3L1051.5 173.2L1052.5 181.5L1053.5 181.3L1054.5 182.2L1055.5 183.9L1056.5 181.4L1057.5 181.1L1058.5 183.4L1059.5 189.8L1060.5 192.5L1061.5 192.3L1062.5 196.3L1063.5 209L1064.5 212.4L1065.5 209.1L1066.5 205.5L1067.5 198.4L1068.5 195.3L1069.5 196.5L1070.5 200.6L1071.5 195.1L1072.5 195.5L1073.5 205.4L1074.5 215.6L1075.5 220.4L1076.5 221.5L1077.5 224.6L1078.5 223.5L1079.5 217.2L1080.5 214.8L1081.5 213.4L1082.5 207.9L1083.5 207.5L1084.5 211.3L1085.5 208.1L1086.5 202.1L1087.5 202.9L1088.5 204.8L1089.5 207.6L1090.5 211.2L1091.5 214.2L1092.5 217.2L1093.5 218L1094.5 216.3L1095.5 212.2L1096.5 207.7L1097.5 205.3L1098.5 203.9L1099.5 201.4L1100.5 199.1L1101.5 199.2L1102.5 199.8L1103.5 196.6L1104.5 197.1L1105.5 199.1L1106.5 199.8L1107.5 199.7L1108.5 202.6L1109.5 206.1L1110.5 205.3L1111.5 206.5L1112.5 209.2L1113.5 208.2L1114.5 209.9L1115.5 209.9L1116.5 206.8L1117.5 209.1L1118.5 215.7L1119.5 223.1L1120.5 224.1L1121.5 218.2L1122.5 210.5L1123.5 206.7L1124.5 207L1125.5 205.4L1126.5 206.9L1127.5 209.3L1128.5 211.7L1129.5 213L1130.5 219.3L1131.5 226.3L1132.5 235.3L1133.5 244.3L1134.5 249.1L1135.5 252.1L1136.5 248.8L1137.5 236.6L1138.5 228.6L1139.5 228.2L1140.5 224.6L1141.5 217.2L1142.5 212.3L1143.5 204.4L1144.5 198.8L1145.5 201.2L1146.5 201.6L1147.5 206.3L1148.5 213.5L1149.5 218.9L1150.5 224.6L1151.5 225.7L1152.5 218.5L1153.5 219.2L1154.5 218.7L1155.5 213.1L1156.5 214.2L1157.5 214L1158.5 218.2L1159.5 229L1160.5 225.8L1161.5 213L1162.5 206.6L1163.5 213.7L1164.5 216.7L1165.5 214.9L1166.5 215.8L1167.5 210.7L1168.5 206.7L1169.5 204.8L1170.5 203.4L1171.5 205.7L1172.5 205.8L1173.5 205.6L1174.5 212L1175.5 223.4L1176.5 233L1177.5 238.1L1178.5 234L1179.5 229.5L1179.6 228.9L1181.8 448L1181.8 448L1182.1 428L1182.5 448L1182.8 428L1183.2 448L1183.5 428L1183.9 448L1184.2 448L1184.2 448L1186.2 209.1L1186.5 208.6L1187.5 204.7L1188.5 199.4L1189.5 196.6L1190.5 194.3L1191.5 194.6L1192.5 194L1193.5 189.2L1194.5 187.3L1195.5 191.3L1196.5 196L1197.5 199.3L1198.5 199.5L1199.5 198.4L1200.5 201L1201.5 207.6L1202.5 210.4L1203.5 210.1L1204.5 212L1205.5 216.7L1206.5 217.7L1207.5 217.4L1208.5 218.4L1209.5 211.1L1210.5 204L1211.5 196.6L1212.5 189.7L1213.5 185.6L1214.5 183.1L1215.5 185.2L1216.5 188.4L1217.5 189.5L1218.5 194.1L1219.5 203L1220.5 215.6L1221.5 225.4L1222.5 233L1223.5 238L1224.5 238.6L1225.5 237.1L1226.5 238.5L1227.5 240.2L1228.5 234.7L1229.5 230.9L1230.5 229.6L1231.5 229.8L1232.5 233.9L1233.5 234.1L1234.5 225L1235.5 215.3L1236.5 209.4L1237.5 209.3L1238.5 212.4L1239.5 212.9L1240.5 210.9L1241.5 207.1L1242.5 201.9L1243.5 201.8L1244.5 208L1245.5 211.4L1246.5 214.6L1247.5 216.8L1248.5 219.2L1249.5 219.8L1250.5 217.3L1251.5 216.2L1252.5 217.1L1253.5 217.8L1254.5 212L1255.5 203.9L1256.5 208.6L1257.5 218.4L1258.5 224.7L1259.5 225.8L1260.5 225.4L1261.5 225.5L1262.5 228.1L1263.5 233L1264.5 237.5L1265.5 228.5L1266.5 217.7L1267.5 211.9L1268.5 210.4L1269.5 206.5L1270.5 204.9L1271.5 205.6L1272.5 206.5L1273.5 211.2L1274.5 219L1275.5 229L1276.5 236.7L1277.5 240.6L1278.5 242.5L1279.5 242.4L1280.5 235.3L1281.5 232.8L1282.5 234.9L1283.5 237.1L1284.5 239L1285.5 240.4L1286.5 237.2L1287.5 231.8L1288.5 228.5L1289.5 227L1290.5 226.5L1291.5 223.9L1292.5 220.8L1293.5 218L1294.5 222.4L1295.5 233.1L1296.5 232.4L1297.5 227.3L1298.5 229.4L1299.5 229L1300.5 228.5L1301.5 235.8L1302.5 238.9L1303.5 239.4L1304.5 236.1L1305.5 236.1L1306.5 237.9L1307.5 241.6L1308.5 242.5L1309.5 239.3L1310.5 238.7L1311.5 237.1L1312.5 230.7L1313.5 233L1314.5 243.9L1315.5 249.3L1316.5 250.8L1317.5 249.3L1318.5 247.3L1319.5 246L1320.5 242.8L1321.5 238.1L1322.5 234.2L1323.5 231.6L1324.5 234.3L1325.5 238.6L1326.5 239.4L1327.5 236.6L1328.5 238.9L1329.5 241.4L1330.5 236.8L1331.5 230.6L1332.5 234.8L1333.5 237.9L1334.5 242.5L1335.5 247.4L1336.5 256.6L1337.5 263.1L1338.5 255.8L1339.5 246.5L1340.5 239.4L1341.5 236.5L1342.5 228.5L1343.5 224.6L1344.5 228.5L1345.5 235.9L1346.5 240L1347.5 243.3L1348.5 242.6L1349.5 237.8L1350.5 235.5L1351.5 241.9L1352.5 245L1353.5 236.3L1354.5 230L1355.5 238.5L1356.5 252.5L1357.5 258.5L1358.5 262.8L1359.5 256.1L1360.5 251.8L1361.5 248.3L1362.5 249.6L1363.5 252.7L1364.5 248.9L1365.5 241.9L1366.5 237.1L1367.5 236.5L1368.5 242.8L1369.5 247.4L1370.5 243.1L1371.5 237.5L1372.5 234.1L1373.5 235L1374.5 239.2L1375.5 244.9L1376.5 251.4L1377.5 252.9L1378.5 254.4L1379.5 253.1L1380.5 252.9L1381.5 254.8L1382.5 254.7L1383.5 251.2L1384.5 248.3L1385.5 248.7L1386.5 245.8L1387.5 243L1388.5 244.9L1389.5 246.3L1390.5 249.5L1391.5 255L1392.5 257.9L1393.5 255.7L1394.5 258.7L1395.5 268.9L1396.5 279.8L1397.5 285.2L1398.5 281.4L1399.5 268.2L1400.5 248.7L1401.5 232L1402.5 233.6L1403.5 242.2L1404.5 254.2L1405.5 261.7L1406.5 265.4L1407.5 266.2L1408.5 267.5L1409.5 265.2L1410.5 259.4L1411.5 253.6L1412.5 250.6L1413.5 249.8L1414.5 246.9L1415.5 238.5L1416.5 235.3L1417.5 235.2L1418.5 240.8L1419.5 247.1L1420.5 251.4L1421.5 257.4L1422.5 262.2L1423.5 262.7L1424.5 257.5L1425.5 254.1L1426.5 256.7L1427.5 260.5L1428.5 260.7L1429.5 261L1430.5 259.7L1431.5 260L1432.5 261.6L1433.5 257.6L1434.5 253.5L1435.5 254.1L1436.5 252.8L1437.5 251.4L1438.5 254.5L1439.5 255.8L1440.5 271.8L1441.5 290.5L1442.5 294L1443.5 296.7L1444.5 312.3L1445.5 322.3L1446.5 312.5L1447.5 295.4L1448.5 285.7L1449.5 281.8L1450.5 278.7L1451.5 277.7L1452.5 267.7L1453.5 257.2L1454.5 258.3L1455.5 265.4L1456.5 269.7L1457.5 264.2L1458.5 261.5L1459.5 266.8L1460.5 270.7L1461.5 272.8L1462.5 281.2" stroke="#ff7f0e" stroke-width="2" stroke-linejoin="round" fill="none"/>
</g>
<path d="M116.5 518.3v5.4M284.5 518.3v5.4M452.5 518.3v5.4M621.5 518.3v5.4M789.5 518.3v5.4M957.5 518.3v5.4M1125.5 518.3v5.4M1293.5 518.3v5.4M116.5 104.5h-5.4M116.5 203.5h-5.4M116.5 302.5h-5.4M116.5 401.5h-5.4M116.5 500.5h-5.4" stroke="#000" stroke-width="1.1" fill="none"/>
<rect x="116.5" y="38.3" width="1346.0" height="479.99999999999994" fill="none" stroke="#000" stroke-width="1.1"/>
<text x="105.9" y="111.6" font-size="22.0" text-anchor="end">1</text>
<text x="105.9" y="210.7" font-size="22.0" text-anchor="end">0</text>
<text x="105.9" y="309.7" font-size="22.0" text-anchor="end">−1</text>
<text x="105.9" y="408.7" font-size="22.0" text-anchor="end">−2</text>
<text x="105.9" y="507.8" font-size="22.0" text-anchor="end">−3</text>
<rect x="139.2" y="575.3" width="497.8" height="479.10000000000014" fill="#d3d3d3" fill-opacity="0.5" stroke="#d3d3d3" stroke-opacity="0.5" stroke-width="1.3"/>
<path d="M284.5 575.3V1054.4M452.5 575.3V1054.4M621.5 575.3V1054.4M789.5 575.3V1054.4M957.5 575.3V1054.4M1125.5 575.3V1054.4M1293.5 575.3V1054.4M116.5 625.5H1462.5M116.5 683.5H1462.5M116.5 741.5H1462.5M116.5 799.5H1462.5M116.5 858.5H1462.5M116.5 916.5H1462.5M116.5 974.5H1462.5M116.5 1032.5H1462.5" stroke="#b0b0b0" stroke-width="1" stroke-dasharray="1.07 1.9" fill="none"/>
<g clip-path="url(#cb)">
<path d="M116.5 993.1L117.5 992.8L118.5 988.8L119.5 985.6L120.5 983.5L121.5 981.6L122.5 979.4L123.5 978.5L124.5 978.2L125.5 977L126.5 974.1L127.5 972.1L128.5 977L129.5 982.5L130.5 986.8L131.5 988.4L132.5 988.2L133.5 988.6L134.5 989.6L135.5 990L136.5 990.5L137.5 990.8L138.5 990.7L139.5 990.4L140.5 990.6L141.5 990.5L142.5 989.8L143.5 989.5L144.5 989.8L145.5 986.8L146.5 983.5L147.5 980.6L148.5 977.3L149.5 973.3L150.5 971.6L151.5 970.1L152.5 969.2L153.5 969.4L154.5 972.1L155.5 975L156.5 977.2L157.5 976.4L158.5 973.1L159.5 970.3L160.5 968.4L161.5 968.4L162.5 968.7L163.5 969.1L164.5 970.3L165.5 970.3L166.5 969.7L167.5 968.2L168.5 966.5L169.5 965.3L170.5 965.1L171.5 966.2L172.5 968.3L173.5 969.9L174.5 970.2L175.5 969L176.5 965L177.5 960.6L178.5 956.8L179.5 954.4L180.5 953.9L181.5 953L182.5 952L183.5 950.8L184.5 949.3L185.5 947.6L186.5 946L187.5 943L188.5 939.4L189.5 935.4L190.5 931.6L191.5 933L192.5 935.1L193.5 938.4L194.5 940.6L195.5 939.3L196.5 937.3L197.5 935.6L198.5 937.4L199.5 940.6L200.5 944.1L201.5 947.8L202.5 947L203.5 946.1L204.5 945.5L205.5 945.8L206.5 948.5L207.5 950.2L208.5 950.4L209.5 951.7L210.5 955.8L211.5 961.4L212.5 967.5L213.5 968.5L214.5 967.6L215.5 966.4L216.5 965L217.5 959.5L218.5 954.5L219.5 949.9L220.5 945.9L221.5 942L222.5 936.8L223.5 931.5L224.5 932.2L225.5 935.3L226.5 938.2L227.5 941L228.5 945.5L229.5 949.6L230.5 954.3L231.5 958.6L232.5 959.5L233.5 960.3L234.5 960.5L235.5 956.9L236.5 949.8L237.5 941.7L238.5 933.5L239.5 933.4L240.5 935.3L241.5 938.2L242.5 941.8L243.5 943.5L244.5 944.9L245.5 946.4L246.5 945.5L247.5 941L248.5 936.2L249.5 931.5L250.5 923.9L251.5 914.8L252.5 904.7L253.5 893.9L254.5 877.3L255.5 861.5L256.5 850.7L257.5 844.1L258.5 837.9L259.5 843.7L260.5 848.8L261.5 854.5L262.5 859.6L263.5 861.2L264.5 861.8L265.5 861.8L266.5 862.3L267.5 863.6L268.5 866.4L269.5 870.4L270.5 870.4L271.5 868.7L272.5 866.5L273.5 866.5L274.5 874.4L275.5 883.2L276.5 892.6L277.5 900.8L278.5 906.6L279.5 911.5L280.5 917L281.5 917.5L282.5 916.8L283.5 916.6L284.5 917.5L285.5 916.5L286.5 914.5L287.5 913.5L288.5 913.3L289.5 912.5L290.5 911.3L291.5 910.3L292.5 910.7L293.5 911.3L294.5 911.5L295.5 912.5L296.5 914.2L297.5 915.9L298.5 921.4L299.5 925.8L300.5 930.6L301.5 932.1L302.5 933.1L303.5 934.5L304.5 936.1L305.5 935.9L306.5 934.9L307.5 933.1L308.5 927.5L309.5 920.1L310.5 913L311.5 904.7L312.5 902.9L313.5 902.4L314.5 903.3L315.5 904.2L316.5 902L317.5 899.8L318.5 899.2L319.5 900.8L320.5 903.5L321.5 905.4L322.5 906.9L323.5 903.5L324.5 898.5L325.5 894.6L326.5 891.2L327.5 888.3L328.5 883.8L329.5 878.5L330.5 875L331.5 876L332.5 877.3L333.5 879.7L334.5 876.2L335.5 868.5L336.5 860.3L337.5 850.9L338.5 844.2L339.5 837.4L340.5 830.8L341.5 830L342.5 829.8L343.5 832.8L344.5 836.1L345.5 843L346.5 856.8L347.5 871.2L348.5 876L349.5 878.3L350.5 882.9L351.5 892.6L352.5 902.4L353.5 907.6L354.5 910.6L355.5 914.1L356.5 916.8L357.5 915.3L358.5 912.8L359.5 906.9L360.5 899.7L361.5 891.8L362.5 878.5L363.5 865.7L364.5 857.8L365.5 852.6L366.5 848.3L367.5 847.5L368.5 847L369.5 847.7L370.5 850L371.5 852.7L372.5 859.3L373.5 866.1L374.5 872.2L375.5 877.3L376.5 881.4L377.5 885.2L378.5 889.7L379.5 888.2L380.5 868.6L381.5 856.9L382.5 850.8L383.5 844.1L384.5 843.7L385.5 844.7L386.5 845.7L387.5 846L388.5 846.5L389.5 849.5L390.5 852.1L391.5 854.7L392.5 858.9L393.5 863.6L394.5 863.4L395.5 861.9L396.5 861.2L397.5 860.7L398.5 859.5L399.5 854.5L400.5 847.7L401.5 842L402.5 841L403.5 840.5L404.5 841.7L405.5 844.4L406.5 847.1L407.5 852.1L408.5 856.8L409.5 861.1L410.5 865.5L411.5 870.6L412.5 875.4L413.5 879.5L414.5 883.4L415.5 886.7L416.5 890.3L417.5 892.8L418.5 894.3L419.5 894.6L420.5 890.9L421.5 888.2L422.5 888.8L423.5 891.3L424.5 893.5L425.5 897.4L426.5 899.4L427.5 900.2L428.5 901.5L429.5 904.3L430.5 906L431.5 907.7L432.5 907L433.5 902.8L434.5 899.4L435.5 902.2L436.5 907L437.5 912.1L438.5 919.4L439.5 926.2L440.5 920L441.5 907.8L442.5 896L443.5 891.4L444.5 887.7L445.5 883.8L446.5 879.9L447.5 876.1L448.5 863.7L449.5 851.1L450.5 835.8L451.5 818.2L452.5 813.9L453.5 813.9L454.5 816.6L455.5 818.7L456.5 828.6L457.5 845.5L458.5 862.7L459.5 878.8L460.5 883.6L461.5 889.2L462.5 886L463.5 875.5L464.5 872.5L465.5 871.8L466.5 873.5L467.5 875.8L468.5 880L469.5 886.3L470.5 893.2L471.5 900.4L472.5 907.7L473.5 913L474.5 915.9L475.5 897.9L476.5 872.7L477.5 860L478.5 879.2L479.5 868.2L480.5 843.2L481.5 841.1L482.5 837.8L483.5 835.4L484.5 841L485.5 849.2L486.5 857.9L487.5 862.9L488.5 864.9L489.5 865.4L490.5 863.1L491.5 854.4L492.5 846.7L493.5 839.4L494.5 829.9L495.5 819.8L496.5 811.2L497.5 806.5L498.5 801.3L499.5 796.7L500.5 793.6L501.5 792.3L502.5 794L503.5 795.2L504.5 803.9L505.5 817L506.5 849.5L507.5 868.5L508.5 875.8L509.5 876.4L510.5 875.5L511.5 875.2L512.5 875.1L513.5 875.7L514.5 876.3L515.5 876.2L516.5 876L517.5 882.5L518.5 891.2L519.5 898.9L520.5 901.3L521.5 902.3L522.5 906.7L523.5 913.2L524.5 919.7L525.5 921.3L526.5 922.6L527.5 922.7L528.5 931.4L529.5 943.3L530.5 946.7L531.5 950.9L532.5 953.7L533.5 955.7L534.5 952.7L535.5 944.6L536.5 941.9L537.5 910.4L538.5 834.9L539.5 832.7L540.5 840.9L541.5 852L542.5 858.9L543.5 850.8L544.5 841.9L545.5 833.4L546.5 825.5L547.5 820.3L548.5 830.4L549.5 840.3L550.5 859L551.5 884.5L552.5 889L553.5 890.1L554.5 884.9L555.5 863.8L556.5 853.3L557.5 850.2L558.5 846.9L559.5 847.6L560.5 846.9L561.5 836.1L562.5 815.7L563.5 796.7L564.5 786.6L565.5 776.2L566.5 765.1L567.5 753.8L568.5 742.9L569.5 740.7L570.5 740.9L571.5 741.2L572.5 749.6L573.5 770L574.5 789.7L575.5 818.3L576.5 846.6L577.5 857.5L578.5 877L579.5 907.7L580.5 920.5L581.5 926.4L582.5 908.3L583.5 890.2L584.5 875.5L585.5 865L586.5 854.2L587.5 843.2L588.5 834.1L589.5 823L590.5 804.3L591.5 780.4L592.5 753.2L593.5 771.9L594.5 796.7L595.5 828.2L596.5 853.9L597.5 874.1L598.5 894.6L599.5 913.7L600.5 918.6L601.5 923.3L602.5 930.2L603.5 938.3L604.5 967.4L605.5 968.2L606.5 966.9L607.5 968L608.5 969.6L609.5 965.9L610.5 960L611.5 953L612.5 945.3L613.5 943L614.5 942L615.5 931L616.5 907L617.5 899.8L618.5 892.4L619.5 891.2L620.5 891.4L621.5 892.3L622.5 892.6L623.5 893L624.5 892.7L625.5 892.1L626.5 894.8L627.5 899.4L628.5 905.4L629.5 920.7L630.5 930.5L631.5 932.1L632.5 934.6L633.5 939.5L634.5 931.6L635.5 922.2L636.5 913.5L637.5 907.6L638.5 902.3L639.5 809.6L640.5 752.5L641.5 766.5L642.5 779.9L643.5 786.4L644.5 793.9L645.5 801.5L646.5 808.2L647.5 814.4L648.5 810.6L649.5 803.4L650.5 794.9L651.5 786.3L652.5 779.1L653.5 767.9L654.5 753.8L655.5 740.3L656.5 738.4L657.5 738.7L658.5 744.4L659.5 752.2L660.5 758.2L661.5 754.7L662.5 752.6L663.5 752.7L664.5 753.6L665.5 752.9L666.5 775.3L667.5 804.5L668.5 852.7L669.5 878.9L670.5 881.4L671.5 900.8L672.5 924.2L673.5 928.5L674.5 926.6L675.5 872.9L676.5 817.9L677.5 801.2L678.5 792.8L679.5 789.9L680.5 798.6L681.5 809.6L682.5 823.9L683.5 838L684.5 854L685.5 873.4L686.5 890.7L687.5 907.7L688.5 910.1L689.5 907.7L690.5 904.7L691.5 899.4L692.5 891.5L693.5 881.5L694.5 873.7L695.5 873.3L696.5 875.3L697.5 882.9L698.5 890.6L699.5 900.1L700.5 910.6L701.5 920.7L702.5 926.2L703.5 932.2L704.5 938.1L705.5 963.2L706.5 966.1L707.5 969L708.5 969.5L709.5 969.9L710.5 970.2L711.5 970.1L712.5 968.9L713.5 968.5L714.5 968.4L715.5 963.5L716.5 954.1L717.5 945.2L718.5 952.5L719.5 960L720.5 963.3L721.5 964.3L722.5 966.2L723.5 968.7L724.5 965.9L725.5 962.3L726.5 957.6L727.5 943.3L728.5 943.6L729.5 944.9L730.5 946.7L731.5 947.9L732.5 947.2L733.5 944.7L734.5 842.8L735.5 790.8L736.5 789.1L737.5 790.5L738.5 793.7L739.5 817.6L740.5 849.7L741.5 851.1L742.5 849L743.5 835.1L744.5 815.9L745.5 759.9L746.5 759.2L747.5 758.9L748.5 760.5L749.5 895.4L750.5 930.9L751.5 997.6L752.5 998.2L753.5 997.9L754.5 997.8L755.5 996.4L756.5 993.7L757.5 991L758.5 991.4L759.5 996L760.5 999.8L761.5 1002.4L762.5 1002.9L763.5 1001.6L764.5 999.8L765.5 998.7L766.5 996.3L767.5 994.5L768.5 993.6L769.5 992.5L770.5 988.8L771.5 984.3L772.5 979.9L773.5 976.5L774.5 973.9L775.5 971.7L776.5 970.4L777.5 971.3L778.5 971.5L779.5 968.4L780.5 965L781.5 964.6L782.5 967.5L783.5 972.6L784.5 978.1L785.5 982.6L786.5 987.4L787.5 986.2L788.5 983.5L789.5 983.4L790.5 989L791.5 994.9L792.5 999.8L793.5 1001.6L794.5 1001.8L795.5 1002.1L796.5 1002.5L797.5 1003.2L798.5 1004.2L799.5 1005L800.5 1005.4L801.5 1005.5L802.5 1005.4L803.5 1002.7L804.5 999.5L805.5 997.2L806.5 996L807.5 995.3L808.5 994.9L809.5 997.2L810.5 1000.9L811.5 1003.6L812.5 1006.5L813.5 1006.3L814.5 1005.8L815.5 1005.9L816.5 1006.5L817.5 1007.2L818.5 1007.5L819.5 1007.1L820.5 1007.1L821.5 1008.1L822.5 1008.7L823.5 1009.1L824.5 1010L825.5 1009.5L826.5 1006.8L827.5 1004.1L828.5 1000.7L829.5 1000L830.5 1004.9L831.5 1013.5L832.5 1020.7L833.5 1019.2L834.5 1017.7L835.5 1016.7L836.5 1016.1L837.5 1016L838.5 1015.5L839.5 1014.2L840.5 1012.8L841.5 1011.9L842.5 1010.9L843.5 1009.7L844.5 1007.6L845.5 1003.8L846.5 1001.6L847.5 1005.5L848.5 1009L849.5 1011L850.5 1012.6L851.5 1014.8L852.5 1017.7L853.5 1019.7L854.5 1021L855.5 1021.8L856.5 1022L857.5 1022.1L858.5 1020.8L859.5 1019.1L860.5 1017.5L861.5 1016.5L862.5 1016.1L863.5 1015.8L864.5 1015.6L865.5 1015.9L866.5 1016.3L867.5 1017.1L868.5 1018.2L869.5 1019.1L870.5 1019.4L871.5 1019.3L872.5 1019.3L873.5 1018.9L874.5 1018.6L875.5 1018.2L876.5 1017.5L877.5 1017.1L878.5 1017.4L879.5 1017.9L880.5 1018L881.5 1017.8L882.5 1017.5L883.5 1018L884.5 1019L885.5 1020.4L886.5 1020.9L887.5 1021L888.5 1020.7L889.5 1020.2L890.5 1019.4L891.5 1018.2L892.5 1015.3L893.5 1011.1L894.5 1007.6L895.5 1005.5L896.5 1007.5L897.5 1010.2L898.5 1013.3L899.5 1016.1L900.5 1018.3L901.5 1019.6L902.5 1020.7L903.5 1021.6L904.5 1022.6L905.5 1023.2L906.5 1023.6L907.5 1024.3L908.5 1025L909.5 1025.5L910.5 1025.7L911.5 1025.6L912.5 1024.9L913.5 1024.1L914.5 1023.5L915.5 1023.3L916.5 1023.2L917.5 1023.2L918.5 1023.3L919.5 1023L920.5 1022.4L921.5 1021.7L922.5 1021.4L923.5 1020.9L924.5 1021.4L925.5 1022.5L926.5 1023.4L927.5 1024.3L928.5 1025L929.5 1025.6L930.5 1026.5L931.5 1027.2L932.5 1027.5L933.5 1027.5L934.5 1027.3L935.5 1026.4L936.5 1025.4L937.5 1024.2L938.5 1022.9L939.5 1023.1L940.5 1024L941.5 1025.1L942.5 1025.9L943.5 1026.1L944.5 1025.8L945.5 1025.3L946.5 1025L947.5 1024.9L948.5 1024.8L949.5 1024.8L950.5 1024.8L951.5 1024.6L952.5 1024.7L953.5 1025.1L954.5 1025.4L955.5 1025.3L956.5 1025.2L957.5 1025L958.5 1024.9L959.5 1025.6L960.5 1026.3L961.5 1026.5L962.5 1026.7L963.5 1027.1L964.5 1027.7L965.5 1028.3L966.5 1028.4L967.5 1028.5L968.5 1028.5L969.5 1028.2L970.5 1027.7L971.5 1027.2L972.5 1026.9L973.5 1026.8L974.5 1027L975.5 1027.4L976.5 1028L977.5 1028.2L978.5 1027.8L979.5 1026.8L980.5 1026L981.5 1025.5L982.5 1025.4L983.5 1025.7L984.5 1026.3L985.5 1027L986.5 1027.7L987.5 1028L988.5 1028.1L989.5 1028L990.5 1027.9L991.5 1028.1L992.5 1028.4L993.5 1028.9L994.5 1029L995.5 1028.8L996.5 1028.5L997.5 1028.5L998.5 1028.8L999.5 1029.4L1000.5 1029.9L1001.5 1030.1L1002.5 1029.1L1003.5 1028L1004.5 1026.8L1005.5 1025.5L1006.5 1024L1007.5 1022.4L1008.5 1021.4L1009.5 1020.8L1010.5 1021.4L1011.5 1024.8L1012.5 1028L1013.5 1028.8L1014.5 1028.8L1015.5 1028.8L1016.5 1029.1L1017.5 1029.6L1018.5 1030.2L1019.5 1030.6L1020.5 1030.5L1021.5 1030.3L1022.5 1030L1023.5 1029.7L1024.5 1029.5L1025.5 1029.4L1026.5 1029.5L1027.5 1029.4L1028.5 1029L1029.5 1028.7L1030.5 1028.6L1031.5 1028.6L1032.5 1028.5L1033.5 1028.3L1034.5 1028.4L1035.5 1028.8L1036.5 1029.3L1037.5 1029.4L1038.5 1029.3L1039.5 1029.1L1040.5 1028.5L1041.5 1027.6L1042.5 1026.9L1043.5 1026.8L1044.5 1027L1045.5 1027.4L1046.5 1027.8L1047.5 1028.3L1048.5 1028.6L1049.5 1028.5L1050.5 1028.3L1051.5 1028.1L1052.5 1028L1053.5 1028L1054.5 1028.3L1055.5 1028.2L1056.5 1027.8L1057.5 1027.5L1058.5 1027.3L1059.5 1026.9L1060.5 1026.5L1061.5 1026.1L1062.5 1025.8L1063.5 1025.9L1064.5 1026.3L1065.5 1026.6L1066.5 1026.8L1067.5 1027.1L1068.5 1027.5L1069.5 1027.8L1070.5 1028.7L1071.5 1028.9L1072.5 1028.8L1073.5 1028.8L1074.5 1028.9L1075.5 1028.6L1076.5 1028L1077.5 1027.4L1078.5 1027.1L1079.5 1026.9L1080.5 1026.8L1081.5 1027.5L1082.5 1028L1083.5 1028.4L1084.5 1028.9L1085.5 1028.8L1086.5 1028.6L1087.5 1028.5L1088.5 1028.5L1089.5 1028.5L1090.5 1027.7L1091.5 1026.6L1092.5 1025.3L1093.5 1023.9L1094.5 1024.9L1095.5 1026.4L1096.5 1027.9L1097.5 1028.3L1098.5 1028.4L1099.5 1028.7L1100.5 1029.1L1101.5 1029.1L1102.5 1029L1103.5 1029.1L1104.5 1029.3L1105.5 1029.5L1106.5 1029.6L1107.5 1029.5L1108.5 1029.4L1109.5 1029.3L1110.5 1029.2L1111.5 1029.1L1112.5 1029.1L1113.5 1029.3L1114.5 1029.6L1115.5 1029.8L1116.5 1029.8L1117.5 1029.8L1118.5 1029.8L1119.5 1029.6L1120.5 1029L1121.5 1028.2L1122.5 1027.6L1123.5 1027.6L1124.5 1028L1125.5 1028.7L1126.5 1029.5L1127.5 1030L1128.5 1030.3L1129.5 1030.2L1130.5 1030.1L1131.5 1029.9L1132.5 1029.5L1133.5 1029.2L1134.5 1028.9L1135.5 1027.9L1136.5 1023.6L1137.5 1021.8L1138.5 1021.3L1139.5 1020.5L1140.5 1021.9L1141.5 1027.3L1142.5 1029.1L1143.5 1029.3L1144.5 1029.3L1145.5 1029L1146.5 1028.8L1147.5 1028.8L1148.5 1029.1L1149.5 1029.4L1150.5 1029.5L1151.5 1029.5L1152.5 1029.3L1153.5 1029.3L1154.5 1029.5L1155.5 1029.6L1156.5 1029.6L1157.5 1029.5L1158.5 1029.4L1159.5 1029.5L1160.5 1029.6L1161.5 1029.8L1162.5 1029.2L1163.5 1028.5L1164.5 1027.4L1165.5 1025.8L1166.5 1024.3L1167.5 1023.2L1168.5 1024.6L1169.5 1026L1170.5 1027.3L1171.5 1027.2L1172.5 1027.3L1173.5 1027.3L1174.5 1026.7L1175.5 1019.9L1176.5 1014L1177.5 1009.8L1178.5 1006.1L1179.5 1004.2L1180.5 1002.8L1181.5 1001.8L1182.5 1007.4L1183.5 1012.7L1184.5 1016.1L1185.5 1016.3L1186.5 1016.3L1187.5 1018L1188.5 1020.2L1189.5 1022.1L1190.5 1023.1L1191.5 1024.1L1192.5 1025.5L1193.5 1026.8L1194.5 1027.6L1195.5 1028.3L1196.5 1028.9L1197.5 1029.2L1198.5 1029.5L1199.5 1029.4L1200.5 1029.3L1201.5 1029.4L1202.5 1029.6L1203.5 1029.4L1204.5 1028.7L1205.5 1027.6L1206.5 1023.6L1207.5 1020.1L1208.5 1017.2L1209.5 1016.3L1210.5 1015.4L1211.5 1015.2L1212.5 1016.2L1213.5 1017.1L1214.5 1019L1215.5 1020.9L1216.5 1022L1217.5 1022.3L1218.5 1022.8L1219.5 1023.3L1220.5 1023.9L1221.5 1024.5L1222.5 1024.7L1223.5 1024.7L1224.5 1024.3L1225.5 1023.7L1226.5 1023.1L1227.5 1022.8L1228.5 1023.2L1229.5 1024.1L1230.5 1024.9L1231.5 1025.3L1232.5 1025.5L1233.5 1025.4L1234.5 1025.3L1235.5 1025.6L1236.5 1026L1237.5 1026.1L1238.5 1025.9L1239.5 1025.9L1240.5 1025.9L1241.5 1026.1L1242.5 1026.6L1243.5 1026.8L1244.5 1026.8L1245.5 1026.7L1246.5 1026.5L1247.5 1026.4L1248.5 1026.2L1249.5 1025.7L1250.5 1025.8L1251.5 1026L1252.5 1026.4L1253.5 1026.8L1254.5 1027.1L1255.5 1027.4L1256.5 1027.7L1257.5 1028.1L1258.5 1028.5L1259.5 1028.8L1260.5 1028.8L1261.5 1028.7L1262.5 1028.3L1263.5 1026.6L1264.5 1025.1L1265.5 1024L1266.5 1023.2L1267.5 1022.6L1268.5 1022.8L1269.5 1024.8L1270.5 1026.6L1271.5 1026.7L1272.5 1026.7L1273.5 1026.7L1274.5 1026.5L1275.5 1026L1276.5 1025.6L1277.5 1025.2L1278.5 1025L1279.5 1024.9L1280.5 1025.2L1281.5 1025.9L1282.5 1026.7L1283.5 1027.3L1284.5 1026.9L1285.5 1026.2L1286.5 1025.6L1287.5 1025L1288.5 1024.3L1289.5 1023.8L1290.5 1023.4L1291.5 1023L1292.5 1023L1293.5 1023.4L1294.5 1023.9L1295.5 1024.3L1296.5 1024.4L1297.5 1024.2L1298.5 1024L1299.5 1024.1L1300.5 1024.3L1301.5 1024.1L1302.5 1023.4L1303.5 1022.5L1304.5 1021.9L1305.5 1021.8L1306.5 1021.7L1307.5 1021.6L1308.5 1021L1309.5 1019.2L1310.5 1017L1311.5 1017.8L1312.5 1018.9L1313.5 1019.5L1314.5 1020.1L1315.5 1021L1316.5 1021.7L1317.5 1021.5L1318.5 1021.9L1319.5 1022.6L1320.5 1022.9L1321.5 1022.8L1322.5 1022.8L1323.5 1023L1324.5 1023.4L1325.5 1023.8L1326.5 1023.7L1327.5 1023.1L1328.5 1021.7L1329.5 1020.9L1330.5 1021L1331.5 1022.2L1332.5 1023.1L1333.5 1023.2L1334.5 1022.9L1335.5 1022.6L1336.5 1021.7L1337.5 1021L1338.5 1019.9L1339.5 1018.3L1340.5 1016.6L1341.5 1016.7L1342.5 1018.2L1343.5 1019.9L1344.5 1021.4L1345.5 1022.4L1346.5 1023L1347.5 1023.6L1348.5 1024.1L1349.5 1023.7L1350.5 1022.3L1351.5 1021L1352.5 1019.6L1353.5 1018.6L1354.5 1019.5L1355.5 1020.8L1356.5 1022.7L1357.5 1022.2L1358.5 1021.1L1359.5 1019.7L1360.5 1017.9L1361.5 1018.1L1362.5 1019.1L1363.5 1020.6L1364.5 1021.9L1365.5 1022.2L1366.5 1022L1367.5 1021.6L1368.5 1021.6L1369.5 1021.9L1370.5 1021.8L1371.5 1021.5L1372.5 1021.1L1373.5 1020.9L1374.5 1020.7L1375.5 1018.5L1376.5 1016.2L1377.5 1013.4L1378.5 1010.3L1379.5 1011.4L1380.5 1012.9L1381.5 1015L1382.5 1016.8L1383.5 1017.9L1384.5 1018.3L1385.5 1018.4L1386.5 1018.7L1387.5 1019.3L1388.5 1019.2L1389.5 1018.2L1390.5 1017L1391.5 1015.9L1392.5 1016.2L1393.5 1016.6L1394.5 1016.9L1395.5 1017.2L1396.5 1018.3L1397.5 1019.5L1398.5 1020.5L1399.5 1021.5L1400.5 1020.3L1401.5 1018.9L1402.5 1017.2L1403.5 1015.2L1404.5 1011.9L1405.5 1009L1406.5 1006.9L1407.5 1006.1L1408.5 1006.5L1409.5 1006.1L1410.5 1004.4L1411.5 1004.1L1412.5 1004.2L1413.5 1005.2L1414.5 1008.2L1415.5 1011.9L1416.5 1013.8L1417.5 1013.1L1418.5 1011.3L1419.5 1008.8L1420.5 1004.3L1421.5 997.3L1422.5 991.3L1423.5 990.1L1424.5 990.7L1425.5 992.7L1426.5 995L1427.5 996.9L1428.5 993.3L1429.5 988.6L1430.5 983.5L1431.5 978.5L1432.5 974.9L1433.5 978.4L1434.5 983L1435.5 988.5L1436.5 994.7L1437.5 999.7L1438.5 1000.4L1439.5 999.4L1440.5 998.7L1441.5 993.4L1442.5 987.8L1443.5 983.1L1444.5 982.8L1445.5 982.3L1446.5 978.9L1447.5 972.7L1448.5 966.7L1449.5 969.2L1450.5 970.8L1451.5 972.1L1452.5 973.1L1453.5 972.5L1454.5 974.9L1455.5 984L1456.5 992.7L1457.5 996.1L1458.5 995.9L1459.5 995.9L1460.5 994L1461.5 992.2L1462.5 991.4L1462.5 1019.3L1461.5 1021.5L1460.5 1023.4L1459.5 1024.9L1458.5 1025L1457.5 1025.2L1456.5 1024.8L1455.5 1023.8L1454.5 1023.1L1453.5 1021.8L1452.5 1019.9L1451.5 1018.8L1450.5 1018.3L1449.5 1019.2L1448.5 1020.7L1447.5 1021.9L1446.5 1022.3L1445.5 1022.1L1444.5 1021.9L1443.5 1022.4L1442.5 1023.6L1441.5 1025L1440.5 1026.1L1439.5 1027.1L1438.5 1028L1437.5 1028.5L1436.5 1028L1435.5 1027.6L1434.5 1026.6L1433.5 1025.2L1432.5 1024.1L1431.5 1025.5L1430.5 1027.2L1429.5 1028L1428.5 1028.3L1427.5 1028.2L1426.5 1027.6L1425.5 1027.1L1424.5 1027L1423.5 1027.1L1422.5 1026.7L1421.5 1026.1L1420.5 1026.1L1419.5 1026.6L1418.5 1027.2L1417.5 1027.7L1416.5 1028L1415.5 1027.8L1414.5 1027.4L1413.5 1027.1L1412.5 1026.5L1411.5 1025.5L1410.5 1024.2L1409.5 1024.6L1408.5 1025.4L1407.5 1026.7L1406.5 1028L1405.5 1028.9L1404.5 1029.6L1403.5 1030.1L1402.5 1030L1401.5 1029.8L1400.5 1029.7L1399.5 1029.7L1398.5 1029.8L1397.5 1030.2L1396.5 1030.6L1395.5 1030.8L1394.5 1030.8L1393.5 1030.8L1392.5 1030.6L1391.5 1030.4L1390.5 1030.2L1389.5 1030.2L1388.5 1030.4L1387.5 1030.8L1386.5 1031L1385.5 1030.9L1384.5 1030.8L1383.5 1030.8L1382.5 1030.8L1381.5 1030.9L1380.5 1030.9L1379.5 1030.9L1378.5 1030.8L1377.5 1031.2L1376.5 1031.6L1375.5 1031.9L1374.5 1031.8L1373.5 1031.5L1372.5 1031L1371.5 1030.7L1370.5 1030.5L1369.5 1030.5L1368.5 1030.6L1367.5 1030.6L1366.5 1030.5L1365.5 1030.5L1364.5 1030.5L1363.5 1030.2L1362.5 1029.8L1361.5 1029.6L1360.5 1029.8L1359.5 1030.4L1358.5 1030.9L1357.5 1031.1L1356.5 1031.4L1355.5 1031.2L1354.5 1031.1L1353.5 1031L1352.5 1031.2L1351.5 1031.5L1350.5 1031.5L1349.5 1031.3L1348.5 1031L1347.5 1030.8L1346.5 1030.8L1345.5 1030.9L1344.5 1030.9L1343.5 1030.6L1342.5 1030.2L1341.5 1029.9L1340.5 1030L1339.5 1030.1L1338.5 1030.2L1337.5 1030.3L1336.5 1030.8L1335.5 1031.3L1334.5 1031.5L1333.5 1031.5L1332.5 1031.5L1331.5 1031.6L1330.5 1031.5L1329.5 1031.4L1328.5 1031.2L1327.5 1031L1326.5 1030.8L1325.5 1030.6L1324.5 1030.7L1323.5 1030.9L1322.5 1031L1321.5 1030.9L1320.5 1030.5L1319.5 1030.3L1318.5 1030.4L1317.5 1030.4L1316.5 1030.2L1315.5 1029.9L1314.5 1029.8L1313.5 1029.9L1312.5 1030L1311.5 1029.9L1310.5 1029.8L1309.5 1030L1308.5 1030.3L1307.5 1030.4L1306.5 1030.4L1305.5 1030.6L1304.5 1030.8L1303.5 1031.1L1302.5 1031.4L1301.5 1031.7L1300.5 1031.8L1299.5 1031.9L1298.5 1032L1297.5 1032L1296.5 1031.7L1295.5 1031.5L1294.5 1031.4L1293.5 1031.5L1292.5 1031.6L1291.5 1031.6L1290.5 1031.6L1289.5 1031.5L1288.5 1031.5L1287.5 1031.8L1286.5 1032.2L1285.5 1032.7L1284.5 1033.1L1283.5 1033.4L1282.5 1033.4L1281.5 1033.3L1280.5 1032.9L1279.5 1032.3L1278.5 1032.1L1277.5 1032.2L1276.5 1032.5L1275.5 1032.6L1274.5 1032.6L1273.5 1032.7L1272.5 1032.9L1271.5 1033L1270.5 1033L1269.5 1032.9L1268.5 1032.8L1267.5 1032.8L1266.5 1032.8L1265.5 1032.8L1264.5 1032.8L1263.5 1032.8L1262.5 1032.7L1261.5 1032.5L1260.5 1032.4L1259.5 1032.4L1258.5 1032.6L1257.5 1032.6L1256.5 1032.4L1255.5 1032.2L1254.5 1032.2L1253.5 1032.5L1252.5 1032.7L1251.5 1032.7L1250.5 1032.8L1249.5 1032.9L1248.5 1033.1L1247.5 1033.2L1246.5 1032.8L1245.5 1032.3L1244.5 1032.1L1243.5 1032.2L1242.5 1032.4L1241.5 1032.5L1240.5 1032.5L1239.5 1032.2L1238.5 1031.9L1237.5 1031.6L1236.5 1031.4L1235.5 1031.2L1234.5 1031.1L1233.5 1031.1L1232.5 1031.4L1231.5 1031.8L1230.5 1032L1229.5 1032.1L1228.5 1032L1227.5 1031.8L1226.5 1031.5L1225.5 1031.6L1224.5 1031.9L1223.5 1032.3L1222.5 1032.4L1221.5 1032.2L1220.5 1031.9L1219.5 1031.8L1218.5 1031.7L1217.5 1031.6L1216.5 1031.5L1215.5 1031.5L1214.5 1031.5L1213.5 1031.4L1212.5 1030.9L1211.5 1030.7L1210.5 1031.3L1209.5 1032.3L1208.5 1033L1207.5 1032.9L1206.5 1032.8L1205.5 1032.7L1204.5 1032.7L1203.5 1032.8L1202.5 1032.7L1201.5 1032.6L1200.5 1032.5L1199.5 1032.5L1198.5 1032.5L1197.5 1032.5L1196.5 1032.6L1195.5 1032.7L1194.5 1032.6L1193.5 1032.6L1192.5 1032.6L1191.5 1032.8L1190.5 1033L1189.5 1033.4L1188.5 1033.9L1187.5 1034.2L1186.5 1034L1185.5 1032.1L1184.5 1030.3L1183.5 1029.9L1182.5 1029.6L1181.5 1029L1180.5 1028.8L1179.5 1029.2L1178.5 1030.2L1177.5 1031.8L1176.5 1032.9L1175.5 1033.2L1174.5 1033.2L1173.5 1033.2L1172.5 1033.3L1171.5 1033.3L1170.5 1033.2L1169.5 1033L1168.5 1032.7L1167.5 1032.6L1166.5 1032.5L1165.5 1032.6L1164.5 1032.9L1163.5 1033.1L1162.5 1033.2L1161.5 1033.2L1160.5 1033.1L1159.5 1032.9L1158.5 1032.6L1157.5 1032.3L1156.5 1032.2L1155.5 1032.2L1154.5 1032.2L1153.5 1032.3L1152.5 1032.5L1151.5 1032.8L1150.5 1032.9L1149.5 1033L1148.5 1033L1147.5 1033L1146.5 1032.9L1145.5 1032.8L1144.5 1032.6L1143.5 1032.5L1142.5 1032.4L1141.5 1032.1L1140.5 1031.7L1139.5 1031.4L1138.5 1031.5L1137.5 1031.9L1136.5 1032.3L1135.5 1032.6L1134.5 1032.6L1133.5 1032.5L1132.5 1032.4L1131.5 1032.3L1130.5 1032.4L1129.5 1032.4L1128.5 1032.3L1127.5 1032.1L1126.5 1031.9L1125.5 1032L1124.5 1032.1L1123.5 1032.2L1122.5 1032.2L1121.5 1032.1L1120.5 1032.1L1119.5 1032L1118.5 1031.9L1117.5 1031.9L1116.5 1032.1L1115.5 1032.2L1114.5 1032.1L1113.5 1032L1112.5 1032.1L1111.5 1032.3L1110.5 1032.6L1109.5 1032.7L1108.5 1032.6L1107.5 1032.4L1106.5 1032.3L1105.5 1032.2L1104.5 1032.2L1103.5 1032.3L1102.5 1032.6L1101.5 1032.8L1100.5 1033L1099.5 1033L1098.5 1033L1097.5 1033L1096.5 1032.9L1095.5 1032.7L1094.5 1032.4L1093.5 1032.4L1092.5 1032.7L1091.5 1032.9L1090.5 1032.9L1089.5 1032.9L1088.5 1032.9L1087.5 1032.7L1086.5 1032.5L1085.5 1032.3L1084.5 1032.3L1083.5 1032.4L1082.5 1032.4L1081.5 1032.4L1080.5 1032.4L1079.5 1032.5L1078.5 1032.7L1077.5 1032.8L1076.5 1032.9L1075.5 1032.8L1074.5 1032.8L1073.5 1032.7L1072.5 1032.7L1071.5 1032.7L1070.5 1032.7L1069.5 1032.6L1068.5 1032.5L1067.5 1032.3L1066.5 1032.3L1065.5 1032.4L1064.5 1032.5L1063.5 1032.5L1062.5 1032.4L1061.5 1032.2L1060.5 1032.2L1059.5 1032.5L1058.5 1032.9L1057.5 1033.1L1056.5 1033.1L1055.5 1033L1054.5 1032.8L1053.5 1032.5L1052.5 1032.3L1051.5 1032.5L1050.5 1032.6L1049.5 1032.6L1048.5 1032.6L1047.5 1032.7L1046.5 1032.8L1045.5 1032.6L1044.5 1032.5L1043.5 1032.4L1042.5 1032.5L1041.5 1032.4L1040.5 1032.3L1039.5 1032.1L1038.5 1032.1L1037.5 1032.1L1036.5 1032.2L1035.5 1032.4L1034.5 1032.6L1033.5 1032.7L1032.5 1032.6L1031.5 1032.6L1030.5 1032.6L1029.5 1032.7L1028.5 1032.9L1027.5 1033L1026.5 1032.8L1025.5 1032.6L1024.5 1032.5L1023.5 1032.6L1022.5 1032.6L1021.5 1032.5L1020.5 1032.5L1019.5 1032.6L1018.5 1032.7L1017.5 1032.6L1016.5 1032.4L1015.5 1032.2L1014.5 1032.2L1013.5 1032.4L1012.5 1032.3L1011.5 1031.9L1010.5 1031.4L1009.5 1031.7L1008.5 1032.4L1007.5 1032.9L1006.5 1032.8L1005.5 1032.4L1004.5 1032.1L1003.5 1032L1002.5 1032.2L1001.5 1032.3L1000.5 1032.4L999.5 1032.4L998.5 1032.3L997.5 1032.4L996.5 1032.5L995.5 1032.8L994.5 1033L993.5 1033.1L992.5 1033.1L991.5 1033.1L990.5 1033L989.5 1032.9L988.5 1032.8L987.5 1032.5L986.5 1032.4L985.5 1032.4L984.5 1032.6L983.5 1032.6L982.5 1032.4L981.5 1032.2L980.5 1032L979.5 1031.9L978.5 1032L977.5 1032.2L976.5 1032.4L975.5 1032.6L974.5 1032.8L973.5 1032.9L972.5 1032.9L971.5 1032.9L970.5 1032.8L969.5 1032.9L968.5 1033.1L967.5 1033.3L966.5 1033.4L965.5 1033.3L964.5 1033.2L963.5 1032.9L962.5 1032.4L961.5 1032L960.5 1031.8L959.5 1031.9L958.5 1032.1L957.5 1032.3L956.5 1032.3L955.5 1032L954.5 1031.8L953.5 1031.6L952.5 1031.4L951.5 1031.3L950.5 1031.4L949.5 1031.6L948.5 1031.9L947.5 1032L946.5 1032.1L945.5 1032L944.5 1031.9L943.5 1031.7L942.5 1031.6L941.5 1031.7L940.5 1031.8L939.5 1031.8L938.5 1031.6L937.5 1031.4L936.5 1031.3L935.5 1031.4L934.5 1031.6L933.5 1031.6L932.5 1031.5L931.5 1031.4L930.5 1031.3L929.5 1031L928.5 1030.7L927.5 1030.7L926.5 1031L925.5 1031.3L924.5 1031.5L923.5 1031.5L922.5 1031.4L921.5 1031.3L920.5 1031.2L919.5 1031L918.5 1030.9L917.5 1030.9L916.5 1030.9L915.5 1031L914.5 1031L913.5 1031.2L912.5 1031.4L911.5 1031.7L910.5 1031.7L909.5 1031.4L908.5 1030.8L907.5 1030.4L906.5 1030.2L905.5 1030L904.5 1029.9L903.5 1029.7L902.5 1029.8L901.5 1030L900.5 1029.8L899.5 1029.3L898.5 1028.5L897.5 1027.9L896.5 1027.9L895.5 1028.3L894.5 1029.2L893.5 1029.8L892.5 1030.1L891.5 1030L890.5 1029.8L889.5 1029.6L888.5 1029.3L887.5 1028.8L886.5 1028.6L885.5 1028.7L884.5 1028.9L883.5 1029L882.5 1029.2L881.5 1029.7L880.5 1030.3L879.5 1030.5L878.5 1030.5L877.5 1030.4L876.5 1030.2L875.5 1030.1L874.5 1030.1L873.5 1030.1L872.5 1030.2L871.5 1030.1L870.5 1029.8L869.5 1029.4L868.5 1029L867.5 1028.6L866.5 1028.5L865.5 1028.5L864.5 1028.6L863.5 1028.7L862.5 1028.8L861.5 1028.7L860.5 1028.2L859.5 1027.8L858.5 1027.7L857.5 1027.8L856.5 1027.6L855.5 1027.4L854.5 1027.2L853.5 1027.1L852.5 1027L851.5 1026.9L850.5 1026.6L849.5 1026.2L848.5 1026L847.5 1026.2L846.5 1026.7L845.5 1027L844.5 1026.8L843.5 1026.6L842.5 1026.7L841.5 1027L840.5 1027.3L839.5 1027.6L838.5 1027.8L837.5 1028.1L836.5 1028.4L835.5 1028.5L834.5 1028.7L833.5 1028.7L832.5 1028.6L831.5 1028.9L830.5 1029.1L829.5 1029.5L828.5 1030L827.5 1029.5L826.5 1029L825.5 1028.6L824.5 1028.5L823.5 1028.6L822.5 1028.9L821.5 1029.2L820.5 1029.7L819.5 1030.4L818.5 1030.8L817.5 1030.5L816.5 1029.9L815.5 1029.1L814.5 1028.3L813.5 1027.9L812.5 1028L811.5 1028.7L810.5 1029.6L809.5 1030.3L808.5 1030.1L807.5 1028.8L806.5 1027.4L805.5 1026.4L804.5 1026.1L803.5 1026L802.5 1026.1L801.5 1026.3L800.5 1026.8L799.5 1027.2L798.5 1027.3L797.5 1027.1L796.5 1026.6L795.5 1026.1L794.5 1025.8L793.5 1025.4L792.5 1025.2L791.5 1025.5L790.5 1026.1L789.5 1026.4L788.5 1025.9L787.5 1025.1L786.5 1024.6L785.5 1024.8L784.5 1025.2L783.5 1025.5L782.5 1025.6L781.5 1025.4L780.5 1025L779.5 1024.2L778.5 1023.5L777.5 1023.1L776.5 1023.3L775.5 1024.1L774.5 1025.2L773.5 1025.8L772.5 1025.8L771.5 1025.5L770.5 1025.3L769.5 1025.4L768.5 1025.4L767.5 1025.4L766.5 1025.3L765.5 1025.2L764.5 1024.7L763.5 1024.2L762.5 1023.3L761.5 1022.5L760.5 1022.4L759.5 1022.8L758.5 1023.2L757.5 1023.3L756.5 1023.1L755.5 1023L754.5 1022.8L753.5 1022.6L752.5 1022.4L751.5 1022.1L750.5 1021.9L749.5 1021.7L748.5 1021.4L747.5 1018.1L746.5 1015.2L745.5 1015.1L744.5 1013.9L743.5 1011L742.5 1009L741.5 1008.2L740.5 1007.9L739.5 1007.1L738.5 1006.3L737.5 1005.1L736.5 1005.5L735.5 1011.3L734.5 1017.4L733.5 1018.5L732.5 1018L731.5 1017.5L730.5 1016.8L729.5 1016.1L728.5 1017.6L727.5 1019.1L726.5 1019.8L725.5 1018.9L724.5 1018.3L723.5 1018.1L722.5 1018.1L721.5 1018.3L720.5 1018.9L719.5 1019.2L718.5 1019.3L717.5 1019.3L716.5 1020.5L715.5 1021L714.5 1020.5L713.5 1019.3L712.5 1018.7L711.5 1019L710.5 1019.8L709.5 1020.4L708.5 1020.2L707.5 1019.5L706.5 1018L705.5 1016.9L704.5 1016.1L703.5 1015.7L702.5 1015.7L701.5 1015.9L700.5 1015.4L699.5 1013.9L698.5 1012.2L697.5 1011L696.5 1010.3L695.5 1009.5L694.5 1009L693.5 1008.8L692.5 1008.9L691.5 1008.4L690.5 1008L689.5 1007.4L688.5 1006.4L687.5 1005.2L686.5 1004.3L685.5 1002.3L684.5 1000.1L683.5 996.5L682.5 992.1L681.5 988.4L680.5 988.7L679.5 988.9L678.5 992.2L677.5 997.9L676.5 1003.2L675.5 1007.3L674.5 1012.2L673.5 1014.6L672.5 1014.8L671.5 1014.5L670.5 1014L669.5 1011.8L668.5 1009.9L667.5 1007.6L666.5 1004.1L665.5 1000.6L664.5 999.6L663.5 998.5L662.5 997.8L661.5 996.9L660.5 995.4L659.5 994.2L658.5 990.6L657.5 986L656.5 983.1L655.5 984.9L654.5 987.3L653.5 994L652.5 1001.6L651.5 1005.9L650.5 1004.7L649.5 1003.4L648.5 1000.6L647.5 998.2L646.5 996L645.5 994.6L644.5 992.5L643.5 990.8L642.5 990.4L641.5 990.3L640.5 993.4L639.5 997.6L638.5 1000.5L637.5 1002.5L636.5 1005L635.5 1007.8L634.5 1011.1L633.5 1013.9L632.5 1016.6L631.5 1017.8L630.5 1017.6L629.5 1017.6L628.5 1017.6L627.5 1017L626.5 1016.2L625.5 1014.8L624.5 1013.5L623.5 1013.1L622.5 1013.1L621.5 1013.5L620.5 1014.5L619.5 1015.7L618.5 1015.5L617.5 1014L616.5 1012.2L615.5 1011.6L614.5 1012.4L613.5 1013.7L612.5 1015L611.5 1016.2L610.5 1017.1L609.5 1017.7L608.5 1018.6L607.5 1019L606.5 1019.3L605.5 1020L604.5 1021.1L603.5 1021.5L602.5 1021.5L601.5 1020.9L600.5 1017.7L599.5 1013.2L598.5 1008.9L597.5 1004.8L596.5 998.3L595.5 991.2L594.5 984.1L593.5 976.8L592.5 969.3L591.5 966.1L590.5 967.9L589.5 974.8L588.5 986.9L587.5 999.1L586.5 1001.2L585.5 1003.4L584.5 1005.4L583.5 1006.4L582.5 1005.7L581.5 1004.7L580.5 1003.9L579.5 1002.8L578.5 1001.5L577.5 1000.3L576.5 998.7L575.5 987.5L574.5 974.8L573.5 966.7L572.5 965L571.5 963.9L570.5 963L569.5 963.1L568.5 963.5L567.5 963.9L566.5 964.3L565.5 971.4L564.5 978.3L563.5 984.7L562.5 989.6L561.5 991.6L560.5 994.3L559.5 997.1L558.5 999.3L557.5 1001.2L556.5 1003.3L555.5 1005.4L554.5 1005.7L553.5 1005.4L552.5 1004.9L551.5 1003.4L550.5 999.7L549.5 997L548.5 995.1L547.5 993.6L546.5 992.3L545.5 991.1L544.5 994.8L543.5 998.2L542.5 1001.3L541.5 1003.6L540.5 1003.8L539.5 1003.7L538.5 1003.7L537.5 1005L536.5 1007.6L535.5 1010.4L534.5 1012.8L533.5 1012.7L532.5 1012.1L531.5 1011.1L530.5 1009.4L529.5 1007.7L528.5 1006.9L527.5 1007.1L526.5 1007.3L525.5 1007.1L524.5 1006.8L523.5 1006.9L522.5 1006.9L521.5 1006.1L520.5 1004.4L519.5 1002.4L518.5 1000.8L517.5 999.8L516.5 999L515.5 998.6L514.5 998.9L513.5 999.5L512.5 1000.4L511.5 1001.6L510.5 1002.8L509.5 1003.8L508.5 1004.5L507.5 1001.2L506.5 996.9L505.5 992.7L504.5 986L503.5 961.2L502.5 936.8L501.5 931.2L500.5 934.6L499.5 937.2L498.5 939.6L497.5 956.3L496.5 974.2L495.5 985L494.5 987.9L493.5 990.7L492.5 993.7L491.5 995.2L490.5 995.9L489.5 996.5L488.5 997.2L487.5 996.9L486.5 996.6L485.5 996.1L484.5 995.2L483.5 994.2L482.5 993.3L481.5 993L480.5 994.7L479.5 997.5L478.5 1000.2L477.5 1002.5L476.5 1003.9L475.5 1005.1L474.5 1006.1L473.5 1006.7L472.5 1006.3L471.5 1006.4L470.5 1006.3L469.5 1005.6L468.5 1004.3L467.5 1002.7L466.5 1001.1L465.5 999.4L464.5 997.8L463.5 996.5L462.5 995.1L461.5 993.7L460.5 992.2L459.5 991.3L458.5 991L457.5 990.6L456.5 986.3L455.5 980L454.5 976.1L453.5 972.8L452.5 972.8L451.5 972.9L450.5 974.5L449.5 976.8L448.5 979.3L447.5 981.3L446.5 983.1L445.5 983.6L444.5 984.2L443.5 984.6L442.5 985.4L441.5 987.4L440.5 989.6L439.5 991.8L438.5 993.4L437.5 994.5L436.5 995.7L435.5 996.7L434.5 996.2L433.5 995.3L432.5 994.4L431.5 993.3L430.5 991.8L429.5 990.3L428.5 989.3L427.5 988.5L426.5 987.4L425.5 985.8L424.5 983.5L423.5 981.8L422.5 980.3L421.5 979.3L420.5 979.2L419.5 981L418.5 982.1L417.5 982.4L416.5 982L415.5 980.6L414.5 979.6L413.5 978.7L412.5 977.8L411.5 976.9L410.5 976.1L409.5 975.3L408.5 974.7L407.5 974L406.5 973.5L405.5 972.6L404.5 971L403.5 969.1L402.5 968L401.5 967.9L400.5 968L399.5 967.8L398.5 967.6L397.5 967.4L396.5 967.2L395.5 966.9L394.5 966.2L393.5 965.2L392.5 964.1L391.5 963.2L390.5 962.6L389.5 962.5L388.5 962.5L387.5 962.8L386.5 963.4L385.5 963.9L384.5 964.3L383.5 965.4L382.5 967.6L381.5 969.6L380.5 970.7L379.5 971.6L378.5 973.2L377.5 974.7L376.5 976L375.5 975.7L374.5 974L373.5 973.2L372.5 973L371.5 973L370.5 972.5L369.5 971.3L368.5 970L367.5 969.9L366.5 970L365.5 970.3L364.5 971.1L363.5 972.3L362.5 973.8L361.5 975.1L360.5 977L359.5 979.2L358.5 981.2L357.5 982.8L356.5 982.4L355.5 981.6L354.5 981.6L353.5 982.4L352.5 983L351.5 983.4L350.5 983.9L349.5 982L348.5 977.4L347.5 972.5L346.5 968.9L345.5 965.4L344.5 962.2L343.5 959.9L342.5 959.3L341.5 958.5L340.5 958.1L339.5 960.1L338.5 961.8L337.5 963.1L336.5 964.5L335.5 966.2L334.5 968.1L333.5 968.8L332.5 967.5L331.5 966.2L330.5 965.1L329.5 966.2L328.5 968.3L327.5 970.3L326.5 972.1L325.5 972.5L324.5 972.8L323.5 973.2L322.5 973.6L321.5 973.8L320.5 974.2L319.5 974.7L318.5 976L317.5 977.6L316.5 978.7L315.5 979.1L314.5 978.4L313.5 978.3L312.5 978.9L311.5 979.9L310.5 983.7L309.5 987.5L308.5 990.9L307.5 992L306.5 990.8L305.5 990.5L304.5 991.6L303.5 994.1L302.5 996.1L301.5 997.3L300.5 998.2L299.5 996.9L298.5 995.7L297.5 995.1L296.5 995.2L295.5 994.9L294.5 993.5L293.5 991.8L292.5 990.2L291.5 989L290.5 988.6L289.5 988.5L288.5 988L287.5 986.4L286.5 985.3L285.5 985.9L284.5 987.1L283.5 988.8L282.5 990.2L281.5 991.2L280.5 991L279.5 988L278.5 985.5L277.5 983.9L276.5 983.5L275.5 983.2L274.5 981.8L273.5 979.4L272.5 977.3L271.5 975.2L270.5 973.2L269.5 971.5L268.5 970.4L267.5 969.6L266.5 968.7L265.5 967.8L264.5 967L263.5 965.9L262.5 964.6L261.5 963.7L260.5 963.1L259.5 962.4L258.5 961.4L257.5 962.6L256.5 963.8L255.5 965.6L254.5 968L253.5 970.9L252.5 974.8L251.5 978.9L250.5 982.6L249.5 985.2L248.5 985.9L247.5 986.7L246.5 988.2L245.5 990.1L244.5 991.9L243.5 993.5L242.5 995.2L241.5 995.8L240.5 995.8L239.5 995.9L238.5 996.9L237.5 998.2L236.5 999L235.5 999.1L234.5 998.9L233.5 999.3L232.5 1000.3L231.5 1001.2L230.5 1000.7L229.5 1000.2L228.5 999.9L227.5 999.2L226.5 995.9L225.5 992.7L224.5 990.1L223.5 989.6L222.5 992.9L221.5 996.1L220.5 999L219.5 1000.4L218.5 1001L217.5 1002L216.5 1003.8L215.5 1006.2L214.5 1008.1L213.5 1009.6L212.5 1010.9L211.5 1009.2L210.5 1007.2L209.5 1004.8L208.5 1003.9L207.5 1004.7L206.5 1005.5L205.5 1006L204.5 1007L203.5 1008L202.5 1008.6L201.5 1008.5L200.5 1008.5L199.5 1008.9L198.5 1010.3L197.5 1011.7L196.5 1012.3L195.5 1012.6L194.5 1012.7L193.5 1013L192.5 1013.6L191.5 1014.5L190.5 1015.2L189.5 1015.3L188.5 1014.5L187.5 1013.5L186.5 1012.5L185.5 1011.8L184.5 1011.5L183.5 1011.6L182.5 1012.2L181.5 1013.3L180.5 1014.3L179.5 1014.9L178.5 1015.2L177.5 1015.4L176.5 1015.5L175.5 1015.6L174.5 1015.4L173.5 1015.9L172.5 1016.7L171.5 1017.4L170.5 1018.1L169.5 1018.8L168.5 1019.7L167.5 1020.2L166.5 1020.3L165.5 1020.5L164.5 1020.6L163.5 1021L162.5 1021L161.5 1020.3L160.5 1019.1L159.5 1018.2L158.5 1017.7L157.5 1017.1L156.5 1016.6L155.5 1016.7L154.5 1017.5L153.5 1018.2L152.5 1018.9L151.5 1019L150.5 1018.8L149.5 1018.5L148.5 1018.1L147.5 1017.8L146.5 1017.7L145.5 1018.1L144.5 1018.7L143.5 1019.6L142.5 1021L141.5 1022.3L140.5 1022.9L139.5 1022.8L138.5 1022.5L137.5 1022.5L136.5 1022.5L135.5 1021.9L134.5 1020.7L133.5 1019.6L132.5 1019.3L131.5 1019.7L130.5 1020L129.5 1020.1L128.5 1020L127.5 1019.6L126.5 1019.4L125.5 1019.7L124.5 1020.6L123.5 1021.6L122.5 1022.8L121.5 1023.7L120.5 1024.2L119.5 1023.8L118.5 1022.6L117.5 1021.9L116.5 1021.7Z" fill="#1f77b4"/>
<path d="M116.3 993.4h0M116 1021.6h0M115.7 991.3h0M115.9 988.7h0M117.9 992.7h0M117.4 1021.8h0M117.5 1023.5h0M118.7 989.1h0M118.7 1023.1h0M118.4 986.7h0M119 983.7h0M118.6 981.6h0M119 979.5h0M118.5 976.6h0M119.9 984.9h0M119.3 1023.1h0M120.4 984.4h0M120.3 1024.4h0M120 981.4h0M119.8 979.1h0M121.8 982.4h0M121.7 1024.1h0M122.2 980.3h0M122.2 1023.2h0M123.9 977.9h0M123.9 1021.6h0M123 966h0M124.9 978.6h0M124.4 1020.4h0M126 977.8h0M125.4 1019h0M126.2 974.6h0M126.2 1019.1h0M126.7 972h0M126.5 969.2h0M127.8 971.2h0M127.4 1019.5h0M128.6 977.2h0M128.2 1019.9h0M128.4 974.9h0M129.1 971.8h0M128.4 968.7h0M129.9 981.7h0M129.6 1020.1h0M129.5 1023.4h0M130.8 986.9h0M130.1 1019.8h0M130.1 982.6h0M131.3 984.8h0M131 981.8h0M130.5 1022.9h0M131.6 988.5h0M131.3 1019.2h0M132.4 988.9h0M132.6 1019.1h0M132.2 985.5h0M133.4 988.8h0M134 1019h0M134.9 989.7h0M134.3 1020.5h0M135.6 989.3h0M135.8 1021.5h0M136.4 990h0M136.6 1022.9h0M136.5 1022.6h0M137.6 991.9h0M137.8 1022.1h0M137.5 1023.5h0M138.5 990.4h0M138.7 1022.1h0M139 989.9h0M139.9 1022.5h0M140.1 988.4h0M140.3 990.4h0M140.8 1022.6h0M140.9 988.7h0M141.5 989.6h0M141.9 1021.8h0M141.3 982.5h0M141.7 988.5h0M142 990.2h0M142.2 1020.6h0M143.1 990.5h0M143.9 1019.8h0M144.9 990.6h0M144.3 1018.1h0M144.5 988h0M145.2 987h0M145.8 1017.6h0M146.9 983.6h0M146.6 1018.1h0M146.5 1021.9h0M147.1 982h0M147.7 1017.4h0M148.7 977.1h0M148.2 1018.2h0M149.8 973.5h0M149.4 1018.7h0M149.5 1021.1h0M150.3 971h0M150.9 1019.2h0M149.8 969.4h0M152 969.5h0M151.3 1018.6h0M152.5 969.7h0M152.6 1019.3h0M152 967.1h0M153.1 970.6h0M153.7 1017.9h0M154.6 972.1h0M154.7 1017.1h0M155.7 974.8h0M155.3 1017.1h0M156.9 978.6h0M156.9 1016h0M157.8 976.6h0M157.8 1017.5h0M158.6 972.8h0M158.8 1017.8h0M159.1 970.3h0M159.1 1018.3h0M160.9 968h0M160.1 1019.3h0M160.5 1020.5h0M161 968.2h0M161.5 1020.1h0M161.4 966.3h0M161.6 963.7h0M162 960.8h0M161.4 958.1h0M162.5 968h0M162.2 1021.4h0M162.6 966.6h0M164 970.1h0M163.4 1020.6h0M164.6 971.7h0M164.7 1020.5h0M164.2 968.2h0M164.3 965.4h0M164 962.3h0M164.2 959.1h0M164.3 957.1h0M164.3 954.7h0M165.9 970.8h0M165.7 1019.8h0M166.8 970.6h0M166.2 1020.6h0M167.5 968.3h0M167.8 1019.9h0M167.3 966.1h0M168.9 966.9h0M168.5 1020h0M169.9 965.3h0M170 1019.2h0M171 965.5h0M170.6 1017.9h0M170.7 954.3h0M171.3 966.7h0M171.4 1017.1h0M171.5 1019.1h0M172.5 968.9h0M172.7 1016.8h0M172.5 1016.9h0M173.8 969.6h0M173.9 1015.8h0M173.5 1016.7h0M175 971.1h0M174.8 1015.2h0M174.8 968.1h0M174.3 965.4h0M175.2 969.7h0M175.4 1015.9h0M175.5 1015.7h0M176.5 964.7h0M176.8 1015.7h0M177.2 962.9h0M176.5 1016.2h0M177.4 960.1h0M177.5 1015.8h0M177.2 954.5h0M177.7 958.5h0M178 955.7h0M178.1 957.9h0M178.9 1015h0M178.2 954.7h0M178.5 952.7h0M178.9 950.5h0M178.5 1016.9h0M179 955.9h0M179.7 1014.6h0M179.3 951.2h0M179.5 1016.6h0M181 953.1h0M180.1 1014.6h0M180.7 951.7h0M180.5 1015.3h0M181.3 952.9h0M181.9 1012.8h0M182.1 952.2h0M182.1 1011.6h0M182.5 1013.2h0M183.3 950.5h0M183.3 1011h0M183.5 1017.2h0M184.7 949.7h0M184.2 1010.9h0M185.9 948h0M186 1011.4h0M187 945.3h0M186 1012.3h0M186.4 943.9h0M186.4 941.4h0M186.8 938.2h0M187.3 943.7h0M187.6 1013.5h0M187.8 932.7h0M188.2 939.3h0M188.8 1013.9h0M189.6 934.8h0M189.6 1015h0M190.6 932.3h0M190.6 1015.4h0M191.7 933.7h0M191.3 1014.7h0M192.9 935.6h0M192.9 1014h0M192.6 933h0M192.8 930.7h0M193 927.7h0M192.7 924.5h0M193.1 939.5h0M193.4 1013.3h0M194.7 940h0M194.5 1013.2h0M195.8 938.8h0M195.4 1011.9h0M196.9 936.5h0M196.9 1012.6h0M196.6 935.2h0M196.3 932.3h0M197.6 937h0M197.9 1011.4h0M197.5 1012.8h0M198.1 936.6h0M198.6 1010.1h0M198.9 935.2h0M198.8 932.3h0M198.4 929.9h0M198.8 927.8h0M200 939.9h0M199.6 1009.2h0M200.8 943.5h0M200.8 1008.3h0M201.5 947.4h0M201.1 1008.4h0M202.6 947.5h0M202.9 1008.3h0M203.9 945.8h0M203.7 1008.3h0M203.4 944h0M203.1 942h0M203 939.9h0M202.9 937.1h0M203.5 1008.5h0M204.7 946.8h0M204.5 1006.5h0M205.2 947.2h0M205.6 1006.2h0M205.3 943.7h0M205.9 940.6h0M207 948.5h0M206.3 1005.3h0M207.8 949.3h0M207.4 1004.1h0M207.2 948.1h0M207.4 945h0M208.9 951.2h0M208.2 1003.7h0M209.5 953h0M209.7 1004.4h0M210.4 956.7h0M210.4 1006.9h0M211.2 962.5h0M211.4 1008.9h0M211.6 959.3h0M211.7 956.7h0M211.9 953.6h0M211.7 951.5h0M212.4 967.9h0M212.9 1011h0M213.7 969.1h0M213 1009.9h0M214.1 967.6h0M215 1007.9h0M215.7 966.2h0M215.8 1005.6h0M216.5 966.3h0M216.4 1004.2h0M216.4 956.6h0M216.5 1006.9h0M217.4 958.8h0M217.6 1002.3h0M217.2 957.4h0M218.6 955.7h0M218.7 1000.8h0M219.5 949h0M219.1 1000h0M219.4 945.6h0M219.3 947.8h0M219.7 944.9h0M219.8 942.9h0M219.2 940.2h0M219.3 937.5h0M219.3 935.1h0M219.7 932.3h0M219.5 1002.9h0M220.7 946.5h0M220.9 999.3h0M220.5 938.3h0M221.6 942.5h0M221.9 996.5h0M221.5 1019.8h0M222.9 937.5h0M222.9 992.5h0M222.5 993.2h0M224 931.7h0M223.9 989.3h0M224.2 929.4h0M224.4 927.1h0M223.7 924.4h0M223.7 922.1h0M224 919.5h0M223.5 996.1h0M224.3 931.6h0M224.1 989.4h0M224.2 930.1h0M224 927h0M224.6 924.1h0M224.3 920.9h0M224.2 918.9h0M225.3 935.4h0M225.8 992.6h0M226.5 938.5h0M226.8 995.5h0M227.8 940.9h0M228 999.4h0M227.6 938.9h0M227.7 936.6h0M228.1 934.2h0M227.5 931.1h0M227.9 928.9h0M228.1 926.6h0M227.5 923.9h0M227.9 921.1h0M228.9 945.3h0M228.1 999.6h0M229.5 951h0M229.9 999.6h0M229.5 1001.8h0M230.6 955h0M230.7 1000.6h0M231 958.4h0M231.7 1001.6h0M231.5 1003.2h0M232.6 960h0M232.6 999.8h0M233.8 961.3h0M233.1 999h0M233.5 999.9h0M234.2 961.4h0M234.6 998.4h0M234.6 958.4h0M235.6 956.8h0M235.3 998.5h0M237 949.3h0M236.6 998.7h0M237.7 943h0M238 998.1h0M238 933.8h0M238.1 997.2h0M238.9 931.4h0M239.7 932.5h0M239.8 996h0M240.5 934.5h0M240.3 995.2h0M241.9 938.1h0M241.9 995.5h0M242.1 941.1h0M242.6 994.5h0M243.1 942.8h0M243.4 993h0M242.8 941.3h0M242.8 938.4h0M244.8 946h0M244.3 991.6h0M245.8 946.4h0M245.8 990.1h0M245.7 944.2h0M246.3 941.6h0M246.3 946.3h0M246.7 987.6h0M246.7 942.1h0M247 943.4h0M246.9 940.4h0M246.3 938.2h0M246.5 988.3h0M247.8 942.2h0M247.2 986.4h0M247.6 938.9h0M247 936.7h0M247.5 990.1h0M248.6 937h0M248.1 985.8h0M249 931.4h0M249.1 984.9h0M249.5 985.6h0M250.2 924.8h0M250 982.3h0M250.3 921.6h0M251.6 915.4h0M252 978.7h0M252.6 904.8h0M253 974.9h0M253.1 902.6h0M253 893h0M253.8 970.4h0M254.2 891.7h0M254.1 878.1h0M254.3 967.3h0M254.4 875.2h0M254.7 873h0M255.9 862.2h0M255.8 965.1h0M256.9 850.9h0M256.2 963.2h0M257.1 843.2h0M257.7 962.5h0M258.2 838.8h0M258.4 961.4h0M259.3 844.3h0M259.8 962.5h0M259.8 841.6h0M259.8 838.6h0M259.4 835.5h0M259.7 832.8h0M259.4 830.3h0M259.1 827.8h0M259.2 825h0M260.9 849.8h0M260.8 962.8h0M260.1 846.7h0M261.2 855.3h0M261.2 964.2h0M262.5 860.8h0M262.9 964.9h0M263.1 857.5h0M262.4 854.4h0M263.5 861.5h0M263.5 966.3h0M264.5 862.9h0M264.2 966.9h0M265.4 862.2h0M265.5 967.5h0M266.4 861.8h0M266.2 968.4h0M266.6 860.2h0M267 862.8h0M267.5 969.6h0M267.5 981.4h0M268.1 867.2h0M268.2 970.1h0M268.8 864.3h0M269.5 869.9h0M269.3 971.8h0M268.7 868.3h0M269.5 866.3h0M268.8 863.7h0M270.6 870.5h0M270.1 973.6h0M270.1 867.9h0M270.5 973.4h0M271.1 868.8h0M271.6 974.6h0M271.6 850.5h0M272.8 866.4h0M272.2 977.3h0M272.8 858.8h0M272.5 863h0M273.4 866.2h0M273.3 979h0M273.5 981.1h0M274.1 875.4h0M274.1 981.5h0M275.6 884.3h0M275 983.2h0M275.6 881.1h0M276.7 893.3h0M277 983.3h0M277.4 901.8h0M277.8 984.1h0M278.2 907.8h0M278.5 985.6h0M279.7 911.4h0M279.1 987.7h0M279.5 994.3h0M280.9 917.1h0M280.8 991h0M281.2 914.8h0M280.9 911.7h0M280.7 908.6h0M280.7 905.6h0M281.4 903.5h0M280.9 900.5h0M281.4 917.8h0M281.9 991h0M281 915.4h0M281.5 913.1h0M282.9 916.5h0M282.9 990.7h0M283.6 917.3h0M283.6 988.4h0M284.8 918.4h0M284.6 987.4h0M285.1 917.3h0M285.9 985.4h0M286.4 915.3h0M286.4 985.5h0M287.8 913.1h0M287.2 985.9h0M288.3 912.7h0M288.8 987.7h0M289.2 911.7h0M289.6 988h0M290.8 912.8h0M290.2 988.1h0M291.1 911.2h0M291.7 989.3h0M291.5 887.1h0M292.5 910.2h0M292.6 990.2h0M292.5 990.4h0M293.4 912.7h0M293.8 991.9h0M294.6 910.7h0M294.9 993.7h0M295.1 911.9h0M295.5 995.3h0M295.5 997.5h0M296.5 913.4h0M296.2 994.5h0M297.4 915.4h0M297.5 994.8h0M298.4 922.7h0M298.4 995.7h0M299.4 926.8h0M299.2 996.5h0M299.2 923.7h0M299.6 921.5h0M299.3 918.8h0M299.5 915.9h0M300.3 930.1h0M300.8 997.8h0M300.5 1000.2h0M301.6 931.1h0M301.9 996.7h0M302 925.9h0M302.5 932.7h0M302.8 995.7h0M304 933.6h0M303.8 994.3h0M303.5 932.4h0M303.5 930.2h0M304.5 936.5h0M304.6 991.8h0M304.5 991.9h0M305.3 935.4h0M305.6 990.2h0M306.3 934.7h0M306.2 991.1h0M307.7 933h0M307.9 991.6h0M308.9 927.1h0M309 990.4h0M309.4 920h0M309.8 987h0M309.5 990.2h0M310.4 913.3h0M310.6 983.5h0M311.5 904.5h0M311.3 980.2h0M312 902.6h0M312 900.3h0M311.8 897.3h0M311.8 894.8h0M311.8 892.1h0M312.4 902.1h0M312.1 979.2h0M313.4 901.9h0M313.8 978.1h0M314.5 903.8h0M314.1 977.8h0M315.3 904.1h0M315.4 978.6h0M316.7 902.4h0M317 978.3h0M316.9 899.9h0M317.1 896.9h0M316.8 894.8h0M317.6 899.2h0M317.7 977.7h0M316.9 897.7h0M317 895.4h0M316.7 892.7h0M317.3 890.6h0M317 888.3h0M318.6 900.4h0M318 976.1h0M319 897.1h0M319.1 901.2h0M319.3 974.2h0M320.8 903.5h0M321 974.4h0M321 901.4h0M320.5 975.4h0M321.1 905.9h0M321.4 973.3h0M321.5 974.4h0M322.8 908.4h0M322.6 973.9h0M322.7 904.8h0M322.8 902h0M322.9 899.6h0M322.5 897h0M323.2 903.9h0M323.9 973.3h0M323.3 901.4h0M323.8 898.4h0M323.4 896h0M324 898.1h0M324.2 972.8h0M324.8 896.4h0M325.3 895.8h0M325.7 972.3h0M326 891.7h0M326.2 972.2h0M326.9 889.1h0M327.6 887.4h0M327.2 970.2h0M327.5 975.1h0M328.6 884h0M328.7 967.7h0M329.9 878.2h0M329.9 966.7h0M329.5 969.3h0M330.3 876.2h0M330.3 965.1h0M331.6 876.1h0M331.6 966.4h0M331.3 873.9h0M331.8 871.3h0M331.6 869.3h0M332.8 877.9h0M332.5 967.7h0M333 874.9h0M332.5 872.1h0M332 875.2h0M333.5 880h0M333.7 968.6h0M334.1 876.7h0M334.1 968.3h0M335.6 868.4h0M335.4 966h0M335.5 966.7h0M336.8 861.5h0M336.6 963.8h0M337.1 858.2h0M337.1 850h0M337.8 963.5h0M338.7 843.8h0M338.4 961.9h0M338.5 961.9h0M339 838.6h0M339.6 959.7h0M340.3 831h0M340.7 958.1h0M340.5 828.7h0M341 826.4h0M341 823.5h0M340.5 962.1h0M341.1 830.9h0M341.5 958.1h0M342.2 829.6h0M342.2 959.3h0M342.5 827.6h0M343 824.7h0M342.6 822h0M343.2 819.3h0M342.7 817.2h0M342.6 814.6h0M343.1 812.3h0M343 809.3h0M343.4 832.9h0M343.8 960.4h0M344.2 830.7h0M344.3 828.2h0M344.6 836.7h0M344.6 962.3h0M345.8 842.3h0M345.4 965.2h0M344.9 840.9h0M346.1 858.2h0M346.9 968.6h0M347.2 871.5h0M347.9 972h0M348 875.1h0M348.9 977.7h0M350 879.4h0M349.7 981.5h0M350.3 884.3h0M350.7 984.1h0M350.9 871.1h0M351.9 893.1h0M351.9 983.3h0M352.3 901.6h0M352.8 983.4h0M354 906.8h0M353.6 982.9h0M354.2 909.6h0M355 981.7h0M354.9 908.4h0M355 905.3h0M354.8 902.5h0M354.4 899.4h0M355 896.7h0M355.4 913.8h0M355.3 981.5h0M355.8 902.7h0M356.9 917.3h0M356 982.6h0M356.3 914.7h0M356.5 912.4h0M356.7 909.3h0M356.7 906.7h0M356.6 904.5h0M356.7 902h0M356.4 898.9h0M356.7 896.8h0M357.9 915h0M357.3 983.1h0M357.4 913.2h0M357.4 910.6h0M357.2 908.5h0M357.1 906.5h0M357.4 904.1h0M357.4 902.1h0M357.1 899.7h0M357.2 896.9h0M358.4 914.1h0M358.3 981.6h0M360 906.4h0M359.3 979.4h0M359.6 904.8h0M359.5 979.8h0M360.6 900.7h0M360.6 976.4h0M361.6 893h0M362 975h0M361.7 881.7h0M362.4 878.3h0M363 973.5h0M362.4 876.4h0M363.4 865.5h0M363.2 972.4h0M363.6 853.4h0M364.1 863.6h0M364.4 857.4h0M364.5 970.5h0M364.4 848.9h0M364.5 855.6h0M364.2 852.6h0M364.6 850.3h0M364.7 847.9h0M364.8 845.8h0M364.6 843.6h0M365.8 853.2h0M365 970.8h0M366.7 849.6h0M366.2 969.8h0M366.9 842h0M366.4 841.3h0M366.5 971.8h0M367.4 848.9h0M367.6 969.4h0M367.7 845.4h0M369 846h0M368.4 969.9h0M369.4 847.7h0M369.8 971.5h0M369.5 971.6h0M370.7 849.8h0M370.4 972h0M370.5 975.5h0M371.1 852h0M371.2 972.6h0M371.1 844.1h0M371.5 974.8h0M372.2 860.2h0M372.9 972.8h0M372.5 857.2h0M372.2 854h0M373.7 866h0M374 973.2h0M374.4 872.8h0M374.4 973.6h0M374.5 974.7h0M375.2 877.4h0M375.4 975.2h0M375.6 875.2h0M375.7 872.1h0M375.8 870h0M375.9 867.2h0M376 864.2h0M375.8 861.8h0M375.8 859.1h0M376.9 882.4h0M376.2 976.4h0M376.5 976.3h0M377.2 884.8h0M377.8 975h0M377.2 875.6h0M378.6 889.3h0M378.1 973.2h0M378.2 887.6h0M378.1 884.8h0M378.5 882.2h0M378.2 879.4h0M377.9 877.1h0M378.3 875.1h0M378.4 873h0M377.9 870.6h0M379.2 889h0M379.3 971.7h0M379.5 971.8h0M380.3 867.7h0M380.3 970.7h0M381.3 856.2h0M381.3 969.2h0M382.9 850.3h0M382.3 967.3h0M383.3 844.3h0M384 965.6h0M384.9 843.9h0M384.1 963.7h0M385.3 844.1h0M385.6 963.3h0M385.5 966.9h0M386.3 845.8h0M386.6 963.2h0M386.2 843.5h0M387.9 846.5h0M387.7 962.3h0M389 846.4h0M389 962.4h0M389.2 850.7h0M389.2 961.9h0M390.6 853.4h0M390.2 963h0M390.5 963h0M391.7 854.9h0M392 963h0M392.9 859.4h0M392.1 964.5h0M392.2 856.8h0M392.2 854.8h0M391.8 851.8h0M392 848.8h0M392.5 965.3h0M393.6 864.8h0M393.9 965.4h0M394.7 862.8h0M394 965.9h0M395.5 863.4h0M395.5 967.4h0M395.2 845.7h0M395.2 859.8h0M396.8 861.6h0M396.3 966.8h0M396.7 859.1h0M397.1 861.5h0M397.4 967.2h0M398.1 858.6h0M398.6 967.5h0M398.8 857.4h0M399.3 854h0M399.6 967.4h0M399.5 971.3h0M400.1 847.8h0M400.8 967.8h0M400.5 845.6h0M400.9 843.6h0M401.1 841h0M400.8 838.3h0M400.6 835.6h0M401.2 832.5h0M400.5 829.9h0M400.5 827.7h0M401.1 842.9h0M401.6 967.5h0M402.3 841.8h0M402.2 968.5h0M403.5 839.5h0M403.2 968.7h0M402.8 838.4h0M403.2 836.1h0M403.2 833.9h0M403.5 978h0M404.6 841.7h0M404.7 971.4h0M404.5 972h0M405.4 843.5h0M405.8 972h0M405.5 976h0M407 847.3h0M406.1 972.8h0M406.7 845h0M406.1 842h0M407.4 853.1h0M407 973.7h0M407.8 850h0M407.6 847.2h0M408.2 857.4h0M408.2 974.4h0M409.9 862.5h0M409.6 975h0M409.7 854.3h0M410.6 864.9h0M410.4 976.4h0M411.3 871.3h0M411.5 976.4h0M411.1 863.7h0M412.2 876.2h0M412.9 977.4h0M412.9 872.4h0M414 880.5h0M413.5 978.3h0M414.8 884.8h0M414.7 979.5h0M414.5 981.4h0M415.9 885.9h0M415.8 980.7h0M416 884.6h0M416.2 881.5h0M416.1 879.4h0M415.7 876.6h0M415.7 874h0M415.5 982.8h0M416.9 889.5h0M416.9 982h0M416.5 882.3h0M416.2 888.1h0M416 885.7h0M415.9 883h0M416.1 880.9h0M417.2 892.7h0M417.2 982.7h0M418.2 893.4h0M418.5 982.2h0M419.9 895h0M419.7 981.3h0M420.8 891.6h0M420.1 978.6h0M421.1 888.9h0M421.6 978.6h0M421.5 979.5h0M422.7 889.6h0M422.8 980h0M422.5 981.9h0M423 890.6h0M423 982h0M424.9 893.5h0M424.3 983.3h0M424.4 891.4h0M423.8 889.3h0M424.5 985h0M425 897.9h0M425.1 985.3h0M426.7 900.8h0M426.5 987.3h0M427.6 899.9h0M427.7 988.1h0M428.8 900.8h0M428.6 989.3h0M429.1 899.4h0M428.8 896.9h0M429 905.3h0M429.8 990.4h0M430.4 905.9h0M431 991.9h0M431.9 907.8h0M431.4 993.3h0M433 908.1h0M432.2 994.4h0M433.2 903.6h0M433.3 994.9h0M434.6 899.1h0M434.7 996.1h0M434.6 897.2h0M434.5 895.2h0M435.8 902.2h0M435.5 996.3h0M435.1 900.1h0M435.5 998.6h0M436.4 906.9h0M436.4 995.2h0M437.8 912.8h0M437.1 994.8h0M436.8 910h0M436.7 907.1h0M437.4 904.1h0M437.5 994.9h0M438.9 919.6h0M438.9 993.4h0M439.5 927.6h0M439.2 991.7h0M440.9 919.5h0M440.2 989h0M441.3 908.5h0M441.6 987.7h0M442.4 895.9h0M442.7 985h0M443 893.9h0M442.6 891h0M442.9 888.4h0M442.2 885.9h0M442.2 883.7h0M443 880.6h0M442.5 986.4h0M443.5 891.6h0M443.9 984.9h0M443.5 988.8h0M444.2 888.1h0M444.7 984.3h0M445 885.2h0M445.9 983.6h0M445.9 881.7h0M445.5 878.5h0M445.3 876.3h0M445.5 986.8h0M446.1 880.4h0M446.1 982.9h0M446.5 877.8h0M446.6 875.7h0M446.9 873.3h0M447.2 877.3h0M447.9 981.3h0M448.9 864h0M448.6 978.9h0M449.8 851h0M449.2 977h0M450.5 836.6h0M450.3 974.4h0M450.3 833.7h0M450.6 831.6h0M450.7 829.3h0M451.1 817.4h0M451.3 972.6h0M451.5 979.1h0M452.2 813.3h0M452.7 972.5h0M453.1 813.6h0M453.3 972.3h0M453.8 811.8h0M453.5 809h0M453.3 805.9h0M453.2 803.8h0M453.5 801.8h0M454.5 817.5h0M454.9 976.3h0M454.7 814.5h0M455 812.1h0M454.5 976.7h0M455.6 819.7h0M455.4 980.4h0M455.9 816.6h0M456.1 814.5h0M455.7 811.6h0M456.9 828.4h0M456.9 986.1h0M456.5 986.8h0M457.9 846.7h0M457.6 990.4h0M458.8 863.1h0M458.5 990.8h0M459.9 879.3h0M459 990.8h0M459.5 991.7h0M460.8 884.1h0M460.1 992.2h0M461.1 889.8h0M461.7 993.6h0M461.5 997.1h0M462.5 886.5h0M462.3 995.3h0M463.9 875.7h0M463.5 996.5h0M464.9 872.5h0M464 998.2h0M465.7 873.2h0M465.2 999.3h0M466.5 873.3h0M466.1 1000.4h0M467.3 874.8h0M467 1002h0M467.7 869.4h0M468.5 880h0M468.5 1003.9h0M470 886.8h0M469.2 1005.3h0M469.7 883.9h0M469.3 884.2h0M469.2 882h0M470.3 892.9h0M470.6 1005.6h0M471.6 899.6h0M471.6 1006.7h0M471.6 898.3h0M471.8 896h0M472.5 907.9h0M472 1005.6h0M472.5 1007.9h0M473.7 913.8h0M473.2 1006.2h0M473.2 910.9h0M472.9 908.4h0M473.2 906.3h0M473 904h0M473.5 901.8h0M473.6 899.4h0M473.1 896.6h0M474.6 915.3h0M474.4 1006.2h0M475.5 898.7h0M476 1005.4h0M476.1 895.7h0M475.6 893h0M476.5 874h0M476.1 1003.7h0M477 861.3h0M477.6 1002.4h0M478.8 880.1h0M478.2 999.5h0M479.7 869.1h0M479.2 997.3h0M479.9 866.1h0M481 843.1h0M480.2 995h0M481.4 842.1h0M481.8 992.6h0M481 823.8h0M482.8 837.4h0M482.1 992.9h0M482.3 835.7h0M482 832.8h0M481.8 829.7h0M482.3 826.7h0M482.1 824.2h0M481.9 821.3h0M482.5 995.2h0M483.3 836.1h0M483.6 993.6h0M484.2 842h0M484.9 995.6h0M485.5 849.5h0M485.5 995.5h0M486 857.7h0M486.1 996.1h0M486.5 998.9h0M487.9 862.8h0M487.3 996.4h0M487.5 997.6h0M488.8 866.2h0M488.6 997.6h0M489.2 862.8h0M489.2 866.7h0M489.5 996h0M489.2 860h0M490.8 863.5h0M490.8 995.6h0M490.5 861h0M490.5 857.8h0M490.9 855.1h0M490.6 852.2h0M491.4 853.7h0M491.1 994.8h0M491.6 852.3h0M492.6 847.2h0M492.4 993h0M492.3 844.6h0M493.3 840.4h0M493.1 990.2h0M494.1 830.7h0M494.4 987.7h0M494.2 824.7h0M495.7 819.6h0M495.5 985.3h0M496 817.7h0M496.1 814.9h0M496 812.1h0M496.1 809.6h0M496.2 806.5h0M495.5 989.3h0M496.1 810.6h0M496.2 974.5h0M497.8 806.1h0M497.4 956.3h0M498.4 801.7h0M498.1 939h0M498.5 939.7h0M499.7 798.1h0M499.9 937.2h0M499.5 939.5h0M500.6 792.8h0M500.5 934h0M500.5 759.5h0M502 793.3h0M501.5 931.4h0M502.7 793.1h0M502.8 936.8h0M502.2 791.9h0M502 789.6h0M504 794.9h0M503.9 961h0M503.5 966.6h0M504 804.5h0M504.5 986.4h0M505 816.4h0M505.5 992.4h0M506.7 849.4h0M506.9 996.6h0M507.7 867.9h0M507.6 1001.6h0M507.6 866.4h0M508.1 863.4h0M507.5 1001.7h0M508.8 876.8h0M508.7 1004.2h0M508.3 867.2h0M509.4 876.1h0M509.5 1003.7h0M510.7 875.1h0M510.2 1002.8h0M510.7 868.3h0M511.1 873.4h0M511.3 876.7h0M511.5 1001h0M511.5 1004.3h0M512.3 876.6h0M512.8 999.7h0M512.1 873h0M512 870h0M513.5 875h0M513.2 999.2h0M514.9 875.7h0M514.9 999.4h0M514.4 874.1h0M514 871.5h0M514 869.1h0M514.5 1001.1h0M515.5 877.2h0M515.7 998.2h0M516.2 875.9h0M516.5 999.3h0M516.5 873.9h0M516.9 870.9h0M517.1 882.1h0M517 999.7h0M517.3 880.4h0M517.6 877.6h0M517.9 875.1h0M517.2 872.5h0M518 869.6h0M518.4 891.3h0M518.9 1000.9h0M518.4 889.1h0M518.5 886h0M519.1 899.7h0M519.2 1001.9h0M519.4 892.2h0M519.6 896.8h0M520 894.6h0M521 901.6h0M520.7 1003.8h0M520 899.2h0M520.1 896.5h0M520.4 893.8h0M520.1 891.8h0M520.5 889.1h0M520.4 887h0M520.5 1006.2h0M521.8 901.8h0M521.5 1005.4h0M522.1 906.2h0M522.8 1007.1h0M523.2 912.4h0M523.6 1006.2h0M523.5 1009.6h0M525 919.2h0M524.1 1006.8h0M525.6 922.7h0M525.2 1007h0M525.9 912.1h0M525.5 1009.6h0M526.5 924h0M527 1007.8h0M527.9 922.7h0M527.2 1007.2h0M527.5 1008.4h0M528.4 931.5h0M528.7 1007.1h0M528.2 929.3h0M528.5 926.9h0M529.5 942.6h0M529.3 1007h0M530.6 947.5h0M530.7 1008.7h0M531 951h0M531.4 1010.4h0M531.5 1013.3h0M532.5 954.7h0M532.8 1012.3h0M533.7 955.9h0M533.1 1012h0M533.7 948.5h0M534.5 953h0M534.7 1012.3h0M534.4 949.8h0M535.9 944h0M535.2 1010.7h0M535.5 1010.5h0M536.7 941.3h0M536.6 1007.1h0M537.8 911.7h0M537.5 1005.2h0M538.7 836.3h0M538.9 1003.7h0M539.2 833.5h0M539.1 1004.1h0M540.8 841.1h0M540.3 1003.2h0M540.5 1010.6h0M541.3 852.9h0M541.9 1003.3h0M541.2 849.9h0M541.5 1008.8h0M542.8 858.7h0M542 1001.2h0M542 856.6h0M542.9 856.7h0M542.8 854.1h0M542.7 851.6h0M543.5 851.1h0M543.6 998.3h0M543.4 848.6h0M543.6 846.6h0M544 844.3h0M543.9 841.5h0M544 838.5h0M543.7 836.3h0M543.5 834.1h0M543.5 998.8h0M544.3 842.9h0M544 994.7h0M545.8 834.7h0M545.3 991.4h0M546.3 825.5h0M546.8 991.9h0M547.6 819.9h0M547.2 993.1h0M549 829.7h0M548.9 995.3h0M549.3 840.4h0M549.3 997.4h0M549.9 836.1h0M550.4 858.9h0M550.7 999.5h0M551.5 883.8h0M551.9 1003.6h0M552.3 889.7h0M552.2 1005h0M552.7 886.9h0M552.5 1006.3h0M553.7 890h0M553.5 1005.2h0M554.1 888h0M554 885.8h0M553.6 883.3h0M554 880.4h0M554 877.9h0M553.5 1008.6h0M554.5 886.1h0M555 1006.2h0M554.5 1007.5h0M555.9 864.6h0M555.4 1005.5h0M556.5 854.3h0M556.2 1003h0M556.9 851.2h0M556.5 1007.5h0M557.9 850.5h0M557.7 1001.2h0M557.1 848.1h0M558.4 847.7h0M558.6 999.7h0M558.2 844.8h0M558.6 841.6h0M558.3 838.9h0M558.5 836.7h0M558.2 833.6h0M558.5 999.8h0M559.1 847.6h0M559.4 996.7h0M560.7 847.8h0M560.9 994.1h0M561.3 836.3h0M561.7 991.1h0M561.3 834h0M561.4 831.2h0M561.6 828.7h0M562.8 815.3h0M563 988.9h0M562.6 813.6h0M562.8 811.2h0M563.2 808.8h0M562.6 806.6h0M562.8 804.4h0M563.3 801.2h0M563.2 798.7h0M563.1 796.2h0M563.5 797.4h0M563.8 985.2h0M564.9 786.6h0M564 978.7h0M564.4 784.5h0M565.4 777.1h0M565.6 971.3h0M566.4 765.8h0M566.3 964.6h0M566.5 763h0M567.2 754.2h0M567.4 963.1h0M568.2 751.7h0M568 748.9h0M567.7 746.5h0M567.8 743.8h0M567.5 965.6h0M568.7 743.6h0M568.1 963h0M568.1 740.8h0M567.9 738.3h0M567.7 736.1h0M569.1 741.3h0M569.5 962.3h0M569.5 963.9h0M570.1 742.3h0M571 963.5h0M570.5 964.4h0M571.8 742.3h0M572 963.3h0M572.5 749h0M572.2 964.6h0M573.6 771.4h0M573.7 966.9h0M573.2 767.3h0M573.4 767.9h0M573.5 765h0M573.5 967.4h0M574 789h0M574.7 974.8h0M574.5 787.6h0M574.8 785.3h0M574.3 782.7h0M575 818h0M575.6 988h0M576.2 847.9h0M576.2 998.9h0M576.5 1000.3h0M577.1 858.8h0M578 1000.6h0M577.3 854.8h0M577.2 855.4h0M577.2 853h0M577.7 850.1h0M577.6 847.6h0M578.5 876.8h0M578.8 1001h0M579.2 909.1h0M579.1 1002.1h0M579.6 905.6h0M579.9 903.5h0M579.1 901.1h0M580.7 922h0M580.3 1003.9h0M580.5 914.9h0M581.3 927.8h0M581.7 1005h0M581.6 924.3h0M581.6 921.9h0M582 908.3h0M582.5 1005.9h0M582.4 902h0M583.2 906.2h0M582.5 903.3h0M582.9 900.5h0M583.1 898.2h0M582.6 895.4h0M583.2 891h0M583.3 1006.1h0M583.1 888.1h0M584.9 876.7h0M584.5 1005.8h0M584.5 1008.2h0M585.8 865.2h0M585.8 1003.6h0M586 854.6h0M586.9 1001.5h0M587.9 843.5h0M587.6 998.8h0M588.7 834.5h0M588.8 987h0M589.6 824.2h0M589.8 974.7h0M590.6 803.9h0M590.9 967.8h0M591.7 781.7h0M591.6 965.5h0M592.6 753.3h0M592.6 969.4h0M592.8 750.6h0M592.6 751.1h0M592.3 748.3h0M592.6 745.7h0M592.6 742.6h0M592.5 969.9h0M593.1 771.8h0M593.3 977.3h0M594.4 797.9h0M594.2 983.9h0M595.5 827.5h0M595.8 991.5h0M596.6 854.4h0M596 997.5h0M597.1 875.5h0M597.8 1004.1h0M598.2 894h0M598.6 1008.8h0M598.4 892.4h0M598.6 890.2h0M598.5 1012.2h0M599.1 914.5h0M599.7 1012.5h0M600.1 918.6h0M600.3 1017.4h0M600.9 916.5h0M600.3 914.1h0M601.6 924h0M601.3 1021.3h0M602.9 929.7h0M602.3 1021.7h0M603.4 937.8h0M603.1 1021.1h0M604.7 968.7h0M604 1020.8h0M604.7 965.2h0M604.8 963h0M604.6 960.2h0M604.9 958h0M604.7 955.5h0M604.5 953.3h0M605.7 968.8h0M605.4 1019.9h0M606.8 967.4h0M606.3 1019.4h0M606.4 957.6h0M607.9 968.2h0M608 1018.7h0M608.2 969.5h0M608.6 1017.9h0M608.1 967.5h0M609.4 966.6h0M609.4 1017.7h0M609.7 963.8h0M610.1 961.1h0M610.2 961.4h0M610.4 1017.5h0M610.3 957.9h0M610.5 1022.8h0M611.5 952.5h0M611.1 1016.6h0M611.9 950.7h0M612.2 944.5h0M612.3 1014.6h0M613 942.2h0M613.7 1013.9h0M613.5 1026.9h0M614.6 941.5h0M614.8 1012.4h0M615.7 931.5h0M615.2 1011.1h0M616.9 908.2h0M616.1 1011.8h0M617.6 899.4h0M617.6 1014h0M617.3 897.7h0M617.4 895.1h0M618.4 893.6h0M618.5 1015.3h0M619.8 890.2h0M619.2 1016.1h0M619 886.9h0M619.8 889.1h0M619.8 886.2h0M619.9 884h0M620.5 890.7h0M620.7 1014.1h0M620.5 1016.1h0M621.3 891.3h0M622 1013.4h0M622 890.1h0M622.5 893.1h0M622.6 1012.8h0M623.9 893.7h0M623.6 1012.7h0M623.1 887.3h0M623.3 890.8h0M623.3 888h0M623.4 885.5h0M623.1 883.3h0M623.6 880.6h0M623.5 877.8h0M623.3 875.7h0M623.1 873.1h0M623.5 1014.8h0M624.7 892.3h0M624.1 1012.8h0M624.9 890.5h0M625.2 893.6h0M625.5 1014.2h0M626.5 894.6h0M626.5 1016h0M626.5 1017.9h0M627.4 899.9h0M627.9 1017.3h0M628.1 905.8h0M628.7 1017.6h0M628.2 896.7h0M629.2 921.3h0M629.4 1017.1h0M629.7 918.6h0M630 931.6h0M630.3 1016.9h0M630.9 928.4h0M631.2 926.3h0M631.2 923.9h0M630.9 921h0M630.9 917.9h0M630.8 915.5h0M630.8 912.7h0M631 932.2h0M631.7 1018h0M631.2 930h0M631.3 928h0M632.4 933.7h0M632.7 1016.2h0M633 932.5h0M632.6 930.3h0M633 928.2h0M633.8 939.5h0M633.2 1013.3h0M633.5 1014.2h0M634.9 932.2h0M634.8 1010.9h0M634.3 929.5h0M634.1 927.4h0M636 922.6h0M635.5 1008.3h0M636.7 914.8h0M636.4 1005.1h0M637.3 911.3h0M637 908.7h0M636.7 906h0M636.7 903.6h0M636.8 900.5h0M637.3 898.2h0M636.6 895h0M637.6 907.2h0M637.7 1002.3h0M638.2 901.9h0M638.1 1000h0M639.4 810.8h0M639.4 997.4h0M639.5 999.1h0M641 751.9h0M640.5 993.7h0M640.5 995.7h0M641.3 767.3h0M641.9 990.2h0M642.9 779.5h0M642.8 990h0M642 775h0M643.8 786h0M643.9 990.2h0M643.8 779.9h0M644.9 793.3h0M644.9 992.1h0M645.2 801.9h0M645.3 994h0M646.3 808h0M646.6 996h0M647.2 815h0M647.7 998h0M648.4 810.6h0M648.9 1000.7h0M648.4 808.5h0M649.3 803.1h0M649.9 1003.8h0M651 795.1h0M650.5 1004.9h0M650.3 792h0M651.9 786.8h0M651.5 1006.2h0M651.3 784.2h0M651.6 781.6h0M652.3 778.6h0M653 1001.8h0M653.2 776.9h0M652.8 774.1h0M653 771h0M653.2 767.3h0M653.8 994.3h0M653.9 764.1h0M654.4 754.6h0M654.4 987.5h0M655.4 741.7h0M655.9 985.2h0M655.9 735.6h0M656.8 738.5h0M656.8 982.6h0M657.2 739.7h0M657.5 985.3h0M658.2 744.1h0M658.1 990.3h0M659.3 753.5h0M659.1 993.4h0M659.6 748.3h0M658.7 750h0M659.2 746.9h0M660.5 757.2h0M660.9 995.5h0M661 755h0M661.4 996.8h0M662.6 753h0M662.2 997.4h0M662.6 741.9h0M663.4 752.4h0M663.8 998.6h0M663.5 750.6h0M663.5 748.1h0M664.7 752.8h0M664.8 1000h0M664.3 747.8h0M664.8 750.8h0M665.8 754.1h0M665.7 999.9h0M666.8 775.3h0M666.5 1004.5h0M667.4 804.4h0M667.6 1007.8h0M668 802.4h0M668.8 852.3h0M668.1 1009.3h0M669.9 878.4h0M669.7 1011.6h0M669.6 873.3h0M670.2 881.9h0M670.8 1013.8h0M671.7 902.3h0M671.9 1014.3h0M672 924.9h0M672.9 1014.1h0M673.1 929h0M673.9 1014.5h0M674 927.6h0M674.2 1012h0M674.5 1012.9h0M675.6 873.4h0M675.5 1007.7h0M676.9 818.3h0M676.6 1002.5h0M677.5 800.7h0M677.8 998.1h0M678.8 792.4h0M678.8 991.5h0M678.1 790.7h0M678.4 787.7h0M679.6 790h0M679.7 989.3h0M679 784.6h0M680.3 798.4h0M680.4 988.4h0M680.4 796.5h0M680.7 793.3h0M680.6 790.8h0M681.5 809.7h0M681.3 988.3h0M682.9 824.4h0M682.9 992.2h0M682.4 821.8h0M682.3 818.8h0M683.1 837.6h0M683.5 996.1h0M683.3 828.6h0M684.4 854.6h0M684.3 999.7h0M685.6 874.4h0M685.6 1002.7h0M686.8 890.3h0M686.5 1003.7h0M686.2 883.7h0M686.2 888.6h0M687.1 907h0M687.1 1004.7h0M687 905.1h0M689 909.4h0M688.6 1006.4h0M689.2 908h0M688.7 905.8h0M688.9 903.5h0M689.3 901.5h0M689.4 907.4h0M689.3 1007.7h0M689.6 903.2h0M690.4 905.1h0M690.6 1007.4h0M690.6 902.5h0M690.8 902.6h0M691.7 900.8h0M691.5 1008h0M692.8 892h0M692.3 1009.2h0M693.5 881.1h0M693.2 1008.5h0M693.3 879.3h0M693.8 876.9h0M693.7 874h0M694.9 873.3h0M694.2 1008.8h0M695.8 874h0M695.2 1009.2h0M696.3 874.4h0M696.7 1009.8h0M696.7 873.2h0M696.5 870.5h0M696.4 867.5h0M697.2 882.9h0M697.1 1010.8h0M697.6 879.6h0M697.5 1019.3h0M698.1 891.9h0M698.9 1012.3h0M699.4 900.1h0M699.4 1013.6h0M699.5 1015.5h0M700.4 912.1h0M700.1 1015.7h0M700.8 899.8h0M700.9 908.5h0M700.4 906.4h0M700.3 903.4h0M700.2 901h0M700.3 898.2h0M700.5 895.1h0M700.2 892.8h0M700.3 890.5h0M701.4 919.7h0M701.7 1015.6h0M701.8 916.6h0M702.1 926.5h0M702.2 1015.4h0M703.2 932.1h0M703.5 1015h0M704.1 937.8h0M704.8 1016.1h0M704.5 1016.8h0M705.8 962.4h0M705.3 1017.1h0M706.6 965.7h0M706.9 1017.4h0M706.5 1019h0M707.7 969.4h0M707.9 1019.3h0M708.7 969.4h0M708.3 1020h0M709.7 970.9h0M709.9 1020.1h0M709.2 962.1h0M710.3 971.4h0M710.9 1019.5h0M711.7 971.2h0M711 1019.5h0M711.7 968h0M712.3 968h0M712.8 1019h0M712.8 966.8h0M712.9 964.3h0M713.1 969.3h0M713.7 1019.7h0M714.3 969.8h0M714.7 1020.8h0M713.7 966.3h0M713.8 963.8h0M714.4 961.5h0M713.8 959.1h0M714.2 957h0M715.4 964.1h0M715.6 1020.8h0M715.1 961.2h0M716.3 953.4h0M716.6 1020h0M715.7 952h0M716 949.3h0M715.8 946.8h0M717.3 945.5h0M717.1 1018.5h0M717.5 1019.7h0M718.1 951.9h0M718.2 1019.8h0M720 961.4h0M719.2 1019.5h0M720.8 963.6h0M720.5 1018.8h0M720.5 1019h0M721.1 965h0M721.6 1018.1h0M721.2 962.2h0M720.8 959.7h0M721.3 957.2h0M722.3 967.2h0M722.8 1018.3h0M722.2 964.1h0M722 961.2h0M721.8 958.3h0M722.1 955.2h0M722.3 952.9h0M722 949.9h0M722.5 1019.9h0M723.2 969.7h0M723.8 1018.2h0M724.2 965.1h0M724.1 1018.2h0M724.5 963.8h0M724.5 1022.3h0M725.5 962.3h0M725.7 1019.3h0M726.6 957.4h0M726.3 1019.6h0M727.1 944.5h0M727.7 1019.4h0M728.3 944.5h0M728.8 1017h0M728.6 941.4h0M728.5 939.1h0M729.3 945.3h0M729.9 1016.4h0M730.8 946.2h0M730.7 1016h0M731.7 949.3h0M731.8 1018h0M731.5 1018.6h0M732.3 946.7h0M732.1 1018h0M733.2 946h0M733.1 1018.7h0M734.1 842h0M734 1017.1h0M734.5 1018.9h0M735.4 790.6h0M735.2 1011.5h0M736.2 789.4h0M736.1 1005.4h0M737.1 790.5h0M737.4 1004.6h0M738.5 793.5h0M738.1 1005.7h0M738.5 791.5h0M738.2 788.9h0M738.5 786h0M738.2 783.3h0M738.7 780.6h0M739.3 818.3h0M739.7 1006.7h0M739 815.5h0M739.3 813.3h0M739.1 811h0M739.5 1010.9h0M740.7 849.7h0M740.2 1008.3h0M740.5 1019.3h0M741.5 851.1h0M741.8 1008.6h0M742.4 849.1h0M742.3 1008.3h0M743.4 835.7h0M743.9 1011.3h0M744.4 815.7h0M744.2 1013.8h0M746 759.1h0M745.7 1015h0M746.6 759h0M746 1015.5h0M747.2 757.9h0M747.7 1017.4h0M746.9 756.7h0M747.5 754.7h0M746.9 751.9h0M747.1 749.7h0M746.8 747.3h0M747.4 744.7h0M746.8 742h0M747.2 739h0M748.2 760h0M748.1 1021.7h0M748.3 750.5h0M749.2 894.9h0M749.5 1021.1h0M750.4 932.2h0M750.5 1022.2h0M750.1 926.9h0M750.5 1026.9h0M751.3 997.2h0M751.3 1022.4h0M752.3 999.1h0M752.3 1022.4h0M752.1 993.4h0M752.2 994.5h0M753.9 998.8h0M753.9 1022.5h0M754.9 997.9h0M754.8 1022.9h0M754.4 996.1h0M754.3 992.8h0M754.5 1023.1h0M755.5 997.2h0M755.1 1022.7h0M755.3 994.7h0M756.7 993h0M756.8 1023.1h0M756.5 1025.7h0M757.9 991.9h0M757.9 1023.2h0M757.6 989h0M757.8 987h0M757.9 984.7h0M757.5 1024.8h0M758.5 990.6h0M758.2 1023.1h0M759.2 996.5h0M759.2 1023h0M759 993.4h0M760.3 999.3h0M760.8 1022.7h0M761.9 1003.1h0M761.8 1022.7h0M762.8 1003h0M762.5 1023.5h0M763.1 1001.4h0M763.9 1023.8h0M764.6 1000.8h0M764.1 1024.8h0M765 998.9h0M765.2 1025.4h0M765.5 1025.4h0M766 997.3h0M766.2 1025h0M767.4 995.4h0M767.1 1025.2h0M768.1 993.8h0M768.7 1025.5h0M769.9 992.3h0M769.7 1025.4h0M769.6 986.9h0M769.5 1026.8h0M771 990h0M770.7 1025.7h0M771.2 985.8h0M771.6 1025.4h0M771.3 982.2h0M771.5 979.3h0M771.3 976.4h0M772.8 980.4h0M772.3 1026.2h0M772.5 1028.6h0M773.1 977.1h0M773.4 1025.7h0M774.3 974.1h0M774.2 1025.6h0M774.5 1026h0M775.1 971.6h0M775.6 1024.3h0M775.7 969.6h0M775.9 966.8h0M775.9 963.8h0M775.5 1024.3h0M776.1 969.9h0M776.4 1022.7h0M776.5 968.3h0M776.1 965.5h0M776.5 963.1h0M776.4 960.6h0M777.6 970.6h0M777 1022.5h0M778.5 970.8h0M778.9 1023.9h0M778.9 969h0M778.5 1025.9h0M779.5 967.5h0M779.3 1024.3h0M779.8 958h0M779.5 966.3h0M780.6 964.6h0M780.9 1025h0M780.5 1025.3h0M781.6 965.1h0M781.3 1025.1h0M782.1 962.5h0M782 968.3h0M782.2 1025.2h0M783.9 973.9h0M783.3 1025h0M783.5 1027.3h0M784.2 978.6h0M784.5 1025.2h0M785.7 983.7h0M785.6 1024.7h0M785.8 980.5h0M786.7 987.5h0M786.7 1024.8h0M786.5 1026.1h0M787.4 986.9h0M787.8 1025h0M787.6 984.1h0M787.1 981.5h0M786.9 979.2h0M787.6 976.9h0M788.1 984.4h0M788.2 1025.4h0M789 982.9h0M789.4 1026.2h0M788.9 981.3h0M788.8 978.9h0M790.6 988.2h0M790.8 1025.8h0M790.5 1030.6h0M791.3 995.1h0M791.7 1025.8h0M791 993h0M792.3 1000.9h0M792.5 1025.6h0M793.6 1002.3h0M793.6 1025.6h0M794.1 1002.2h0M794.8 1026.1h0M795.5 1002.9h0M795.5 1025.9h0M795.6 1000.6h0M795.7 998h0M795.5 1026.6h0M797 1002.6h0M796.6 1026.6h0M797.2 1002.5h0M797.7 1027.3h0M797.3 1000.4h0M797.2 1001.7h0M799 1003.5h0M798.5 1027.5h0M799.4 1004.4h0M800 1026.8h0M799.4 1000.6h0M800.7 1005h0M800.8 1026.3h0M801.7 1005.8h0M801.9 1026.6h0M801.5 1026.5h0M802.7 1005.9h0M802.2 1026h0M802.2 1003.1h0M802.8 1002.9h0M803.1 1003.7h0M803.8 1025.7h0M804.7 1000.5h0M804.7 1025.7h0M805.1 996.6h0M805.1 1026.3h0M806.2 997h0M806.5 1027.1h0M806.1 989.8h0M808 996.6h0M807.8 1028.2h0M807.6 993.3h0M808.4 994.2h0M808.7 1029.4h0M809.6 997.7h0M809.7 1030.8h0M809.6 994.4h0M810.6 1000.4h0M810.2 1030h0M811.6 1003.1h0M811.7 1028.4h0M811.9 1002h0M811.9 999.3h0M811.5 1031.1h0M812.7 1007.4h0M812.2 1028.3h0M813.8 1007.1h0M813.3 1027.9h0M813.5 1004.9h0M814.2 1005.3h0M814.2 1028.2h0M814.5 1030.5h0M815 1006.4h0M815.9 1029h0M816.5 1007.3h0M816.1 1029.5h0M816.9 1002.1h0M817 999.2h0M817.3 1006.9h0M817.5 1030.4h0M817.1 1005.7h0M817.1 1003h0M817.5 1030.7h0M818.7 1007h0M818.6 1031.2h0M819.9 1008h0M819.7 1030.5h0M820.3 1007.2h0M820 1029.3h0M820.5 1031.4h0M822 1008h0M822 1029.2h0M821.3 1006.1h0M822.6 1009.4h0M822.1 1028.8h0M823.7 1008.9h0M823.8 1028.2h0M823.2 1007.8h0M824 1010.8h0M824.5 1028.8h0M824.9 1008.7h0M824.7 1006.7h0M825.3 1010.4h0M825.4 1028.2h0M825.8 1006.7h0M825.8 1008.2h0M825.4 1005.7h0M826 1006.3h0M826.1 1028.5h0M827.4 1004.3h0M827.7 1029.7h0M828.7 1001.6h0M828.9 1030.2h0M828.2 998.9h0M829.5 999.9h0M829.2 1029.6h0M830.3 1004.7h0M830.7 1029.2h0M831 1013.2h0M831.6 1029h0M831.9 1010.3h0M831 1012.4h0M832.8 1020.8h0M832.1 1028.7h0M833.9 1018.9h0M833.4 1028.7h0M833.1 1017.9h0M834.6 1017.6h0M834.7 1028.4h0M835.4 1016.6h0M835.2 1028.4h0M836.9 1015.8h0M836.7 1028.1h0M837.7 1015.9h0M837.5 1028h0M837.9 1014.2h0M837.9 1015h0M838.6 1015.3h0M838.4 1028h0M838.8 1014.2h0M839.6 1014.9h0M839.5 1027.6h0M840.5 1013.4h0M840.1 1027.1h0M841 1011.7h0M841.9 1011.8h0M841.3 1027.2h0M841.3 1010.9h0M843 1010.8h0M842.2 1026.7h0M842.7 1006.6h0M843.7 1010.3h0M843.2 1026.8h0M845 1007.6h0M844.2 1026.7h0M844.5 1004.7h0M844.6 1006.3h0M845.3 1004.7h0M845.7 1027.2h0M845.1 999.2h0M846.7 1001.9h0M847 1026.1h0M846.5 1027.2h0M848 1006h0M847.3 1026.2h0M848.1 1008.6h0M848.6 1026.1h0M849.4 1010.8h0M849.2 1025.9h0M850.5 1012.5h0M850.7 1026.7h0M850.9 1011.6h0M851.5 1014.5h0M851.4 1027h0M851.1 1013.7h0M852.5 1017.7h0M852.5 1027h0M852.5 1016.9h0M853.9 1019.9h0M853.7 1027.2h0M854 1021.2h0M854.1 1027.2h0M855.2 1022.1h0M855.5 1027.4h0M855.2 1020.9h0M855.7 1021.1h0M855.2 1021.2h0M856.1 1021.7h0M856.2 1027.6h0M856.5 1021.4h0M856.1 1018.3h0M857.4 1022h0M857.5 1027.7h0M858.6 1020.6h0M858.7 1027.7h0M858.2 1018.5h0M859.2 1019h0M860 1027.9h0M859.1 1018.4h0M860.4 1017.5h0M860.9 1028.2h0M860.2 1016.6h0M860.5 1013.5h0M861.5 1016.3h0M861.2 1028.7h0M862.9 1016.5h0M862.7 1028.6h0M863.1 1015.7h0M863.1 1028.4h0M864.8 1015.3h0M864.2 1028.7h0M864.3 1012.1h0M864.5 1014.7h0M865.7 1016h0M865.1 1028.7h0M866.5 1016.1h0M866.8 1028.5h0M866.3 1015.4h0M867.8 1017h0M867.5 1028.6h0M867.6 1016.2h0M868.5 1018.6h0M868.4 1028.8h0M868.2 1017.4h0M869.2 1019.5h0M869 1029.6h0M870.3 1020h0M870.1 1029.7h0M871.6 1019.4h0M871.9 1030h0M872.6 1019.3h0M872.2 1030.1h0M872.3 1018.4h0M873.1 1018.7h0M873.6 1030.2h0M874.4 1019.2h0M874.3 1030.3h0M874.8 1017.8h0M876 1018.3h0M875.7 1030.2h0M876 1014.9h0M875.6 1015.5h0M875.1 1016.1h0M876.1 1018.1h0M876.1 1030.3h0M876.8 1016.3h0M877.3 1017h0M877.6 1030.5h0M877.2 1016.1h0M878.7 1017.2h0M878.3 1030.4h0M879.7 1017.7h0M879.6 1030.5h0M879.1 1016.9h0M879.6 1016.9h0M881 1017.9h0M880.2 1030.3h0M880.2 1017.1h0M880.8 1014.8h0M881.1 1018.4h0M881.6 1029.6h0M882.7 1017.4h0M882.3 1029h0M883.6 1017.7h0M883.9 1028.8h0M884.6 1019.5h0M884.3 1028.9h0M885 1020.6h0M885.2 1028.6h0M886.3 1021.3h0M886.2 1028.7h0M886.7 1020.2h0M887.5 1020.9h0M887.7 1028.7h0M888.1 1020.6h0M888.6 1029.2h0M888.3 1019.6h0M889.1 1020h0M889.7 1020.6h0M889.8 1029.6h0M890.1 1019.5h0M889.9 1016.6h0M890.1 1019.8h0M890.8 1029.9h0M890.1 1018.5h0M891.9 1018.2h0M891.2 1029.8h0M891.2 1017.3h0M893 1015.1h0M892.3 1029.9h0M893.3 1011h0M893.5 1030h0M894.7 1007.3h0M894.3 1028.8h0M894.3 1006.1h0M895.2 1004.9h0M895.8 1027.9h0M896.5 1007.9h0M896.9 1027.8h0M896.1 1006.1h0M896.5 1028.8h0M897.8 1010.8h0M897.6 1027.9h0M897 1007.2h0M897.4 1009h0M897.4 1006.7h0M898 1013.1h0M898 1028.7h0M900 1016.6h0M899.2 1029.5h0M900.9 1018.3h0M900.4 1029.8h0M900.8 1017.4h0M901.7 1019.5h0M901.6 1030.2h0M902.5 1021.2h0M902.1 1029.6h0M902.1 1019.9h0M903.3 1021.5h0M903.1 1029.9h0M903.8 1020.9h0M904.4 1022.9h0M904.1 1030h0M905.7 1023.1h0M905.6 1029.9h0M906.3 1023.8h0M906.7 1030.1h0M907.3 1024.2h0M907.6 1030.4h0M908 1023.7h0M908.9 1025.1h0M908.7 1030.7h0M909.7 1025.6h0M910 1031.3h0M911 1026.1h0M910.6 1031.6h0M911.5 1025.5h0M911.9 1031.6h0M911.7 1025h0M912.2 1025.1h0M912.8 1031.3h0M913.9 1023.9h0M913.3 1031.1h0M915 1023.7h0M914.3 1030.8h0M915.1 1023.6h0M915.1 1031.1h0M915.6 1022.6h0M916.8 1023h0M916.3 1030.7h0M916.9 1022.5h0M917.5 1023.1h0M917.7 1030.8h0M918.2 1023h0M918.5 1030.9h0M919.1 1023.1h0M919.4 1031.1h0M920.3 1022.9h0M920.1 1031h0M920.4 1021.6h0M921.4 1021.6h0M921.2 1031.3h0M921.6 1020.9h0M922.3 1021.5h0M922.1 1031.5h0M923.2 1021.4h0M923.1 1031.5h0M923.4 1018.3h0M924.9 1021.2h0M924.5 1031.5h0M925.9 1022.3h0M925.2 1031.3h0M926.2 1023.3h0M926.5 1030.8h0M927 1024.1h0M927.7 1030.6h0M928.3 1025h0M928.6 1030.7h0M928 1023.5h0M929.3 1025.7h0M929.4 1030.8h0M929.3 1024.8h0M929 1025.1h0M930.9 1026.3h0M930.2 1031.3h0M930.1 1025.4h0M931.2 1027.5h0M931.1 1031.4h0M932.4 1027.8h0M932.4 1031.5h0M933.8 1027.7h0M933.4 1031.7h0M933.9 1026.7h0M934.3 1027.4h0M934.8 1031.6h0M935.8 1026.4h0M935.2 1031.3h0M934.9 1025.8h0M936.2 1025.3h0M936.1 1031.2h0M936.7 1024.8h0M936.4 1024.8h0M937.6 1024.5h0M937.6 1031.4h0M938.1 1022.9h0M938.4 1031.5h0M937.6 1022.2h0M939.5 1023.6h0M939.7 1031.7h0M940.9 1023.8h0M940.9 1031.6h0M941.9 1025h0M942 1031.6h0M941.5 1021.8h0M942.6 1026.1h0M942.1 1031.4h0M943 1025.9h0M943.3 1031.7h0M944 1025.5h0M943.5 1023.2h0M944.1 1026.2h0M944.7 1032h0M945.6 1025.6h0M946 1032.1h0M946.7 1025.1h0M946.9 1031.8h0M946.9 1023.6h0M947.7 1024.9h0M947.8 1032h0M948.3 1024.6h0M948.8 1031.7h0M949.5 1025.1h0M949.4 1031.4h0M950.8 1024.9h0M950 1031.5h0M951.4 1024.9h0M951.4 1031.4h0M952.3 1024.7h0M952.5 1031.3h0M953.8 1025.4h0M953.6 1031.4h0M954 1025.3h0M954.4 1031.8h0M954.4 1024.8h0M955.9 1025.2h0M955.1 1032h0M956.7 1025.2h0M956.6 1032.1h0M957.3 1025.1h0M957.4 1032.2h0M958.1 1024.3h0M957.9 1021.4h0M958.5 1025.2h0M958.3 1032h0M959.8 1025.8h0M959.2 1031.9h0M959.6 1024.9h0M960.2 1026.7h0M961 1031.9h0M960.1 1025.7h0M961.9 1026.4h0M961.2 1032h0M962 1025.9h0M962 1026.7h0M962 1032.4h0M962.3 1026.1h0M963.5 1027.3h0M964 1032.8h0M963.2 1026.5h0M964.6 1027.6h0M964.8 1033.3h0M964.4 1027.2h0M965.7 1028.5h0M965.5 1033.3h0M965.8 1027.7h0M966.9 1028.4h0M966.3 1033.3h0M966.4 1027.8h0M967.5 1028.4h0M967 1033.2h0M968.4 1028.3h0M968.6 1033h0M969.9 1028.5h0M969.1 1032.9h0M970.4 1027.5h0M970.5 1032.9h0M971.1 1027.2h0M971.6 1032.9h0M972.3 1027h0M972.3 1032.9h0M973.2 1026.7h0M973.8 1032.9h0M973.3 1026.2h0M974.3 1027.3h0M974.8 1032.9h0M974 1026.4h0M975.8 1027.7h0M975.2 1032.4h0M975.7 1026.8h0M976.8 1027.8h0M976.2 1032.3h0M977.1 1028.1h0M977.6 1032.2h0M978.2 1027.9h0M978.9 1032h0M979.9 1026.8h0M979.2 1032h0M980.7 1026.1h0M980.7 1032.1h0M981.6 1025.7h0M981.8 1032.2h0M982.7 1025.8h0M982.7 1032.2h0M983.6 1025.7h0M983.4 1032.7h0M983.5 1025h0M984.9 1026.2h0M984.3 1032.6h0M985.5 1026.9h0M985.6 1032.5h0M986.2 1026.4h0M986.7 1027.8h0M986.1 1032.4h0M987.6 1027.9h0M987.6 1032.6h0M988 1028.1h0M988.3 1032.8h0M988.4 1027.3h0M989.3 1028.1h0M989.3 1032.8h0M989.9 1026.1h0M990.8 1028.2h0M990.2 1033.1h0M990.5 1027h0M991.2 1028.2h0M991.4 1033h0M992.5 1028.8h0M992.8 1033.1h0M992 1027.9h0M993.4 1028.8h0M993.8 1032.9h0M994.1 1029.1h0M994.5 1033h0M995.8 1028.9h0M995.1 1032.8h0M995 1028.2h0M995.3 1027.8h0M995.7 1028.3h0M996.1 1028.6h0M996.8 1032.4h0M997.1 1028.5h0M998 1032.5h0M998.8 1029.1h0M998 1032.3h0M999.1 1029.3h0M999.4 1032.3h0M999.8 1028.9h0M1000.9 1030h0M1001 1032.2h0M1000.2 1029.1h0M1001.9 1029.9h0M1001.2 1032.4h0M1002.2 1029.1h0M1002.4 1032.1h0M1002.9 1028.4h0M1003.6 1027.9h0M1003.6 1031.9h0M1004.6 1026.9h0M1004 1031.9h0M1004.9 1026.1h0M1004.3 1026h0M1005.7 1025.7h0M1005.3 1032.2h0M1006.6 1024.2h0M1006.8 1032.7h0M1006 1021.9h0M1006.7 1023.2h0M1007.4 1022.4h0M1007.7 1032.9h0M1008.3 1021h0M1008.4 1032.6h0M1008.5 1020.4h0M1008.1 1020.1h0M1009.9 1020.7h0M1009.7 1031.6h0M1011 1021.8h0M1010.2 1031.6h0M1011.7 1024.6h0M1011.6 1031.9h0M1011.6 1023.9h0M1012.8 1027.7h0M1012.2 1032.3h0M1013 1027.1h0M1013.7 1029.1h0M1013.5 1032.3h0M1013.1 1028.2h0M1013.7 1028.4h0M1014.5 1028.7h0M1014.2 1032.3h0M1015.5 1028.7h0M1015.9 1032.2h0M1016.1 1029h0M1016.9 1032.3h0M1017.7 1029.6h0M1017.5 1032.6h0M1016.8 1029.2h0M1018.6 1030.4h0M1018.7 1032.7h0M1018.7 1029.8h0M1019.2 1030.6h0M1019.6 1032.6h0M1020.9 1030.5h0M1020.8 1032.6h0M1021.5 1030.1h0M1021.1 1032.6h0M1022.5 1030.2h0M1023 1032.6h0M1022 1029.3h0M1024 1029.9h0M1023.7 1032.6h0M1025 1029.6h0M1024.8 1032.5h0M1025.9 1029.2h0M1025.6 1032.7h0M1025.9 1029h0M1026.6 1029.4h0M1026.8 1032.9h0M1026.6 1029h0M1027 1029.6h0M1028 1032.9h0M1028.7 1029.3h0M1028.9 1032.9h0M1029.2 1028.6h0M1030 1032.6h0M1030.9 1028.6h0M1030.2 1032.4h0M1031.5 1028.7h0M1031.5 1032.6h0M1032.2 1028.5h0M1032.4 1032.6h0M1032.9 1027.7h0M1033.1 1028.3h0M1033 1032.6h0M1034.1 1028.2h0M1034.8 1032.6h0M1034.9 1027.9h0M1035 1029.1h0M1035.5 1032.3h0M1035.5 1028.3h0M1036.9 1029.4h0M1036.6 1032.3h0M1038 1029.6h0M1037.7 1032.2h0M1038.3 1029.4h0M1039 1032h0M1039.4 1028.9h0M1039.4 1032.1h0M1040.9 1028.3h0M1040.3 1032.1h0M1040.4 1027.4h0M1041.9 1027.5h0M1041.9 1032.3h0M1041.5 1027h0M1042 1027.3h0M1042.8 1032.4h0M1043.1 1026.7h0M1043.3 1032.4h0M1044.2 1027.3h0M1044.4 1032.5h0M1045.1 1026.5h0M1045.7 1027.4h0M1045.8 1032.6h0M1047 1027.6h0M1046.8 1032.6h0M1047.2 1028.1h0M1047.7 1032.8h0M1048.5 1028.6h0M1048.7 1032.5h0M1049.7 1028.3h0M1049.1 1032.5h0M1049.4 1027.9h0M1049 1028h0M1050.3 1028.3h0M1050.4 1032.7h0M1050.7 1027.8h0M1051.9 1028.3h0M1051.4 1032.4h0M1051.1 1027.6h0M1051.4 1025.4h0M1052.6 1028.1h0M1052.2 1032.4h0M1053.2 1028.4h0M1053.9 1032.4h0M1054.7 1028.1h0M1054 1032.6h0M1055.9 1028.3h0M1056 1032.8h0M1056.3 1027.7h0M1056.1 1027.8h0M1056.3 1033.2h0M1057.6 1027.6h0M1057.7 1033.2h0M1058.5 1027.1h0M1058.5 1032.9h0M1058.7 1025.9h0M1058.9 1026.7h0M1059.1 1024.3h0M1059.4 1026.9h0M1059.9 1032.3h0M1060.1 1026.2h0M1060.9 1032.3h0M1061.8 1026.5h0M1061.1 1032.2h0M1061.5 1023.3h0M1062.4 1025.5h0M1062 1032.2h0M1063.7 1026.2h0M1063.3 1032.4h0M1064.9 1026.1h0M1064.3 1032.4h0M1064 1025.7h0M1064.3 1025.3h0M1065.3 1027h0M1065.8 1032.3h0M1066.7 1026.9h0M1066.7 1032.3h0M1066.9 1026.2h0M1066.7 1024h0M1067.5 1026.9h0M1067.9 1032.5h0M1068.3 1027.5h0M1068.2 1032.4h0M1069.8 1027.5h0M1069.9 1032.5h0M1070.9 1028.5h0M1070.8 1032.6h0M1071.8 1028.8h0M1071.4 1032.7h0M1072 1028.8h0M1072.9 1032.6h0M1073.2 1028.9h0M1073.4 1032.6h0M1074.6 1029.2h0M1074.5 1032.6h0M1075.9 1028.7h0M1075.2 1032.7h0M1076.1 1028.3h0M1076.9 1032.9h0M1076.3 1027.5h0M1077.7 1027.5h0M1077.7 1032.8h0M1077.7 1026.9h0M1078.9 1027.1h0M1078.5 1032.8h0M1079.8 1026.8h0M1079.9 1032.6h0M1080.6 1026.9h0M1080.3 1032.2h0M1080.5 1026.2h0M1081.3 1027.7h0M1081.5 1032.3h0M1082.8 1027.9h0M1082.7 1032.5h0M1083.8 1028.7h0M1083.7 1032.4h0M1083.9 1027.9h0M1084.1 1028.7h0M1084.5 1032.3h0M1084.1 1028.5h0M1085.5 1029.1h0M1085.4 1032.4h0M1086.7 1028.8h0M1086.7 1032.4h0M1086.6 1028.1h0M1087.2 1028.8h0M1087.8 1032.8h0M1087.2 1026.7h0M1088.4 1028.7h0M1088.3 1032.8h0M1088.6 1028h0M1090 1028.3h0M1089.1 1032.9h0M1090.8 1027.9h0M1090.3 1032.8h0M1091.4 1026.9h0M1091.2 1033h0M1092.4 1025.5h0M1092.6 1032.7h0M1093.2 1023.6h0M1093.2 1032.1h0M1094.1 1024.7h0M1094.9 1032.4h0M1095.1 1026.2h0M1095.6 1032.7h0M1095.3 1024.6h0M1096.6 1028.2h0M1096.1 1033h0M1096.5 1027.3h0M1097.9 1028.5h0M1097.8 1032.9h0M1097.2 1027.8h0M1098.9 1028.5h0M1098.8 1032.8h0M1098.3 1027.9h0M1099.6 1029h0M1099.9 1033h0M1100.5 1029.1h0M1100.3 1032.8h0M1100.9 1026.5h0M1101.1 1029h0M1101.2 1032.8h0M1102.7 1028.9h0M1102.1 1032.5h0M1102 1026.1h0M1101.9 1028.5h0M1103.2 1029.1h0M1103.8 1032.4h0M1103.1 1028.3h0M1104.8 1029.5h0M1104.2 1032.1h0M1103.7 1028.8h0M1105 1029.6h0M1105.3 1032.3h0M1106.2 1029.6h0M1106.4 1032.4h0M1105.9 1029.1h0M1107.7 1029.3h0M1107.2 1032.4h0M1108 1029.2h0M1108.5 1032.6h0M1109.4 1029.1h0M1109.5 1032.7h0M1110.1 1029.3h0M1110.1 1032.6h0M1111.1 1028.9h0M1112 1032.3h0M1112.8 1029.2h0M1112.5 1032h0M1113.6 1029.5h0M1114 1032h0M1114.8 1029.5h0M1114.4 1032.1h0M1115.2 1030h0M1115.3 1032.2h0M1116.6 1030.1h0M1116.2 1032h0M1117.1 1029.7h0M1117.5 1032h0M1118.8 1029.9h0M1118.9 1032h0M1118.8 1028.9h0M1119 1029.8h0M1119.2 1032h0M1120.2 1029.1h0M1120.1 1032.1h0M1120.6 1028.6h0M1121 1028.3h0M1121.3 1032.1h0M1121.6 1027.6h0M1122.5 1027.6h0M1122.4 1032.1h0M1123.8 1027.6h0M1123.3 1032.3h0M1123.6 1027h0M1124.4 1028.1h0M1124.1 1032.2h0M1125.8 1028.9h0M1125.5 1032h0M1126.1 1029.7h0M1126.6 1031.9h0M1127.2 1030h0M1127.7 1032.2h0M1128.8 1030.1h0M1128.4 1032.3h0M1129.4 1030.2h0M1129.9 1032.4h0M1130.9 1030.2h0M1130.2 1032.4h0M1131.6 1029.8h0M1131.9 1032.3h0M1131 1028.9h0M1132.2 1029.7h0M1132.6 1032.3h0M1133.7 1029.2h0M1133.8 1032.5h0M1133.4 1027.9h0M1134.6 1029.2h0M1134.3 1032.7h0M1135.4 1028h0M1135.1 1032.5h0M1136.1 1024.1h0M1136.1 1032.3h0M1136.1 1022.9h0M1136 1020.2h0M1137.1 1022.4h0M1137.7 1031.8h0M1138.2 1021.4h0M1138.5 1031.7h0M1139.7 1020.9h0M1139.5 1031.1h0M1139.3 1018.3h0M1140.9 1021.6h0M1140.3 1031.4h0M1140.4 1019.9h0M1141.5 1027.2h0M1141.5 1032.2h0M1142.1 1028.9h0M1142.5 1032.2h0M1143.7 1029.3h0M1143.8 1032.5h0M1144.3 1029.6h0M1144.8 1032.5h0M1145.9 1029.1h0M1145.1 1032.6h0M1146.7 1028.7h0M1147 1032.9h0M1146.7 1028.3h0M1148 1028.8h0M1147.2 1032.8h0M1147.9 1028.3h0M1147.6 1026.3h0M1148.4 1029.4h0M1148.5 1033.1h0M1149.2 1029.2h0M1149.8 1033h0M1149.5 1028.9h0M1150.3 1029.8h0M1150.2 1032.8h0M1151.1 1029.3h0M1151.7 1032.7h0M1151.9 1028.8h0M1151.5 1029h0M1152.1 1029.6h0M1152.5 1032.6h0M1153.3 1029.1h0M1153.4 1032.2h0M1153.5 1028.9h0M1154.8 1029.5h0M1154 1032.3h0M1155.3 1029.6h0M1155.7 1032.2h0M1156.5 1029.9h0M1156.3 1032.1h0M1157.9 1029.5h0M1157.3 1032.2h0M1158.7 1029.3h0M1158.7 1032.4h0M1160 1029.7h0M1159.4 1033h0M1160.2 1029.8h0M1160.8 1033.2h0M1161.6 1030h0M1161.9 1033.1h0M1162.8 1029.3h0M1162.5 1033.3h0M1163.5 1028.4h0M1163.4 1033h0M1164.9 1027.3h0M1164.4 1032.7h0M1165 1026.8h0M1165.1 1026.1h0M1165.2 1032.5h0M1166.7 1024.7h0M1166.2 1032.6h0M1167.9 1023h0M1167.1 1032.4h0M1168 1021h0M1168.5 1024.7h0M1168.5 1032.8h0M1169.2 1026.4h0M1169.8 1032.8h0M1170.3 1027.1h0M1170.1 1033.3h0M1171.6 1027.2h0M1171.7 1033.3h0M1172.2 1027.3h0M1172 1033.5h0M1173.8 1027.5h0M1173.8 1033.3h0M1174.2 1026.7h0M1175 1033h0M1174 1025.6h0M1175.2 1020.1h0M1175.2 1032.9h0M1175.4 1018.9h0M1176.9 1014.5h0M1176.1 1032.8h0M1176.5 1012.7h0M1177.2 1009.3h0M1177.2 1031.6h0M1178.1 1006.1h0M1178.6 1029.9h0M1179.2 1004.1h0M1179.2 1028.9h0M1180.1 1003.3h0M1181 1028.3h0M1180.4 999.1h0M1180.7 1001h0M1181.5 1002.4h0M1181.9 1029h0M1181.5 1033h0M1182.8 1008.4h0M1182.8 1029.9h0M1183.8 1012.6h0M1183.4 1029.8h0M1184.6 1016.5h0M1184.9 1030.3h0M1184.2 1015.1h0M1185.1 1016.7h0M1186 1032h0M1186 1016h0M1186.4 1033.9h0M1186.4 1015.1h0M1186 1012.9h0M1186.4 1010.5h0M1187.3 1017.7h0M1187.4 1034.4h0M1188.6 1019.8h0M1188.8 1033.8h0M1189.6 1021.7h0M1189 1033.4h0M1190.6 1023.1h0M1191 1033.1h0M1191.5 1024.3h0M1191.5 1032.8h0M1191.6 1023.4h0M1193 1025.9h0M1192.1 1032.4h0M1192 1024.8h0M1193.4 1026.9h0M1193.8 1032.4h0M1194.5 1027.4h0M1194.5 1032.7h0M1195.3 1028.6h0M1195.8 1032.7h0M1195.9 1027.8h0M1196.1 1029.2h0M1196 1032.7h0M1196.8 1028.4h0M1197.7 1029.4h0M1197.3 1032.5h0M1198.6 1029.5h0M1198.5 1032.5h0M1197.9 1029.1h0M1199.4 1029.7h0M1199.7 1032.5h0M1200.1 1029.5h0M1200.7 1032.4h0M1200.6 1028.8h0M1201.7 1029.3h0M1201.3 1032.6h0M1202.8 1029.4h0M1202.2 1032.6h0M1202.3 1027.9h0M1202.2 1028h0M1203.1 1029.2h0M1203.9 1032.6h0M1204.2 1028.9h0M1204.4 1028.9h0M1204.5 1032.7h0M1205.5 1027.8h0M1205.6 1032.6h0M1206.1 1024.1h0M1206.5 1032.9h0M1207.5 1019.7h0M1207.9 1032.9h0M1208.1 1017h0M1208.9 1032.9h0M1209.8 1015.9h0M1209.6 1031.9h0M1209.5 1015.2h0M1209.5 1012.1h0M1209.7 1010h0M1210.7 1015.5h0M1210.3 1031.5h0M1210.6 1013.1h0M1210.2 1014.3h0M1211.9 1014.9h0M1211.5 1030.9h0M1211.3 1011.2h0M1211.3 1011.9h0M1212.5 1016.6h0M1212.8 1030.8h0M1212.3 1015.2h0M1213.1 1017.5h0M1213.2 1031h0M1214.2 1016.1h0M1214 1019.2h0M1214.5 1031.3h0M1215.8 1020.9h0M1215.6 1031.5h0M1215.3 1020h0M1216.2 1022.1h0M1216.5 1031.4h0M1217.4 1022.7h0M1217.8 1031.7h0M1219 1022.6h0M1218.8 1031.5h0M1218.2 1022h0M1219.3 1023.7h0M1219.3 1031.7h0M1219.8 1022.6h0M1220.5 1024.1h0M1220.8 1031.8h0M1221 1022h0M1221.5 1024.7h0M1221.6 1032.1h0M1221.8 1023.7h0M1222.4 1025h0M1222.5 1032.5h0M1222.3 1023.6h0M1222.4 1024h0M1223.7 1025h0M1223.7 1032.1h0M1223.8 1024h0M1223.6 1021.5h0M1224.3 1024.7h0M1224.9 1031.8h0M1225.7 1023.4h0M1225.6 1031.6h0M1226.3 1022.9h0M1226.6 1031.4h0M1227.5 1023.1h0M1227.8 1031.6h0M1228.4 1023.4h0M1228.3 1031.9h0M1229.7 1024.1h0M1229.9 1032.3h0M1229.4 1021.4h0M1229.3 1023.4h0M1230.1 1025.3h0M1230.1 1032.2h0M1231.3 1025.4h0M1231.9 1031.9h0M1232.6 1025.5h0M1232.6 1031.4h0M1233.5 1025.2h0M1233.9 1030.9h0M1234.8 1025h0M1234.8 1031.2h0M1235.9 1025.5h0M1235.8 1031.1h0M1236 1025h0M1236.5 1025.8h0M1236.5 1031.3h0M1237.8 1026.2h0M1237.7 1031.5h0M1238.3 1025.5h0M1238.5 1025.9h0M1238.1 1031.7h0M1239.2 1025.3h0M1239.9 1025.7h0M1239.4 1032.2h0M1239.5 1025.2h0M1239.7 1025.3h0M1241 1026.3h0M1240.7 1032.5h0M1241.2 1026.3h0M1241.4 1032.7h0M1242.1 1027h0M1242.7 1032.4h0M1242.3 1026h0M1243.9 1026.8h0M1243.9 1032.1h0M1245 1027.1h0M1244.5 1031.9h0M1244.4 1025.8h0M1245.3 1026.7h0M1245.6 1032.2h0M1245.2 1025.2h0M1245.9 1025.7h0M1245.8 1025.9h0M1246 1026.5h0M1246.9 1032.8h0M1247.9 1026.1h0M1247.2 1033h0M1248.9 1026h0M1248.6 1033h0M1248.8 1025.1h0M1249.5 1025.4h0M1249.6 1033.1h0M1249.5 1025h0M1250 1025.8h0M1250.5 1032.5h0M1250.4 1024.9h0M1251.7 1026.1h0M1252 1032.9h0M1252.4 1026.1h0M1252.6 1032.7h0M1252.5 1024.4h0M1253.6 1026.7h0M1253 1032.5h0M1253.6 1026.2h0M1254.1 1027.3h0M1254.3 1032.2h0M1255.4 1027.5h0M1255.7 1032.1h0M1256.9 1028.1h0M1256.3 1032.4h0M1257.5 1027.9h0M1257.5 1032.6h0M1258.7 1028.7h0M1258.5 1032.5h0M1258.7 1028.1h0M1259.2 1029.1h0M1259.1 1032.5h0M1259.3 1028.3h0M1260.6 1028.9h0M1260.9 1032.4h0M1260.9 1028.4h0M1261.4 1028.6h0M1261.9 1032.6h0M1261.9 1026.2h0M1262.7 1028.6h0M1262.5 1032.6h0M1263.2 1026.4h0M1263.8 1032.8h0M1264.4 1025.3h0M1264.5 1033h0M1265.4 1024.1h0M1265.7 1032.7h0M1266.4 1023.2h0M1266.2 1032.8h0M1267.3 1022.7h0M1267.8 1032.8h0M1268.4 1023.4h0M1268.6 1032.9h0M1268.7 1021.7h0M1268.3 1021.8h0M1269.1 1024.5h0M1269.9 1032.8h0M1269.7 1024.1h0M1269.5 1021.8h0M1270.8 1026.5h0M1270.4 1033h0M1271.9 1026.8h0M1271.1 1033.1h0M1271 1026.1h0M1271.1 1023h0M1272.4 1027h0M1272.6 1032.7h0M1273.4 1027h0M1273.7 1032.6h0M1274.6 1026.3h0M1274.1 1032.6h0M1274.9 1025.3h0M1275.9 1026.1h0M1275.8 1032.6h0M1275.3 1025.4h0M1276.4 1025.4h0M1276.7 1032.5h0M1277 1025h0M1277.6 1025.2h0M1277.9 1032.2h0M1277.8 1024.6h0M1278.4 1025.2h0M1278.3 1032h0M1278.6 1024.3h0M1279.8 1025.1h0M1279.1 1032.2h0M1279.6 1024h0M1279.4 1024.2h0M1280.9 1025.4h0M1280 1032.7h0M1281.8 1026.1h0M1281.6 1033.4h0M1282.8 1026.8h0M1282.1 1033.4h0M1282.8 1026.1h0M1283.6 1027.6h0M1283.3 1033.5h0M1284 1027.1h0M1284.7 1033.2h0M1285.3 1026h0M1285.5 1032.5h0M1285.6 1025.6h0M1286.9 1025.4h0M1286.8 1032.1h0M1287.5 1024.7h0M1287.9 1031.7h0M1287.9 1023.9h0M1288.7 1024.3h0M1288.2 1031.6h0M1288.3 1023.6h0M1289.9 1024.1h0M1289.8 1031.6h0M1290 1021.8h0M1290.7 1023.8h0M1290.2 1031.5h0M1291.3 1023.2h0M1291.6 1031.8h0M1292 1023.5h0M1292.8 1031.8h0M1292.5 1022.2h0M1293.1 1023.9h0M1294 1031.5h0M1293.9 1022.6h0M1293.4 1022.7h0M1294.2 1024h0M1294.2 1031.2h0M1295.2 1024h0M1295.8 1031.3h0M1296.6 1024.2h0M1296.1 1031.5h0M1297.7 1024.5h0M1297.3 1031.9h0M1297.7 1022.3h0M1298 1023.5h0M1298.5 1024.2h0M1298.6 1031.8h0M1299.8 1024h0M1299 1031.9h0M1299.5 1023.2h0M1300.7 1024.5h0M1300.9 1031.9h0M1301 1023.5h0M1301.9 1023.8h0M1301.9 1031.6h0M1301.7 1023.3h0M1302.2 1023.4h0M1302.7 1031.4h0M1301.7 1022.6h0M1303.2 1022.1h0M1303.4 1030.9h0M1303.9 1021.7h0M1304.1 1018.8h0M1304 1021.7h0M1304.5 1030.7h0M1304.4 1021.2h0M1305.4 1022.2h0M1305.8 1030.3h0M1306.2 1021.5h0M1306.4 1030.5h0M1307.5 1021.5h0M1307 1030.3h0M1307.9 1020.8h0M1307.7 1018.6h0M1308.6 1021.2h0M1309 1030.5h0M1309.3 1020.2h0M1309.4 1019.8h0M1309.5 1030.1h0M1310.2 1017.6h0M1310.5 1029.5h0M1310.6 1016h0M1310.4 1016h0M1311.5 1017.4h0M1312 1029.7h0M1312.8 1018.7h0M1312.4 1030.1h0M1313.2 1018h0M1313.8 1019.2h0M1313.5 1029.7h0M1314.5 1020.1h0M1314.5 1029.8h0M1314.7 1019.3h0M1314.5 1017.2h0M1315.1 1021h0M1315.1 1030h0M1315.3 1020.3h0M1316 1021.4h0M1316.2 1030h0M1316.3 1021h0M1317.3 1021.2h0M1317.7 1030.3h0M1317.2 1020.8h0M1318.3 1022.4h0M1318.8 1030.3h0M1318.4 1020.1h0M1319.1 1022.6h0M1319.6 1030.1h0M1320.9 1022.6h0M1320.5 1030.3h0M1320.3 1022.2h0M1321.8 1023h0M1321.3 1030.8h0M1321.3 1022h0M1321 1019.5h0M1322.8 1022.7h0M1322.3 1030.8h0M1322.5 1022h0M1323.9 1023.2h0M1323.5 1031h0M1324.3 1023.3h0M1324.1 1030.8h0M1325.1 1024h0M1325.6 1030.7h0M1326.3 1024.2h0M1326.6 1030.6h0M1327.1 1023.1h0M1327.7 1022.9h0M1327.5 1031.2h0M1328.5 1022h0M1328.9 1031h0M1329.8 1021.4h0M1329.8 1031.5h0M1330.4 1021.6h0M1330.6 1031.6h0M1330.8 1020.2h0M1331.8 1022.5h0M1331.4 1031.6h0M1332.2 1022.9h0M1332.3 1031.7h0M1333.2 1022.4h0M1333 1023.4h0M1333.5 1031.6h0M1334.2 1023.1h0M1334.5 1031.6h0M1335.9 1022.4h0M1335.8 1031.3h0M1336.2 1021.7h0M1336.2 1030.5h0M1336.9 1020.6h0M1337.5 1021.2h0M1337.7 1030.2h0M1337.8 1020h0M1338.1 1019.6h0M1339 1029.9h0M1338.2 1019.1h0M1339.5 1018.9h0M1339.7 1030.3h0M1339.1 1014.1h0M1340.8 1017.1h0M1340.4 1030.1h0M1341.6 1016.6h0M1341.5 1030h0M1342.4 1018.2h0M1342.4 1030.1h0M1343.2 1020.3h0M1343.4 1030.5h0M1343 1019.1h0M1344.1 1021.4h0M1344.7 1031h0M1344.9 1019.1h0M1345.3 1022.8h0M1345.6 1031h0M1346.2 1023.1h0M1346.9 1030.8h0M1346.6 1022.3h0M1347.1 1024.1h0M1347.5 1030.8h0M1348.2 1023.8h0M1349 1030.9h0M1349.4 1024.1h0M1349.2 1031.3h0M1349.6 1023h0M1350.7 1022.5h0M1350.1 1031.4h0M1351.6 1020.6h0M1351.8 1031.4h0M1352.1 1020.1h0M1352.5 1031.4h0M1353.1 1019.1h0M1353.7 1031h0M1354.3 1019h0M1354.2 1031.3h0M1354.3 1018.4h0M1355.9 1021h0M1355.5 1031.3h0M1355 1019.8h0M1355.2 1020h0M1356.9 1023.2h0M1356.2 1031.2h0M1356.5 1021.9h0M1357.9 1022.2h0M1357.3 1031.2h0M1358.8 1020.9h0M1358.8 1030.9h0M1359.9 1019.4h0M1360 1030.2h0M1360.3 1017.6h0M1360.8 1029.9h0M1361.8 1018.6h0M1361.5 1029.3h0M1361.5 1017.2h0M1362.4 1019.2h0M1362.7 1029.6h0M1363.3 1020.5h0M1363.4 1030.2h0M1364.7 1022.2h0M1364.1 1030.5h0M1365.9 1022.3h0M1365.8 1030.4h0M1365.4 1021.5h0M1366.1 1022.2h0M1366.1 1030.5h0M1367.3 1021.3h0M1367.9 1030.6h0M1367.1 1019.2h0M1368.1 1021.4h0M1368.9 1030.3h0M1367.8 1020.9h0M1368 1018.3h0M1369.7 1021.8h0M1369.9 1030.4h0M1369.3 1021.2h0M1370.7 1021.8h0M1370.9 1030.3h0M1371.2 1021.7h0M1371.2 1030.6h0M1370.9 1020.7h0M1371.6 1018.5h0M1372.7 1021h0M1372.3 1031h0M1373.9 1021.1h0M1373.7 1031.5h0M1374 1021.3h0M1374.8 1031.9h0M1375.7 1018.1h0M1375.3 1031.6h0M1376 1015.7h0M1376.3 1031.8h0M1377.4 1013.4h0M1377.3 1030.8h0M1377.7 1012.2h0M1378 1010.7h0M1378.1 1030.4h0M1378.4 1008.9h0M1378.5 1031.8h0M1379.9 1011h0M1379.7 1030.7h0M1380 1009.9h0M1379.4 1007.3h0M1380.8 1013.5h0M1380.1 1031h0M1381.2 1015.5h0M1381.8 1030.9h0M1381.1 1013.9h0M1382.3 1017.5h0M1382.1 1030.7h0M1383.4 1018.2h0M1383.9 1030.5h0M1383.7 1016.9h0M1384.7 1019h0M1384.7 1030.9h0M1385.3 1018.5h0M1385.2 1030.9h0M1386.2 1018.4h0M1386.4 1031.1h0M1386.9 1017.1h0M1387 1019.5h0M1387.9 1030.9h0M1387.8 1018.4h0M1388.8 1019.3h0M1388.9 1030.3h0M1389.9 1018.2h0M1389.9 1030.2h0M1389.6 1017.2h0M1390.8 1017.5h0M1390.4 1030.1h0M1391.8 1016.4h0M1391.8 1030.6h0M1392.6 1016.4h0M1392.2 1030.6h0M1393.6 1016.9h0M1393.7 1031h0M1393.1 1009.8h0M1394.7 1016.9h0M1394.9 1030.6h0M1395 1017.6h0M1395.6 1030.8h0M1395.1 1016.2h0M1395.4 1013.3h0M1395.4 1011.3h0M1396.7 1018.1h0M1396.9 1030.5h0M1396.2 1017.4h0M1397.1 1019.3h0M1398 1029.9h0M1398.9 1020.9h0M1398.7 1029.7h0M1398.3 1019.8h0M1399.8 1021.2h0M1399.2 1029.5h0M1400.6 1020.2h0M1400.8 1029.7h0M1400.8 1016.9h0M1401.4 1018.8h0M1401.3 1029.9h0M1402.4 1016.8h0M1402.4 1030.2h0M1402.6 1015.3h0M1402.9 1016.2h0M1403.5 1014.8h0M1404 1030h0M1403.6 1014.2h0M1403.2 1011.6h0M1403.5 1009.4h0M1404.1 1012.4h0M1404.8 1029.7h0M1404.4 1009.5h0M1405.3 1009.7h0M1405.7 1029.1h0M1405.5 1031.5h0M1406.4 1007h0M1406.2 1028h0M1406 1005.5h0M1407.8 1006.6h0M1407.5 1026.7h0M1408.7 1007.1h0M1408.1 1025.3h0M1409.9 1006.4h0M1409.1 1024.2h0M1410.3 1005h0M1410.7 1024.5h0M1411.3 1004.3h0M1411.3 1025.1h0M1411.3 1002.7h0M1412.7 1005.1h0M1412.8 1026.1h0M1412.3 1002.8h0M1413.7 1005h0M1413.9 1027.2h0M1414.3 1008.7h0M1414 1027.6h0M1414.6 1005h0M1415.7 1011.7h0M1415.2 1027.6h0M1416.9 1014.2h0M1417 1028.1h0M1415.8 1012.8h0M1417.4 1013.3h0M1417.5 1027.4h0M1418.3 1011.5h0M1418.1 1026.8h0M1420 1008.9h0M1420 1026.6h0M1420.4 1004.3h0M1420.8 1025.8h0M1421.8 997.7h0M1421.7 1025.4h0M1421.4 995.5h0M1421.1 993.3h0M1421.5 990.7h0M1420.9 988.6h0M1422.8 992.1h0M1422.9 1025.9h0M1422.5 1031.5h0M1423.3 991.1h0M1423.3 1026.7h0M1423.4 988h0M1423.7 984.9h0M1423.2 982.2h0M1423.5 1028.2h0M1424.9 991.4h0M1424.1 1027.5h0M1425.7 993.8h0M1425.2 1026.6h0M1426.3 996.3h0M1426.9 1027h0M1427.1 997.2h0M1427.3 1027.7h0M1428.9 994.1h0M1428.2 1028.8h0M1428.6 991.2h0M1428.9 988.7h0M1428.7 985.7h0M1429 982.9h0M1428.5 1028.7h0M1429.2 987.9h0M1429.3 1027.4h0M1430.6 983.2h0M1430 1027h0M1430.2 981.4h0M1431.7 979.1h0M1431.9 1025.6h0M1431.5 1025.9h0M1432.2 975.8h0M1433 1024.3h0M1432.9 972.8h0M1432.7 970.4h0M1433.8 977.8h0M1433.2 1024.8h0M1434.7 982.9h0M1434.8 1025.9h0M1434.5 1027.1h0M1435.2 987.8h0M1436 1027.4h0M1436.7 995.3h0M1436.6 1028.2h0M1437.9 1000.3h0M1437.7 1027.9h0M1437.7 997.9h0M1438.1 1000.9h0M1438.1 1027.6h0M1439.8 1000.6h0M1439.7 1027h0M1439.6 996.2h0M1440.9 998.8h0M1440.8 1026.3h0M1441.4 994.7h0M1441.1 1024.7h0M1441.5 1026.3h0M1442.1 987h0M1442.8 1023.1h0M1443.7 984.6h0M1444 1022.6h0M1444 981h0M1444.1 978.3h0M1444 975.9h0M1443.7 972.9h0M1443.9 970.2h0M1444.3 982.7h0M1444.6 1022.2h0M1445.4 981.8h0M1445.9 1021.9h0M1445.6 976h0M1446.7 978.1h0M1446.8 1022.7h0M1446.1 976.2h0M1446.3 976.8h0M1446.4 973.7h0M1446.1 970.9h0M1447 972.7h0M1447.5 1022.2h0M1448.2 967.7h0M1448.7 1021h0M1449.5 970h0M1449 1019h0M1449.5 1020.2h0M1450.1 970.9h0M1450.7 1017.8h0M1450.4 968.6h0M1450.1 966h0M1451.9 971.2h0M1451.2 1018.8h0M1451.5 1021.1h0M1452.9 973.9h0M1452.9 1019.2h0M1453.1 972.6h0M1453.2 1021.1h0M1454.6 974.9h0M1454.7 1023.3h0M1454.5 1023.2h0M1455.9 985.3h0M1456 1024.1h0M1456.9 994h0M1456.9 1024.3h0M1457.2 996.8h0M1457.8 1025.2h0M1457.3 994.3h0M1457.4 992h0M1457 989h0M1458.1 996.6h0M1458.5 1024.7h0M1457.9 994.1h0M1458.1 991.4h0M1457.7 988.8h0M1458.1 986.5h0M1458.5 1028.9h0M1459.3 995.4h0M1459.1 1025.1h0M1459.5 1025.5h0M1460.9 993.6h0M1460.4 1023.5h0M1461.2 992.4h0M1461.9 1020.9h0M1461.5 1023h0M1462.8 991.6h0M1462.3 1019.6h0M1462.1 989.7h0M1462.2 987.5h0M1462 984.6h0M1462.1 981.7h0M847 947.3h0M846.5 949.1h0M846.8 950.7h0M845.8 952.7h0M846.5 954.6h0M847 956.8h0M846.5 959.1h0M845.8 961.1h0M846.9 962.8h0M847 964.3h0M846.4 966.3h0M847 967.7h0M846.8 970h0M846.5 972.1h0M845.8 973.3h0M846.3 975.3h0M846.6 976.7h0M845.7 978.8h0M847 980.4h0M845.7 982.2h0M846.6 984.1h0M846.8 986.3h0M846.9 988.5h0M846.8 990.2h0M846.9 992.3h0M847.1 994.3h0M846.7 996.5h0M846.7 998.6h0M846.8 1000h0M845.8 1002.3h0M846.3 1004.3h0M846.5 1006.2h0M846.5 1008.5h0M845.8 1010.7h0M846.2 1012.5h0M846.7 1013.8h0M746.8 770.5h0M745.4 772.7h0M747.5 774h0M746 776.3h0M745.8 778.4h0M746 779.9h0M747.3 781.7h0M746.3 783.1h0M745.9 784.8h0M747.3 786.3h0M746.8 788h0M746.1 789.3h0M746.2 791.3h0M746.3 793.6h0M747.1 795.7h0M746.8 797.2h0M745.7 799.5h0M746.1 800.9h0M745.3 802.7h0M745.8 804.7h0M745.8 806h0M746.1 807.7h0M745.6 810h0M746.9 811.9h0M746.1 814h0M655.8 700h0M657.8 702.2h0M656.4 703.7h0M658.4 705.8h0M657.5 708h0M658.6 709.2h0M658 711.1h0M656.9 712.8h0M656.7 714.5h0M655.9 715.9h0M658.2 718h0M658.1 719.9h0M657.3 722.3h0M657.8 723.6h0M657.4 725h0M658.1 727.3h0M658.3 729.2h0M658.6 731.4h0M658.5 733.6h0M656.9 735.9h0M656.9 738.1h0M656 740h0M658.1 741.2h0M658.5 742.8h0M656.1 744.4h0M657.5 746h0M655.9 747.4h0M656.1 749h0M656.5 751.2h0M658.4 752.4h0M657.8 754.6h0M658.5 756.3h0M657.5 758.1h0M656.4 759.9h0M658 761.9h0M657.5 763.1h0M655.9 764.7h0M656 766.5h0M655.8 767.9h0M738.2 787h0M737.7 789.4h0M736 790.6h0M735.5 791.9h0M737.9 793.4h0M735.6 795.2h0M736.8 797.3h0M737.2 799.3h0M735.7 801.3h0M736.9 803h0M736.4 805.4h0M736.2 807.5h0M735.6 809.1h0M735.9 810.9h0M736.5 813.2h0M738.2 815h0M737 816.5h0M735.6 818.4h0M737.1 820.1h0M736.9 822.4h0M737.9 823.6h0M735.2 826h0M737.6 827.8h0M735.3 829.1h0M258.5 819.5h0M258.5 825.7h0M258.5 829.4h0M258.5 836.8h0M256 841.8h0M266.4 847.2h0M272.3 855.4h0M272.3 860.3h0M266.4 865.3h0M180.5 905.6h0M180.5 914.7h0M180.5 924.6h0M180.5 928.4h0M188.4 917.2h0M188.4 922.2h0M194.1 924.6h0M180.5 948.1h0M197.8 933.3h0M200.3 939.5h0M206.5 943.2h0M206.5 948.1h0M225.1 926.4h0M222.6 927.1h0M238.7 932.1h0M238.7 938.2h0M127.3 971.6h0M123.6 980.3h0M312.9 873.9h0M320.3 876.4h0M312.9 885.1h0M330.2 864h0M330.2 869h0M297.3 897.9h0M288.1 903.6h0M295.6 902.4h0M304.7 901.1h0M304.7 914.7h0M309.2 897.4h0M335.2 986.5h0M335.2 990.2h0M335.2 997.1h0M347.5 989h0M260.4 975.9h0M301 1001.3h0M282 996.4h0M320.3 985.3h0M213.4 1013.7h0M340.6 820.7h0M338.9 828.1h0M344.6 829.4h0M338.9 834.3h0M342.6 836.8h0M338.9 844.2h0M382.2 805.9h0M382.2 808.4h0M390.3 820.7h0M382.2 826.9h0M384.6 829.4h0M372.3 839.3h0M390.3 836.8h0M422.5 861.5h0M422.5 871.4h0M422.5 881.3h0M351.2 874.4h0M435.4 899.9h0M482.4 805.9h0M482.4 821.5h0M485.3 829.4h0M503.4 781.1h0M498.5 789.8h0M547.2 774.9h0M558.6 773.7h0M558.6 802.2h0M547.2 817h0M539.3 834.8h0M539.3 841.8h0M558.6 830.6h0M585.5 827.4h0M396.5 979.1h0M377.2 990.9h0M369.8 985.3h0M357.4 989h0M428.7 996.4h0M428.7 1002.1h0M437.1 1000.1h0M447.7 989h0M474.9 1010h0M486.8 1002.6h0M496 990.2h0M533.1 1016.2h0M781 934.5h0M781 940.7h0M781 948.1h0M781 953.1h0M781 959.3h0M882.2 979.1h0M882.2 983.2h0M882.2 990.6h0M882.2 996.3h0M882.2 1001.2h0M882.2 1007.7h0M882.2 1010.9h0M896.4 946.5h0M896.4 949.8h0M896.4 953h0M896.4 956.3h0M896.4 964.4h0M896.4 967.7h0M896.4 971.8h0M896.4 983.2h0M896.4 995.4h0M896.4 998.7h0M592.5 641.4h0M592.5 660.4h0M592.5 701.2h0M592.5 704.9h0M592.5 722.3h0M592.5 749h0M592.5 761.9h0M592.5 771.8h0M592.5 777.9h0M619.7 834.8h0M619.7 839.8h0M619.7 846h0M619.7 852.2h0M619.7 858.4h0M619.7 864.5h0M619.7 868.2h0M619.7 874.4h0M619.7 880.6h0M619.7 886.8h0M619.7 892.2h0M618 849.7h0M618 860.8h0M618 872h0M618 883.1h0M625.4 813.8h0M625.4 818.8h0M625.4 823.7h0M625.4 828.7h0M625.4 832.4h0M625.4 838.6h0M625.4 843.5h0M625.4 848.5h0M625.4 852.2h0M625.4 855.9h0M625.4 862.1h0M625.4 868.2h0M625.4 874.4h0M625.4 880.6h0M625.4 886.8h0M625.4 892.2h0M623.6 842.3h0M623.6 857.1h0M623.6 870.7h0M623.6 884.3h0M644.4 649.3h0M644.4 653h0M644.4 692.6h0M644.4 696.3h0M644.4 704.9h0M644.4 716.1h0M644.4 721h0M644.4 735.4h0M644.4 750.7h0M644.4 763.1h0M644.4 775.5h0M644.4 780.4h0M641.2 748.2h0M641.2 755.2h0M641.2 768.5h0M641.2 777.9h0M657.3 597.3h0M657.3 599.8h0M657.3 604h0M657.3 622.6h0M657.3 638.6h0M657.3 649.3h0M657.3 666.6h0M657.3 675.3h0M657.3 681.4h0M657.3 686.4h0M657.3 690.1h0M657.3 700h0M657.3 703.7h0M657.3 709.9h0M657.3 715.6h0M658.8 718.6h0M658.8 722.3h0M658.8 728.5h0M658.8 734.6h0M655.8 726h0M655.8 731.4h0M655.8 738.4h0M665.5 704.2h0M665.5 722.3h0M665.5 749h0M665.5 753.2h0M665.5 758.1h0M679.1 795.3h0M679.1 799h0M717.4 779.9h0M717.4 784.1h0M717.4 792.8h0M717.4 797.7h0M717.4 829.4h0M717.4 843.5h0M717.4 847.2h0M717.4 852.2h0M717.4 857.1h0M717.4 865.8h0M717.4 872h0M717.4 878.1h0M717.4 884.3h0M717.4 891.8h0M717.4 899.2h0M717.4 906.6h0M717.4 914h0M717.4 921.4h0M717.4 928.9h0M717.4 936.3h0M729.3 750.2h0M729.3 756.9h0M729.3 768.5h0M729.3 779.2h0M729.3 786.6h0M729.3 789.1h0M729.3 801.4h0M729.3 812.6h0M729.3 818.8h0M729.3 832.4h0M729.3 837.3h0M729.3 839.8h0M729.3 854.6h0M729.3 859.6h0M729.3 867h0M729.3 873.2h0M729.3 879.4h0M729.3 886.8h0M729.3 894.2h0M729.3 901.6h0M736.7 773.5h0M736.7 781.6h0M746.4 679.5h0M746.4 686.4h0M746.4 696.3h0M746.4 707.4h0M746.4 732.2h0M746.4 735.9h0M746.4 754.4h0M746.4 763.1h0M453.7 770.2h0M453.7 779.4h0M453.7 785.6h0M453.7 793h0M453.7 797.9h0M453.7 804.1h0M482.4 805.4h0M482.4 820.9h0M482.4 829.6h0M482.4 840h0M482.4 849.9h0M482.4 857.3h0M503.4 781.4h0M498.5 789.3h0M503.4 790.5h0M547.2 764h0M547.2 775.2h0M547.2 817.2h0M547.2 823.9h0M547.2 832.6h0M558.4 773.2h0M558.4 776.9h0M558.4 804.1h0M558.4 831.3h0M572.5 712.6h0M566.3 727.4h0M566.3 735.6h0M568.2 738.6h0M570.7 742.3h0M566.3 750.9h0M572.5 753.4h0M566.3 768.2h0M570.7 770.7h0M573.2 778.1h0M625.2 814h0M625.2 817.7h0M625.2 823.9h0M625.2 832.6h0M625.2 836.3h0M625.2 848.7h0M619.5 833.8h0M619.5 838.8h0M619.5 847.4h0M619.5 852.4h0M422.3 861h0M422.3 872.2h0M422.3 880.8h0" stroke="#1f77b4" stroke-width="5.3" stroke-linecap="round" fill="none"/>
<path d="M116.5 1014.5L117.5 1014.4L118.5 1010.3L119.5 1007L120.5 1008.3L121.5 1008.9L122.5 1002.6L123.5 1000.3L124.5 1001.1L125.5 1002L126.5 1002.5L127.5 1002.3L128.5 1003.9L129.5 1008L130.5 1009L131.5 1010.1L132.5 1011.3L133.5 1010.7L134.5 1009.2L135.5 1008.2L136.5 1008L137.5 1007L138.5 1003L139.5 998.1L140.5 1000.8L141.5 1007.9L142.5 1012.3L143.5 1013.1L144.5 1013.7L145.5 1013.1L146.5 1012L147.5 1006.6L148.5 1002.3L149.5 1002.4L150.5 1003.8L151.5 1000.2L152.5 994.9L153.5 989.1L154.5 993.4L155.5 1002.6L156.5 1008.5L157.5 1008.9L158.5 1005.2L159.5 1001.4L160.5 998.2L161.5 996.9L162.5 1000.6L163.5 1004.1L164.5 999.8L165.5 994.1L166.5 992.4L167.5 990.1L168.5 989.5L169.5 991.4L170.5 991.1L171.5 993.7L172.5 1003.2L173.5 1008L174.5 1008.1L175.5 1009.1L176.5 1002.1L177.5 998.6L178.5 998.3L179.5 994.7L180.5 989.9L181.5 984.1L182.5 988.3L183.5 989.9L184.5 984.6L185.5 977.9L186.5 977.4L187.5 982.6L188.5 985.6L189.5 986.6L190.5 987.8L191.5 991.6L192.5 991L193.5 989.4L194.5 987.7L195.5 983L196.5 978L197.5 975.2L198.5 973.9L199.5 970.5L200.5 973.6L201.5 981.6L202.5 986.8L203.5 987.5L204.5 982.2L205.5 977L206.5 979.5L207.5 985.2L208.5 986.4L209.5 985.4L210.5 989.4L211.5 995.5L212.5 999.6L213.5 999.2L214.5 1000.4L215.5 998.3L216.5 992.2L217.5 983.8L218.5 976.3L219.5 971.9L220.5 973.8L221.5 977.2L222.5 974.7L223.5 966.6L224.5 964L225.5 968.1L226.5 974.7L227.5 980.2L228.5 982.7L229.5 982.9L230.5 983.2L231.5 985.4L232.5 988.5L233.5 987L234.5 982L235.5 978.3L236.5 978.3L237.5 975.4L238.5 968.4L239.5 972.7L240.5 978.8L241.5 976L242.5 973.9L243.5 976.7L244.5 977.6L245.5 972.7L246.5 968.3L247.5 965.1L248.5 964.2L249.5 962.3L250.5 950.2L251.5 935.6L252.5 932.4L253.5 930.6L254.5 924.9L255.5 914.7L256.5 905.5L257.5 898.2L258.5 884.9L259.5 887.4L260.5 900.9L261.5 918.1L262.5 935L263.5 939L264.5 937.2L265.5 926.7L266.5 921.7L267.5 920.9L268.5 912L269.5 905.6L270.5 907.1L271.5 913.1L272.5 913.2L273.5 916.5L274.5 927.3L275.5 946.9L276.5 960.4L277.5 960L278.5 958.8L279.5 966.2L280.5 973.8L281.5 973.8L282.5 973.2L283.5 969.6L284.5 959.2L285.5 949.3L286.5 943.9L287.5 946.6L288.5 951.6L289.5 957.5L290.5 968.7L291.5 972.2L292.5 963.6L293.5 957.9L294.5 956.8L295.5 957.5L296.5 962.4L297.5 961.7L298.5 965.5L299.5 969L300.5 978L301.5 974.9L302.5 971.8L303.5 976.2L304.5 978.3L305.5 976.4L306.5 974L307.5 972.9L308.5 971.5L309.5 964.4L310.5 957.4L311.5 950.1L312.5 947.5L313.5 946L314.5 950.4L315.5 955.9L316.5 954.4L317.5 949.3L318.5 948.7L319.5 948L320.5 949.9L321.5 953.8L322.5 950.4L323.5 942.5L324.5 937.3L325.5 930.6L326.5 925.6L327.5 923.3L328.5 926.2L329.5 930L330.5 922.1L331.5 916.1L332.5 924.6L333.5 936.2L334.5 937.2L335.5 930.8L336.5 921.6L337.5 909.9L338.5 905L339.5 908.4L340.5 908.1L341.5 911.6L342.5 910.6L343.5 907.9L344.5 915.5L345.5 934.5L346.5 945.3L347.5 953.3L348.5 954.6L349.5 949.8L350.5 939.8L351.5 940.3L352.5 948.1L353.5 957.3L354.5 956.6L355.5 951.4L356.5 948.7L357.5 945L358.5 938.3L359.5 942L360.5 944.3L361.5 930.7L362.5 915.2L363.5 909.8L364.5 909.1L365.5 914.7L366.5 925.7L367.5 922L368.5 915.1L369.5 914.8L370.5 925.8L371.5 931.2L372.5 930.8L373.5 938.5L374.5 942.8L375.5 941.7L376.5 937L377.5 931.9L378.5 930.2L379.5 930.2L380.5 933.4L381.5 926.6L382.5 912.7L383.5 906.4L384.5 916.6L385.5 925.4L386.5 928.7L387.5 927.4L388.5 918.9L389.5 916.8L390.5 916.3L391.5 918.8L392.5 925.8L393.5 932.5L394.5 936L395.5 931.4L396.5 923.5L397.5 918.4L398.5 913.1L399.5 913.6L400.5 922.3L401.5 926.8L402.5 922.9L403.5 925.7L404.5 929L405.5 924.2L406.5 921.5L407.5 911.7L408.5 910.1L409.5 922L410.5 925.8L411.5 920.6L412.5 919.6L413.5 931.4L414.5 937.9L415.5 940.7L416.5 946.9L417.5 944.9L418.5 942L419.5 943.3L420.5 946.1L421.5 947L422.5 943.9L423.5 933.7L424.5 932.8L425.5 943.1L426.5 946.2L427.5 952.7L428.5 955.4L429.5 958.7L430.5 963L431.5 972.7L432.5 977.5L433.5 971.7L434.5 962.2L435.5 958.9L436.5 965.9L437.5 968.8L438.5 960.6L439.5 957.8L440.5 960.3L441.5 957.4L442.5 952.9L443.5 950.1L444.5 946.7L445.5 941.9L446.5 935.3L447.5 922.8L448.5 917.4L449.5 918.9L450.5 917.9L451.5 901L452.5 884.5L453.5 874.5L454.5 900.3L455.5 929.1L456.5 953.9L457.5 965L458.5 958.4L459.5 958.6L460.5 963.1L461.5 958L462.5 953L463.5 950.6L464.5 952.1L465.5 955.4L466.5 949.9L467.5 948.2L468.5 956.6L469.5 964.2L470.5 974.1L471.5 977L472.5 972.8L473.5 973.6L474.5 970.7L475.5 958.4L476.5 950.5L477.5 959.2L478.5 960.9L479.5 957.1L480.5 957.4L481.5 956.3L482.5 949.6L483.5 943.8L484.5 933.3L485.5 932.4L486.5 944.5L487.5 947.6L488.5 944.3L489.5 928.5L490.5 909.1L491.5 899.8L492.5 905.5L493.5 918.3L494.5 923.6L495.5 920.5L496.5 912.3L497.5 898.5L498.5 872.6L499.5 860.7L500.5 860L501.5 863.5L502.5 866.3L503.5 882.7L504.5 908L505.5 928.4L506.5 943L507.5 966.1L508.5 988.9L509.5 984.4L510.5 963L511.5 941.6L512.5 940.5L513.5 941.2L514.5 928.9L515.5 927.9L516.5 942.7L517.5 944.7L518.5 938.6L519.5 941.1L520.5 959.2L521.5 968.6L522.5 971.2L523.5 976.8L524.5 972L525.5 966.8L526.5 963.6L527.5 966.9L528.5 973.4L529.5 980.7L530.5 989.3L531.5 991.3L532.5 994.4L533.5 995.8L534.5 994.1L535.5 972.1L536.5 951.3L537.5 940.2L538.5 941.8L539.5 944L540.5 955.4L541.5 971.9L542.5 958.4L543.5 942L544.5 919.7L545.5 896.9L546.5 904.7L547.5 908.2L548.5 927.8L549.5 948L550.5 958.4L551.5 972.9L552.5 983.3L553.5 979.1L554.5 960.7L555.5 955.8L556.5 960.7L557.5 953.6L558.5 945.9L559.5 932.3L560.5 926.3L561.5 928.9L562.5 920L563.5 892.6L564.5 880.5L565.5 887.6L566.5 886.9L567.5 879.4L568.5 868.4L569.5 854.2L570.5 847.7L571.5 877.7L572.5 906.6L573.5 911.6L574.5 914.2L575.5 941.1L576.5 970L577.5 960.1L578.5 962.4L579.5 969.9L580.5 967.6L581.5 974.3L582.5 989.6L583.5 1000.8L584.5 984.5L585.5 961.1L586.5 951.2L587.5 942.2L588.5 907.7L589.5 882.6L590.5 878.1L591.5 873.4L592.5 882.2L593.5 895.8L594.5 908.2L595.5 937.6L596.5 963.1L597.5 970.5L598.5 963.9L599.5 969.4L600.5 985.8L601.5 1000.8L602.5 1002.6L603.5 1000.9L604.5 1002.4L605.5 1005.4L606.5 1007.3L607.5 1009.4L608.5 1004.9L609.5 992.2L610.5 987.5L611.5 982.5L612.5 976.8L613.5 976.7L614.5 977.5L615.5 975.5L616.5 968.8L617.5 947.6L618.5 925.4L619.5 924.8L620.5 944.3L621.5 973.5L622.5 994.4L623.5 968L624.5 936.8L625.5 947.8L626.5 956.4L627.5 968.2L628.5 989.3L629.5 996.1L630.5 1006.3L631.5 1015.9L632.5 1008.1L633.5 995.2L634.5 980.2L635.5 964.7L636.5 950.9L637.5 935.9L638.5 914.4L639.5 890.2L640.5 886.2L641.5 879.2L642.5 876.4L643.5 868.9L644.5 872L645.5 888.6L646.5 893.6L647.5 898.6L648.5 904.9L649.5 912.3L650.5 891.8L651.5 870.6L652.5 866.6L653.5 869.1L654.5 864.1L655.5 843.6L656.5 837.1L657.5 869.4L658.5 907.6L659.5 924.3L660.5 889.2L661.5 867.3L662.5 860.2L663.5 858.8L664.5 879L665.5 911.7L666.5 921.5L667.5 911.5L668.5 931L669.5 941.5L670.5 935.7L671.5 935.2L672.5 953.9L673.5 975.1L674.5 978.9L675.5 958.1L676.5 932.6L677.5 909.3L678.5 894.5L679.5 893.7L680.5 908.4L681.5 910.2L682.5 909.2L683.5 924.5L684.5 951.2L685.5 959.3L686.5 965.2L687.5 960.8L688.5 962.2L689.5 956.7L690.5 957.5L691.5 969L692.5 972.7L693.5 947.1L694.5 927L695.5 939.5L696.5 962.8L697.5 979.3L698.5 985.6L699.5 988.2L700.5 978.9L701.5 977.3L702.5 985.1L703.5 994.5L704.5 996.6L705.5 995.4L706.5 993.9L707.5 994L708.5 997.6L709.5 1000.7L710.5 998.6L711.5 995.3L712.5 996.4L713.5 998.4L714.5 997.9L715.5 981.6L716.5 960.5L717.5 944.5L718.5 962.5L719.5 983L720.5 997.2L721.5 1001.8L722.5 1005.7L723.5 1014.8L724.5 1017L725.5 1012.5L726.5 1001.8L727.5 974.2L728.5 948.9L729.5 944.2L730.5 948.8L731.5 964.2L732.5 976.3L733.5 993.4L734.5 992.2L735.5 944.9L736.5 911.1L737.5 935.2L738.5 962.6L739.5 974.6L740.5 977.4L741.5 975.9L742.5 971.5L743.5 973.3L744.5 957.4L745.5 900.4L746.5 898.4L747.5 975.3L748.5 1021.6L749.5 1021.8L750.5 1009.5L751.5 1011.8L752.5 1012.3L753.5 1012.5L754.5 1011.6L755.5 1009L756.5 1006.5L757.5 999.4L758.5 996.7L759.5 1003.3L760.5 1009.1L761.5 1014.2L762.5 1017.3L763.5 1018L764.5 1017.7L765.5 1016.9L766.5 1015.2L767.5 1013.9L768.5 1014.5L769.5 1015.2L770.5 1010.2L771.5 1002.2L772.5 1000.3L773.5 1001.8L774.5 997.3L775.5 996L776.5 996.6L777.5 1004.2L778.5 1014L779.5 1007.2L780.5 995.5L781.5 1002.4L782.5 1014.3L783.5 1009L784.5 1005.2L785.5 1007L786.5 1011.8L787.5 1016.1L788.5 1017.5L789.5 1016L790.5 1014L791.5 1014.4L792.5 1016.7L793.5 1016.2L794.5 1015.8L795.5 1016.8L796.5 1017.2L797.5 1018.6L798.5 1020L799.5 1022.2L800.5 1023.5L801.5 1023L802.5 1023.9L803.5 1022.5L804.5 1018.5L805.5 1016.1L806.5 1016.3L807.5 1016.9L808.5 1013.1L809.5 1011L810.5 1012L811.5 1015.9L812.5 1021L813.5 1022.1L814.5 1022.8L815.5 1024.2L816.5 1025.3L817.5 1023.3L818.5 1021.5L819.5 1019.4L820.5 1018.3L821.5 1019.9L822.5 1022.1L823.5 1020.3L824.5 1020.4L825.5 1021.1L826.5 1020.8L827.5 1020.8L828.5 1022.7L829.5 1027.6L830.5 1028.6L831.5 1027.3L832.5 1026.8L833.5 1027L834.5 1027.4L835.5 1027L836.5 1026L837.5 1025.8L838.5 1026L839.5 1025.9L840.5 1024.6L841.5 1023L842.5 1019.3L843.5 1017.2L844.5 1013.4L845.5 1004.6L846.5 1000.9L847.5 1008.8L848.5 1017.7L849.5 1022L850.5 1021.4L851.5 1021L852.5 1023.9L853.5 1025.4L854.5 1025.5L855.5 1025.3L856.5 1025.2L857.5 1025.4L858.5 1025L859.5 1025.8L860.5 1027.3L861.5 1027L862.5 1025.7L863.5 1025.3L864.5 1023.9L865.5 1024.1L866.5 1025.3L867.5 1026.9L868.5 1027.2L869.5 1026.4L870.5 1025.7L871.5 1025.5L872.5 1026.1L873.5 1027.3L874.5 1028.5L875.5 1027.9L876.5 1026.9L877.5 1025.5L878.5 1023.4L879.5 1020.8L880.5 1020.3L881.5 1021.2L882.5 1020.4L883.5 1021.3L884.5 1024.2L885.5 1026.7L886.5 1027L887.5 1027.1L888.5 1026.9L889.5 1027.5L890.5 1027.3L891.5 1026L892.5 1023.2L893.5 1019.1L894.5 1011.8L895.5 1006.2L896.5 1011.4L897.5 1016.7L898.5 1020.8L899.5 1024.1L900.5 1025.4L901.5 1026L902.5 1027.7L903.5 1027.6L904.5 1026.4L905.5 1026.6L906.5 1026.9L907.5 1027.3L908.5 1027L909.5 1027.7L910.5 1028.7L911.5 1028.9L912.5 1028.1L913.5 1026.5L914.5 1025.3L915.5 1025.4L916.5 1026.3L917.5 1026.7L918.5 1027L919.5 1026.8L920.5 1026.6L921.5 1025.6L922.5 1026L923.5 1028.1L924.5 1029.3L925.5 1029.1L926.5 1028.9L927.5 1029.1L928.5 1029.3L929.5 1028.9L930.5 1027.7L931.5 1027.4L932.5 1028.2L933.5 1028.4L934.5 1028.6L935.5 1028.2L936.5 1027.4L937.5 1026L938.5 1026.2L939.5 1027.4L940.5 1027.1L941.5 1028.3L942.5 1030.2L943.5 1030.9L944.5 1030.5L945.5 1028.8L946.5 1027.2L947.5 1026.7L948.5 1026.3L949.5 1026.3L950.5 1026.6L951.5 1027.2L952.5 1028.9L953.5 1030.2L954.5 1030.1L955.5 1030.1L956.5 1030.3L957.5 1029.3L958.5 1027.9L959.5 1028.1L960.5 1029.2L961.5 1030.3L962.5 1031.3L963.5 1031.2L964.5 1030.8L965.5 1031.5L966.5 1032L967.5 1031.7L968.5 1031L969.5 1030.3L970.5 1030.7L971.5 1031.1L972.5 1030.7L973.5 1030.5L974.5 1030.5L975.5 1029.9L976.5 1029.7L977.5 1030.1L978.5 1030.7L979.5 1031L980.5 1030.5L981.5 1030.1L982.5 1030.3L983.5 1030.2L984.5 1030.2L985.5 1029.7L986.5 1029.5L987.5 1029L988.5 1028.5L989.5 1028.1L990.5 1029L991.5 1030.3L992.5 1030.8L993.5 1031L994.5 1030.7L995.5 1030.5L996.5 1030.5L997.5 1030.9L998.5 1030.9L999.5 1031.2L1000.5 1031.8L1001.5 1032L1002.5 1032.4L1003.5 1031.7L1004.5 1031.1L1005.5 1031L1006.5 1030.1L1007.5 1029.8L1008.5 1030.2L1009.5 1030.8L1010.5 1030.8L1011.5 1030.1L1012.5 1029.8L1013.5 1029.9L1014.5 1030.5L1015.5 1031.2L1016.5 1031.3L1017.5 1031.2L1018.5 1031.4L1019.5 1031.7L1020.5 1031.9L1021.5 1032.5L1022.5 1032.6L1023.5 1031.9L1024.5 1031.1L1025.5 1030.7L1026.5 1030.5L1027.5 1030.2L1028.5 1030L1029.5 1030.3L1030.5 1030.9L1031.5 1031.1L1032.5 1030.9L1033.5 1030.2L1034.5 1029.7L1035.5 1030.1L1036.5 1030.6L1037.5 1030.7L1038.5 1030.7L1039.5 1030.4L1040.5 1030.2L1041.5 1030L1042.5 1029L1043.5 1028.9L1044.5 1030.2L1045.5 1030.5L1046.5 1030.7L1047.5 1031.8L1048.5 1032L1049.5 1031.2L1050.5 1031.2L1051.5 1031.5L1052.5 1030.8L1053.5 1030.8L1054.5 1030.7L1055.5 1029.7L1056.5 1028.7L1057.5 1028.8L1058.5 1029.4L1059.5 1030.3L1060.5 1030.8L1061.5 1029.9L1062.5 1029.5L1063.5 1029.9L1064.5 1030.6L1065.5 1030.2L1066.5 1029.2L1067.5 1029.2L1068.5 1029.9L1069.5 1030.4L1070.5 1030.6L1071.5 1030.6L1072.5 1030.6L1073.5 1030.6L1074.5 1030.8L1075.5 1030.9L1076.5 1030.3L1077.5 1029.5L1078.5 1029.2L1079.5 1029.2L1080.5 1029.6L1081.5 1030.3L1082.5 1030.4L1083.5 1030.4L1084.5 1030.8L1085.5 1031.4L1086.5 1031L1087.5 1030.5L1088.5 1030.9L1089.5 1032.2L1090.5 1032.7L1091.5 1031.8L1092.5 1030.2L1093.5 1029.1L1094.5 1028.9L1095.5 1030L1096.5 1030.7L1097.5 1030.5L1098.5 1030.1L1099.5 1030.1L1100.5 1029.6L1101.5 1029.8L1102.5 1030.5L1103.5 1030.5L1104.5 1030.5L1105.5 1030.4L1106.5 1030.4L1107.5 1030.8L1108.5 1031.3L1109.5 1031.1L1110.5 1030.7L1111.5 1031.1L1112.5 1032.1L1113.5 1032.2L1114.5 1031.8L1115.5 1031.7L1116.5 1031.5L1117.5 1031.2L1118.5 1030.8L1119.5 1030.7L1120.5 1030.3L1121.5 1030L1122.5 1030.6L1123.5 1030.5L1124.5 1029.3L1125.5 1029.2L1126.5 1030.3L1127.5 1031L1128.5 1031L1129.5 1030.8L1130.5 1030.6L1131.5 1030.6L1132.5 1031.2L1133.5 1031.7L1134.5 1031.4L1135.5 1030.4L1136.5 1028.5L1137.5 1027.7L1138.5 1027.3L1139.5 1028.4L1140.5 1029.5L1141.5 1030.2L1142.5 1030.3L1143.5 1030.1L1144.5 1030L1145.5 1030.5L1146.5 1030.6L1147.5 1030.4L1148.5 1030L1149.5 1029.9L1150.5 1030.5L1151.5 1030.5L1152.5 1030.5L1153.5 1031.1L1154.5 1031.5L1155.5 1031.3L1156.5 1031.6L1157.5 1031.9L1158.5 1031.6L1159.5 1031.5L1160.5 1031.3L1161.5 1031.3L1162.5 1031.2L1163.5 1030.9L1164.5 1030.2L1165.5 1029.2L1166.5 1028.6L1167.5 1028.8L1168.5 1030.4L1169.5 1031L1170.5 1031L1171.5 1030.6L1172.5 1030.6L1173.5 1030.8L1174.5 1030.5L1175.5 1026.7L1176.5 1023.2L1177.5 1021.5L1178.5 1022.5L1179.5 1023L1180.5 1019.3L1181.5 1013.6L1182.5 1018.5L1183.5 1023.5L1184.5 1025.9L1185.5 1026.5L1186.5 1027.7L1187.5 1026.9L1188.5 1025.1L1189.5 1024.6L1190.5 1025.6L1191.5 1026.1L1192.5 1027.9L1193.5 1030.1L1194.5 1030.4L1195.5 1030.2L1196.5 1030.9L1197.5 1031L1198.5 1030.8L1199.5 1030.9L1200.5 1031.2L1201.5 1031.4L1202.5 1031L1203.5 1030.2L1204.5 1030.2L1205.5 1030.5L1206.5 1029.4L1207.5 1027.3L1208.5 1026.4L1209.5 1027L1210.5 1025.6L1211.5 1023.7L1212.5 1024L1213.5 1025.3L1214.5 1026.5L1215.5 1027.7L1216.5 1029.6L1217.5 1030.5L1218.5 1029.8L1219.5 1030L1220.5 1030.7L1221.5 1030.6L1222.5 1030.7L1223.5 1030.2L1224.5 1029L1225.5 1027.7L1226.5 1027.3L1227.5 1027.7L1228.5 1027L1229.5 1025.8L1230.5 1025.2L1231.5 1027L1232.5 1028.9L1233.5 1029.1L1234.5 1028.9L1235.5 1027.8L1236.5 1027.1L1237.5 1028L1238.5 1029.3L1239.5 1029.1L1240.5 1028.7L1241.5 1028.6L1242.5 1028.7L1243.5 1029.3L1244.5 1030L1245.5 1030.4L1246.5 1029.7L1247.5 1027.8L1248.5 1026.8L1249.5 1027.2L1250.5 1028.1L1251.5 1028.7L1252.5 1028.8L1253.5 1029.1L1254.5 1029.5L1255.5 1029.7L1256.5 1028.7L1257.5 1027.5L1258.5 1027.9L1259.5 1028.3L1260.5 1029L1261.5 1029.7L1262.5 1030.2L1263.5 1030.2L1264.5 1028.9L1265.5 1026.7L1266.5 1025.7L1267.5 1026.3L1268.5 1026.9L1269.5 1029.1L1270.5 1031.5L1271.5 1031L1272.5 1029.7L1273.5 1029.3L1274.5 1028.7L1275.5 1028.8L1276.5 1029.2L1277.5 1028.6L1278.5 1028.7L1279.5 1029.1L1280.5 1028.8L1281.5 1027.9L1282.5 1027.8L1283.5 1028.6L1284.5 1028.8L1285.5 1028.4L1286.5 1028.9L1287.5 1029.3L1288.5 1029.1L1289.5 1029.3L1290.5 1029.6L1291.5 1029.4L1292.5 1028.8L1293.5 1028.5L1294.5 1028.7L1295.5 1028.9L1296.5 1028.7L1297.5 1028.9L1298.5 1028.9L1299.5 1029.7L1300.5 1030.1L1301.5 1030L1302.5 1028.5L1303.5 1026.7L1304.5 1025L1305.5 1025L1306.5 1025.6L1307.5 1025.8L1308.5 1025.5L1309.5 1024.4L1310.5 1023.6L1311.5 1025L1312.5 1025.8L1313.5 1027.1L1314.5 1028L1315.5 1027.9L1316.5 1027.3L1317.5 1026.4L1318.5 1026.4L1319.5 1027.6L1320.5 1027.8L1321.5 1026L1322.5 1024.8L1323.5 1025.3L1324.5 1026.3L1325.5 1027.9L1326.5 1028.7L1327.5 1028.6L1328.5 1028.2L1329.5 1028L1330.5 1027.5L1331.5 1027.1L1332.5 1026.9L1333.5 1026.5L1334.5 1025.1L1335.5 1025.1L1336.5 1026.3L1337.5 1027L1338.5 1025.4L1339.5 1024.3L1340.5 1023.1L1341.5 1023.2L1342.5 1025.2L1343.5 1027.7L1344.5 1028.2L1345.5 1028.1L1346.5 1028.3L1347.5 1028.1L1348.5 1027.9L1349.5 1027.3L1350.5 1027.1L1351.5 1027.4L1352.5 1026.6L1353.5 1025L1354.5 1024.6L1355.5 1024.4L1356.5 1025.6L1357.5 1026.5L1358.5 1027L1359.5 1026.2L1360.5 1024.7L1361.5 1024.8L1362.5 1025.9L1363.5 1027.6L1364.5 1029L1365.5 1028.7L1366.5 1028.3L1367.5 1027L1368.5 1026.6L1369.5 1027.1L1370.5 1027.6L1371.5 1028.9L1372.5 1029L1373.5 1028.3L1374.5 1027.5L1375.5 1026L1376.5 1025L1377.5 1025.3L1378.5 1023.8L1379.5 1021.9L1380.5 1021L1381.5 1021.7L1382.5 1024.2L1383.5 1027.5L1384.5 1029.5L1385.5 1029.7L1386.5 1029L1387.5 1028.2L1388.5 1027L1389.5 1025.4L1390.5 1025L1391.5 1024.9L1392.5 1023.8L1393.5 1022.7L1394.5 1024.3L1395.5 1026.7L1396.5 1025.8L1397.5 1025.6L1398.5 1027L1399.5 1028.5L1400.5 1028.8L1401.5 1028.3L1402.5 1028.2L1403.5 1027.9L1404.5 1025.1L1405.5 1021.4L1406.5 1017.6L1407.5 1015.3L1408.5 1015L1409.5 1015.5L1410.5 1016.2L1411.5 1017.6L1412.5 1017.7L1413.5 1019.3L1414.5 1022.3L1415.5 1024.9L1416.5 1025.1L1417.5 1024.9L1418.5 1025.1L1419.5 1024.1L1420.5 1021.6L1421.5 1018.4L1422.5 1014.2L1423.5 1013.1L1424.5 1012.9L1425.5 1015L1426.5 1017.1L1427.5 1015.9L1428.5 1012.6L1429.5 1013.3L1430.5 1012.7L1431.5 1007.8L1432.5 1002.5L1433.5 1003.3L1434.5 1008.2L1435.5 1012.7L1436.5 1015.2L1437.5 1016.7L1438.5 1017.1L1439.5 1018.3L1440.5 1018L1441.5 1013.8L1442.5 1009.4L1443.5 1009.2L1444.5 1011.5L1445.5 1009.9L1446.5 1008.2L1447.5 1003.9L1448.5 995.1L1449.5 997.5L1450.5 999.5L1451.5 993.1L1452.5 993.3L1453.5 1001.2L1454.5 1009.2L1455.5 1015.2L1456.5 1013.4L1457.5 1008.8L1458.5 1007.3L1459.5 1008.8L1460.5 1009.7L1461.5 1007.8L1462.5 1006.9" stroke="#ff7f0e" stroke-width="2" stroke-linejoin="round" fill="none"/>
</g>
<path d="M116.5 1054.4v5.4M284.5 1054.4v5.4M452.5 1054.4v5.4M621.5 1054.4v5.4M789.5 1054.4v5.4M957.5 1054.4v5.4M1125.5 1054.4v5.4M1293.5 1054.4v5.4M116.5 625.5h-5.4M116.5 683.5h-5.4M116.5 741.5h-5.4M116.5 799.5h-5.4M116.5 858.5h-5.4M116.5 916.5h-5.4M116.5 974.5h-5.4M116.5 1032.5h-5.4" stroke="#000" stroke-width="1.1" fill="none"/>
<rect x="116.5" y="575.3" width="1346.0" height="479.10000000000014" fill="none" stroke="#000" stroke-width="1.1"/>
<text x="105.9" y="632.9" font-size="22.0" text-anchor="end">0.14</text>
<text x="105.9" y="691.0" font-size="22.0" text-anchor="end">0.12</text>
<text x="105.9" y="749.2" font-size="22.0" text-anchor="end">0.10</text>
<text x="105.9" y="807.3" font-size="22.0" text-anchor="end">0.08</text>
<text x="105.9" y="865.5" font-size="22.0" text-anchor="end">0.06</text>
<text x="105.9" y="923.6" font-size="22.0" text-anchor="end">0.04</text>
<text x="105.9" y="981.7" font-size="22.0" text-anchor="end">0.02</text>
<text x="105.9" y="1039.9" font-size="22.0" text-anchor="end">0.00</text>
<rect x="1046.5" y="48.5" width="406.0" height="80.0" rx="3.5" fill="#fff" fill-opacity="0.8" stroke="#ccc" stroke-width="1.1"/>
<circle cx="1072.5" cy="64.0" r="2.8" fill="#1f77b4"/>
<path d="M1053 102.0H1092" stroke="#ff7f0e" stroke-width="2"/>
<text x="1106" y="69.0" font-size="18.67">Raw Data</text>
<text x="1106" y="95.5" font-size="18.67">Butterworth Filtered Data</text>
<text x="1106" y="117.0" font-size="18.67">(N=6, Tc=3.3333 min, Type: low)</text>
<rect x="1046.5" y="585.0" width="406.0" height="80.0" rx="3.5" fill="#fff" fill-opacity="0.8" stroke="#ccc" stroke-width="1.1"/>
<circle cx="1072.5" cy="600.5" r="2.8" fill="#1f77b4"/>
<path d="M1053 638.5H1092" stroke="#ff7f0e" stroke-width="2"/>
<text x="1106" y="605.5" font-size="18.67">Raw Data</text>
<text x="1106" y="632.0" font-size="18.67">Butterworth Filtered Data</text>
<text x="1106" y="653.5" font-size="18.67">(N=6, Tc=3.3333 min, Type: low)</text>
<text x="784.5" y="30" font-size="26.67" text-anchor="middle">10.0 MHz N0000033</text>
<text x="116.5" y="29.6" font-size="26.67">(a)</text>
<text x="116.5" y="565.8" font-size="26.67">(b)</text>
<text transform="translate(62,278.3) rotate(-90)" font-size="22.4" text-anchor="middle">Doppler Shift [Hz]</text>
<text transform="translate(41,814.9) rotate(-90)" font-size="22.4" text-anchor="middle">Peak Voltage [V]</text>
<text x="789.5" y="1157.7" font-size="22.4" text-anchor="middle">UTC</text>
<text transform="translate(113.7,1078.0) rotate(-30)" font-size="22.3" text-anchor="end">07-06 00</text>
<text transform="translate(281.9,1078.0) rotate(-30)" font-size="22.3" text-anchor="end">07-06 03</text>
<text transform="translate(450.1,1078.0) rotate(-30)" font-size="22.3" text-anchor="end">07-06 06</text>
<text transform="translate(618.3,1078.0) rotate(-30)" font-size="22.3" text-anchor="end">07-06 09</text>
<text transform="translate(786.5,1078.0) rotate(-30)" font-size="22.3" text-anchor="end">07-06 12</text>
<text transform="translate(954.7,1078.0) rotate(-30)" font-size="22.3" text-anchor="end">07-06 15</text>
<text transform="translate(1123.0,1078.0) rotate(-30)" font-size="22.3" text-anchor="end">07-06 18</text>
<text transform="translate(1291.2,1078.0) rotate(-30)" font-size="22.3" text-anchor="end">07-06 21</text>
</svg>
</body></html>
